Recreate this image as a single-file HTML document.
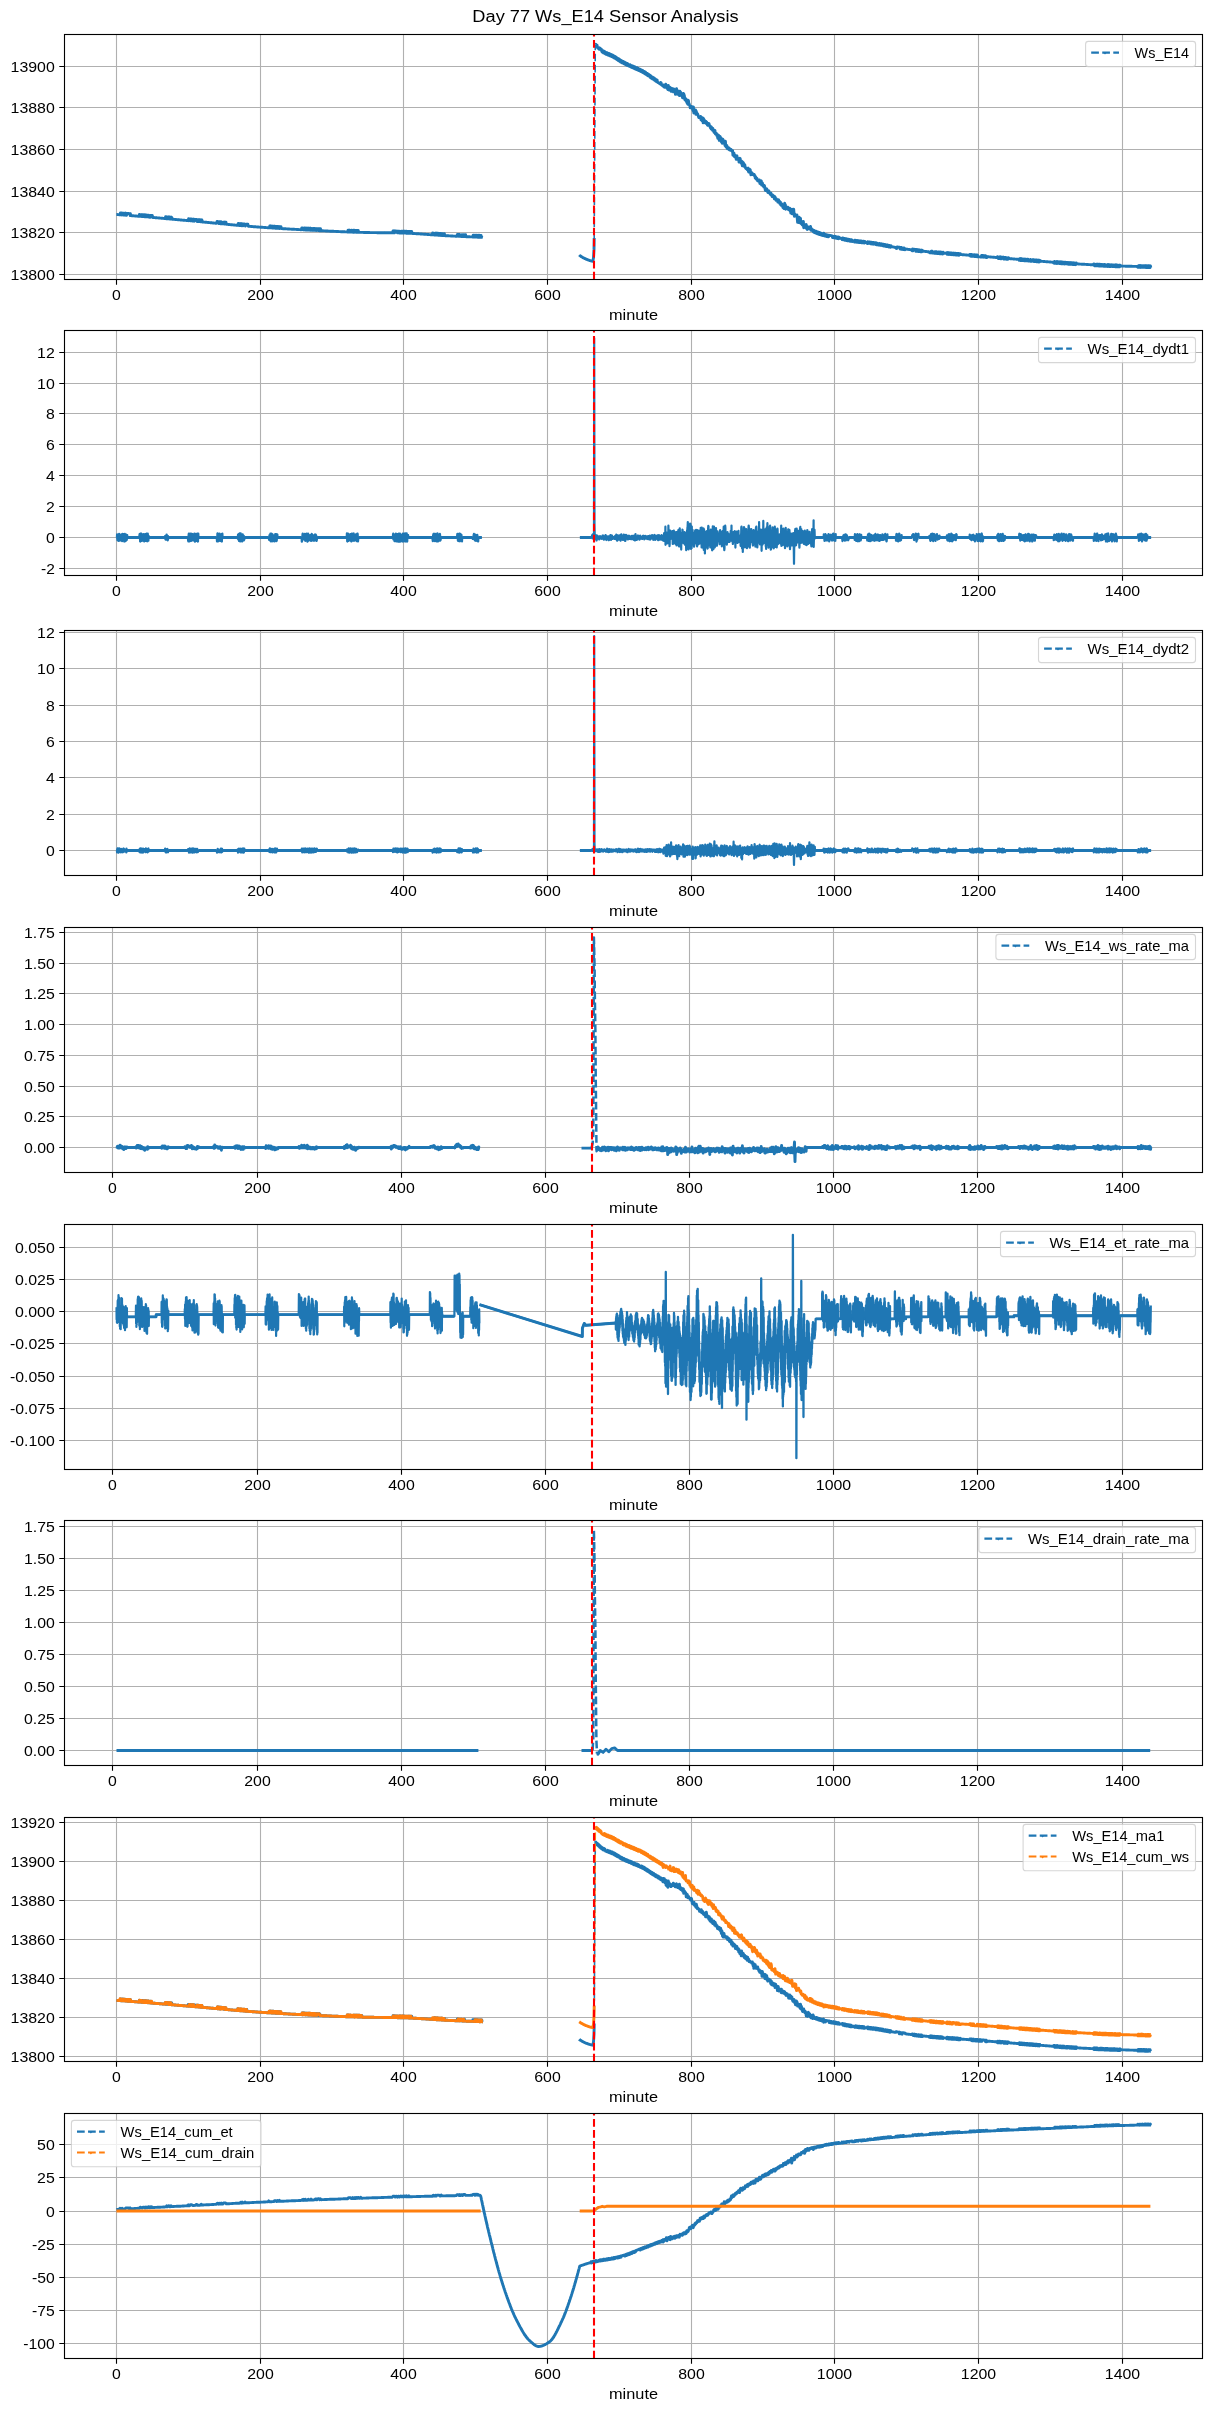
<!DOCTYPE html>
<html><head><meta charset="utf-8"><title>Day 77 Ws_E14 Sensor Analysis</title>
<style>html,body{margin:0;padding:0;background:#fff;width:1211px;height:2411px;overflow:hidden}
svg text{font-family:"Liberation Sans",sans-serif}
svg{will-change:transform}</style></head>
<body>
<svg width="1211" height="2411" viewBox="0 0 1211 2411" style="display:block">
<rect width="100%" height="100%" fill="#ffffff"/>
<defs>
<clipPath id="c0"><rect x="64.5" y="34.5" width="1138.0" height="245.0"/></clipPath>
<clipPath id="c1"><rect x="64.5" y="330.5" width="1138.0" height="245.0"/></clipPath>
<clipPath id="c2"><rect x="64.5" y="630.5" width="1138.0" height="245.0"/></clipPath>
<clipPath id="c3"><rect x="64.5" y="927.5" width="1138.0" height="245.0"/></clipPath>
<clipPath id="c4"><rect x="64.5" y="1224.5" width="1138.0" height="245.0"/></clipPath>
<clipPath id="c5"><rect x="64.5" y="1520.5" width="1138.0" height="245.0"/></clipPath>
<clipPath id="c6"><rect x="64.5" y="1817.5" width="1138.0" height="244.0"/></clipPath>
<clipPath id="c7"><rect x="64.5" y="2113.5" width="1138.0" height="245.0"/></clipPath>
</defs>
<text x="605.5" y="22.0" text-anchor="middle" font-size="17.3" textLength="266.3" lengthAdjust="spacingAndGlyphs">Day 77 Ws_E14 Sensor Analysis</text>
<g font-family="Liberation Sans, sans-serif" font-size="14.4" fill="#000">
<path d="M116.5 34.5V279.5M260.5 34.5V279.5M403.5 34.5V279.5M547.5 34.5V279.5M691.5 34.5V279.5M834.5 34.5V279.5M978.5 34.5V279.5M1122.5 34.5V279.5M64.5 274.5H1202.5M64.5 232.5H1202.5M64.5 191.5H1202.5M64.5 149.5H1202.5M64.5 107.5H1202.5M64.5 66.5H1202.5" stroke="#b0b0b0" stroke-width="1.11" fill="none"/>
<path d="M116.4 214.5l.7 0 .4 .1 1.1 0 .3 .1 1.1 0 .4-1.8 .3 0 .4 1.9 .3 .1 .4-1.9 .3 1.9 .4-1.8 .4 1.9 .3 0 .4-1.8 .3 1.9 .8 0 .3-1.8 .4 1.9 .3-1.9 .4 1.9 .4 .1 .3-1.9 .4 0 .3 .1 .8 0 .3 .1 1.1 0 .4 1.9 .3-1.8 .4 1.9 .3 0 .4 .1 1.1 0 .3 .1 .7 0 .4 .1 .7 0 .4 .1 1.1 0 .3 .1 .7 0 .4 .1 1.1 0 .3 .1 .4-1.9 .4 1.9 .3 .1 .4 0 .3-1.8 .8 0 .3 1.9 .4-1.8 .3 1.9 .7 0 .4-1.8 .4 0 .3 .1 .4 1.9 .3-1.9 .4 1.9 .4-1.8 .3 0 .4 1.9 .3-1.8 .8 0 .3 .1 .4 0 .3 1.9 .4-1.8 .4 1.9 .7 0 .3-1.8 .8 0 .3 .1 .7 0 .4 1.9 .3 .1 .8 0 .3 .1 .7 0 .4 .1 .7 0 .4 .1 .7 0 .4 .1 1 0 .4 .1 .7 0 .4 .1 .7 0 .4 .1 .7 0 .3 .1 .7 0 .4 .1 .7 0 .4 .1 .7 0 .4 .1 .3-1.9 .4 .1 .3 1.9 .4 0 .4-1.9 .3 2 .7 0 .4-1.8 .4 1.9 .3-1.9 .4 .1 .3 1.9 .4-1.9 .4 .1 .3 1.9 .4-1.9 .3 .1 .4 1.9 .7 0 .4 .1 .7 0 .3 .1 .8 0 .3 .1 .7 0 .4 .1 .7 0 .4 .1 .7 0 .4 .1 .7 0 .3 .1 .8 0 .3 .1 .7 0 .4 .1 .7 0 .4 .1 .7 0 .3 .1 .8 0 .3 .1 1.1 0 .4 .1 .7 0 .3 .1 .8 0 .3-1.8 .4 1.9 .3-1.8 .4 0 .4 1.9 .3 0 .4-1.8 .3 1.9 .4-1.8 .3 0 .4 1.9 .4 0 .3-1.8 .4 1.9 .3-1.8 .4 0 .4 1.9 .3-1.8 .7 0 .4 .1 .7 0 .4 .1 .3 1.9 .4 0 .4-1.8 .3 1.9 .4 0 .3-1.9 .4 .1 .7 0 .4 .1 .3 1.9 .4-1.9 .4 2 .3-1.9 .4 1.9 .3 .1 .7 0 .4 .1 .7 0 .4 .1 .7 0 .4 .1 .7 0 .3 .1 .8 0 .3 .1 .7 0 .4 .1 .7 0 .4 .1 .7 0 .4 .1 .7 0 .3 .1 .4 0 .3 .1 .8 0 .3 .1 .7 0 .4 .1 .7 0 .4 .1 .3 0 .4-1.8 .7 0 .4 .1 .3 0 .4 1.9 .4-1.8 .3 0 .4 1.9 .3 .1 .4-1.9 .4 0 .3 2 .7 0 .4 .1 .3 0 .4-1.8 .7 0 .4 .1 .3 1.9 .4-1.9 .4 .1 .7 0 .3 1.9 .4 .1 .7 0 .4 .1 .3 0 .4 .1 .7 0 .4 .1 .7 0 .4 .1 .7 0 .3 .1 .7 0 .4 .1 .7 0 .4 .1 .7 0 .4 .1 .7 0 .3 .1 .8 0 .3 .1 .7 0 .4-1.8 .4 0 .3 1.9 .4 .1 .3-1.9 .4 1.9 .4-1.8 .3 1.9 .4 0 .3-1.8 .4 1.9 .4-1.9 .3 1.9 .4 .1 .3-1.9 .4 .1 .7 0 .4 .1 .3 0 .4 1.9 .3-1.8 1.1 0 .4 .1 .7 0 .4 1.9 .3 .1 .7 0 .4 .1 1.1 0 .3 .1 .8 0 .3 .1 .7 0 .4 .1 1.1 0 .3 .1 1.1 0 .4 .1 .7 0 .3 .1 1.1 0 .4 .1 1.1 0 .3 .1 1.1 0 .4 .1 1 0 .4 .1 1.1 0 .3 .1 1.1 0 .4 .1 1 0 .4 .1 1.1 0 .3 .1 .8 0 .3-1.8 .4 1.9 .3-1.9 .4 1.9 .4 0 .3-1.8 .4 0 .3 1.9 .4-1.9 .3 1.9 .4 .1 .4-1.9 .3 0 .4 .1 .3 0 .4 1.9 .4 0 .3-1.8 .4 0 .3 1.9 .4-1.9 .4 1.9 .3-1.8 .4 0 .3 1.9 .4 0 .4-1.8 .3 1.9 .4-1.9 .7 0 .4 .1 .3 1.9 1.1 0 .3 .1 1.5 0 .3 .1 1.5 0 .3 .1 1.1 0 .4 .1 1.4 0 .4 .1 1.4 0 .4 .1 1.4 0 .4 .1 1.4 0 .4 .1 1.4 0 .4 .1 1.4 0 .4 .1 1.4 0 .4 .1 1 0 .4-1.8 .7 0 .4 1.9 .7 0 .3 .1 .4-1.9 .4 0 .3 1.9 .4-1.8 .3 1.9 .4-1.9 .4 1.9 .3-1.9 .4 1.9 .3-1.8 .8 0 .3 1.9 .4-1.8 .3 1.8 .4-1.8 .4 0 .3 1.9 .4-1.9 .3 .1 .4 1.9 1.1 0 .3-1.8 .4 0 .3 1.9 .4 0 .4-1.9 .3 1.9 .4 0 .3-1.8 .4 0 .4 1.9 .3-1.9 .4 .1 1.1 0 .3 1.9 .4 0 .3-1.8 .4 1.9 .4 0 .3-1.9 .4 0 .3 1.9 .4 0 .4 .1 1.7 0 .4 .1 1.8 0 .4 .1 1.8 0 .3 .1 1.5 0 .3 .1 1.8 0 .4 .1 1.8 0 .3 .1 1.8 0 .4 .1 1.8 0 .3 .1 1.8 0 .4 .1 1.8 0 .4 .1 2.1 0 .4 .1 1.8 0 .3 .1 .4 0 .3-1.9 .8 0 .3 1.9 .4-1.8 .3 1.8 .4 .1 .7 0 .4-1.9 .3 0 .4 1.9 .4 0 .3 .1 .4 0 .3-1.9 .7 0 .4 1.9 .4-1.8 .7 0 .3 1.9 .4 0 .4-1.9 .3 0 .4 1.9 .3-1.9 .4 0 .4 1.9 .7 0 .3 .1 4 0 .3 .1 5.4 0 .4 .1 6.8 0 .4 .1 7.5 0 .4 .1 6.8 0 .4 .1 .7 0 .3-1.9 .4 1.9 .4-1.9 .3 0 .4 1.9 .3-1.9 1.1 0 .4 .1 .7 0 .4 1.8 .3-1.8 1.5 0 .3 1.9 1.5 0 .3-1.8 .4 0 .3 1.8 .4 .1 .4-1.9 1 0 .4 1.9 .3-1.9 .4 0 .4 .1 .3 1.8 .4 .1 .3-1.9 .4 1.9 .7 0 .4-1.8 .3 1.8 .4-1.8 .4 1.9 .3-1.9 .4 1.9 .3 0 .4-1.8 .4 0 .3 1.9 .4-1.9 .3 0 .4 1.9 .4 0 .3 .1 1.4 0 .4 .1 1.1 0 .3 .1 1.5 0 .3 .1 1.1 0 .4 .1 1.1 0 .3 .1 1.1 0 .4 .1 1 0 .4 .1 1.1 0 .3 .1 .7 0 .4 .1 1.1 0 .3 .1 1.1 0 .4 .1 1.1 0 .3 .1 .7 0 .4 .1 .7 0 .4-1.8 .3 0 .4 1.9 .7 0 .4 .1 .3 0 .4-1.9 .3 .1 .4 1.9 .4-1.9 .3 1.9 .4-1.8 1.1 0 .3 1.9 .4-1.8 .3 1.9 .4-1.9 .4 1.9 .3 .1 .4-1.9 .3 0 .4 1.9 .4-1.8 .3 1.9 .4-1.9 .3 0 .4 .1 .4 1.9 .7 0 .3-1.9 .4 1.9 .3 .1 1.8 0 .4 .1 1.4 0 .4 .1 1.4 0 .4 .1 1.8 0 .4 .1 1.7 0 .4 .1 1.4 0 .4 .1 .4-1.9 1 0 .4 .1 .4 1.9 .3-1.9 .4 1.9 1.1 0 .3 .1 .4 0 .3-1.9 .4 1.9 .7 0 .4-1.8 .7 0 .3 1.9 .8 0 .3-1.8 .4 1.9 1.8 0 .3 .1 1.8 0 .4 .1 2.2 0 .3 .1 .4-1.9 .3 1.9 .4 0 .3-1.9 .4 1.9 .4 .1 .3 0 .4-1.9 .3 1.9 .4 0 .4-1.8 .3 1.8 .4-1.8 .3 1.9 .4 0 .4-1.9 .7 0 .3 1.9 .4-1.8 .4 1.9 .3-1.9 .4 0 .3 1.9 1.1 0 .4 .1" fill="none" stroke="#1f77b4" stroke-width="2.90" stroke-linejoin="round" clip-path="url(#c0)" />
<path d="M579.2 255l.3 .3 .4 .3 .3 .2 .4 .3 .4 .2 .3 .3 .4 .2 .3 .2 .4 .2 .4 .3 .3 .2 .4 .2 .3 .2 .4 .1 .3 .2 .4 .2 .4 .1 .3 .2 .4 .2 .3 .1 .4 .2 .4 .1 .3 .2 .4 .1 .3 .1 .4 .2 .4 .1 .3 .1 .4 .2 .3 .1 .4 .1 .4 .1 .3 .1 .4 .1 .3 0 .4 .1 .4 .1 .3 .1 .7-3.5 .5-8.4 .2-11.4" fill="none" stroke="#1f77b4" stroke-width="2.90" stroke-linejoin="round" clip-path="url(#c0)"/>
<path d="M595.3 44.4l.4-.2 .3 .3 .4 .3 .4 .3 .3 .3 .4 2.2 .3 .3 .4 .4 .4 .3 .3 .4 .4 .3 .3-1.5 .4 .3 .4 .4 .3 .3 .4 .3 .3 .3 .4 2.2 .4 .3 .3 .3 .4-1.6 .3 .2 .4 2.1 .4-1.7 .3 2.1 .4 .2 .3-1.7 .4 2.1 .3 .1 .4-1.7 .4 2.1 .3-1.8 .4 .2 .3 2 .4-1.7 .4 2 .3-1.7 .4 .1 .3 2.1 .4-1.8 .4 .2 .3 2 .4-1.7 .3 2 .4 .2 .4-1.7 .3 2 .4 .2 .3-1.7 .4 .2 .4 2.1 .3-1.7 .4 2.1 .3-1.7 .4 .2 .3 .2 .4 2.1 .4-1.6 .3 2.1 .4 .2 .3 .3 .4 .2 .4-1.7 .3 2.2 .4-1.7 .3 .2 .4 2.2 .4 .2 .3-1.7 .4 2.1 .3 .3 .4 .2 .4-1.7 .3 2.1 .4 .2 .3-1.7 .4 .2 .4 .2 .3 .2 .4 2 .3-1.7 .4 .2 .3 2.1 .4-1.7 .4 2 .3 .2 .4-1.7 .3 2 .4-1.7 .4 .1 .3 2.1 .4 .1 .3 .2 .4 .2 .4 .1 .3-1.7 .4 .2 .3 2 .4 .2 .4 .1 .3 .2 .4-1.7 .3 2 .4 .2 .4-1.7 .3 .1 .4 2.1 .3 .1 .4-1.7 .3 2 .4-1.7 .4 .2 .3 2 .4 .2 .3-1.8 .4 .2 .4 2 .3 .2 .4-1.7 .3 .1 .4 2.1 .4 .1 .3 .2 .4 .2 .3-1.7 .4 .1 .4 2.1 .3 .1 .4 .2 .3 .2 .4-1.7 .4 .2 .3 2.1 .4 .2 .3 .2 .4 .2 .4-1.6 .3 2.1 .4-1.7 .3 .3 .4 2.1 .3 .2 .4 .3 .4 .2 .3-1.6 .4 .2 .3 2.2 .4-1.6 .4 .2 .3 .3 .4 .2 .3 2.1 .4-1.6 .4 2.2 .3-1.7 .4 2.2 .3 .2 .4 .3 .4 .2 .3-1.6 .4 .2 .3 .2 .4 .3 .4 2.1 .3 .2 .4-1.6 .3 .2 .4 2.1 .3-1.6 .4 2.1 .4-1.7 .3 .3 .4 2.1 .3 .2 .4 .2 .4 .3 .3 .2 .4 .3 .3 .2 .4 .2 .4 .3 .3-1.6 .4 .2 .3 2.1 .4 .3 .4 .2 .3 .3 .4 .3 .3-.9 .4 1.8 .4 .2 .3-.6 .4 .8 .3-.3 .4-.4 .3-2.3 .4 1.5 .4 1.2 .3 1.3 .4-1 .3 .3 .4 2.1 .4-4.1 .3 2 .4 1.9 .3 .7 .4-3 .4 2.1 .3 .7 .4-1.9 .3 3.4 .4-1.3 .4-1.3 .3-.3 .4 1.9 .3 .6 .4 .8 .4-2.9 .3 1.2 .4 1.5 .3 .4 .4-2 .3 4.3 .4-4.1 .4-.6 .3-.9 .4 1.1 .3 .5 .4 4 .4-.8 .3-1.4 .4 1.3 .3-.4 .4 2.5 .4-4.3 .3 2.5 .4-1.9 .3 2.7 .4-1.3 .4 .1 .3 2.8 .4 .5 .3 1.3 .4-3 .4-1.4 .3 .3 .4 1.2 .3 1 .4 3.7 .3-1.5 .4 1.9 .4-1.3 .3 2.6 .4-1.7 .3 2.9 .4 .2 .4 1.4 .3-2 .4-1.9 .3 2.6 .4 .7 .4 1.6 .3 .4 .4 2.1 .3-.4 .4-.5 .4 .9 .3-1.3 .4 .7 .3 1 .4 1.5 .4 1 .3-3.7 .4 6.1 .3-1.3 .4 .3 .3-.4 .4 .4 .4-2 .3 4.4 .4-3.2 .3 3 .4-1.1 .4 1.2 .3-.2 .4 1.4 .3 .8 .4 1.3 .4-.3 .3-.6 .4 .5 .3-.7 .4 0 .4 3.4 .3-2.2 .4 .5 .3 2.5 .4-2.9 .4 1.4 .3 3.6 .4-4.3 .3 3.1 .4-2 .4 2.5 .3-.2 .4 .9 .3-.3 .4-1.1 .3 2.2 .4-1.5 .4 1.5 .3 1.4 .4-1.5 .3 1.9 .4-.9 .4-1 .3 1 .4 1 .3 .5 .4 1.7 .4 .3 .3 .6 .4-1.8 .3 2.6 .4-.2 .4 1 .3-1.8 .4 1.8 .3-.3 .4 2.2 .4-1.7 .3 2.5 .4-2.4 .3 3.5 .4 0 .3 .2 .4-.9 .4 2.3 .3-1.4 .4 2.5 .3 1.5 .4-2.7 .4-.2 .3 2.7 .4 2.4 .3-1.1 .4-2.9 .4 .8 .3 1.1 .4 3.2 .3-3.1 .4 3.7 .4 1.1 .3 0 .4-3.9 .3 3.7 .4-2.5 .4 2.3 .3 .7 .4 .3 .3 1.8 .4-4.4 .3 4.5 .4 1.4 .4 .1 .3-1.8 .4 1.6 .3 1.8 .4-.4 .4-.8 .3 .1 .4 .4 .3 1.6 .4-.9 .4 .1 .3 1.4 .4-.6 .3-.2 .4 .8 .4 .8 .3 .5 .4-1 .3 4.6 .4-.3 .4-2 .3 .2 .4 3.4 .3-.5 .4 1.1 .3-.1 .4-1.2 .4 3.5 .3-2.8 .4-.7 .3 2.3 .4-.3 .4 1.5 .3 0 .4-.7 .3 3.4 .4-3.5 .4 1.2 .3-1.4 .4 2.6 .3 1.3 .4 1 .4-2.1 .3 1.4 .4 3.3 .3-3.9 .4 1.5 .4-.7 .3 3.2 .4-.9 .3 1.6 .4-1.9 .4 2.8 .3 0 .4 1.1 .3-.6 .4 .6 .3 .4 .4 .7 .4-1.4 .3-.2 .4 3.1 .3 .8 .4-2 .4-1 .3 3 .4-2.3 .3 2.2 .4 2.8 .4-2 .3-.2 .4 1.4 .3-.4 .4 1.1 .4 .2 .3-.1 .4-.4 .3 .1 .4 1.5 .4-.4 .3 2.5 .4-1.1 .3 .4 .4 1.8 .3 .4 .4-1.1 .4 2.1 .3-.6 .4 1 .3-.1 .4 .2 .4-1.1 .3 1.1 .4 2.4 .3-1 .4 1.6 .4-1.9 .3-1.3 .4 4.2 .3-.6 .4-1.4 .4 2.2 .3 .7 .4-.9 .3 1.9 .4-1.6 .4 .9 .3 1.5 .4 2.7 .3-1.7 .4 1.9 .3-1.5 .4-.4 .4 1 .3 1.1 .4 1.6 .3-1.4 .4 1 .4-1.1 .3 1.9 .4 0 .3 1.2 .4-.4 .4 1.1 .3-1.5 .4 1.8 .3-.4 .4 1.9 .4-1.6 .3 .3 .4 .1 .3 1.5 .4 0 .4 2 .3-2.4 .4 1.4 .3-.6 .4 2.2 .3 .9 .4-1.5 .4 1.6 .3-.8 .4 .8 .3 1.7 .4-1.8 .4-.4 .3 2.5 .4-1.6 .3 2.5 .4-.3 .4-1 .3 2.9 .4-1.2 .3 1.7 .4-1.6 .4 1.5 .3-.4 .4 2.5 .3 .3 .4-.5 .4 1.4 .3-.9 .4-4.4 .3 5 .4-3.5 .3 4.4 .4-1.6 .4 1 .3-.1 .4-.4 .3-1 .4 .1 .4 2.2 .3-.4 .4 .7 .3-1 .4-.5 .4 2.8 .3-1 .4 3 .3-.9 .4-2.4 .4-.5 .3 4.6 .4-.4 .3-.2 .4-1.4 .4-2.5 .3 3.8 .4 3.1 .3-2.2 .4 1.9 .3-.7 .4-.1 .4 .3 .3 1 .4-1.4 .3 3.2 .4 4.2 .4-1.6 .3-2.6 .4 4.4 .3-5.5 .4 4.2 .4-3 .3 .5 .4-.5 .3 5.2 .4-2.1 .4 .1 .3 2.8 .4 .6 .3-2.5 .4 2.2 .4-3.1 .3 6.3 .4-1 .3-.5 .4 .3 .4-.1 .3 .3 .4 .8 .3-3.2 .4 4.3 .3-.4 .4 1.1 .4-2.6 .3 2 .4-.3 .3-.1 .4-1.2 .4 .6 .3 1.1 .4-2.3 .3-.1 .4 3.7 .4-1.4 .3 0 .4 1.6 .3-1 .4 .6 .4 .6 .3 1.4 .4 .2 .3-1.7 .4 .1 .4 2.1 .3 .1 .4-1.7 .3 .1 .4 2.1 .3-1.8 .4 .2 .4 2 .3-1.7 .4 .1 .3 .1 .4 2 .4-1.7 .3 .1 .4 2 .3 .1 .4-1.7 .4 .1 .3 2 .4 .1 .3 .1 .4 .1 .4-1.7 .3 1.9 .4-.9 .3-1.6 .4 2.7 .4-1.5 .3 1.7 .4 .1 .3 .1 .4-1.6 .3 1.8 .4 .1 .4-1.6 .3 .1 .4 1.7 .3 .1 .4 0 .4-1.6 .3 .1 .4 .1 .3 0 .4 .1 .4 .1 .3 0 .4 .1 .3 0 .4 .1 .4 1.7 .3 .1 .4 0 .3 .1 .4 .1 .4-1.6 .3 0 .4 1.8 .3-1.6 .4 .1 .3 1.7 .4 .1 .4 .1 .3 0 .4 .1 .3-1.6 .4 .1 .4 1.8 .3-1.6 .4 .1 .3 .9 .4 .1 .4 0 .3 .1 .4 .1 .3 .1 .4 .1 .4 .9 .3-1.6 .4 1.8 .3-1.6 .4 1.7 .4-1.6 .3 .1 .4 .1 .3 1.8 .4-1.6 .3 0 .4 .1 .4 1.8 .3-1.6 .4 1.7 .3-1.6 .4 1.8 .4-1.6 .3 0 .4 .1 .3 .1 .4 1.7 .4 .1 .3 0 .4-1.6 .3 1.7 .4-1.6 .4 .1 .3 1.7 .4-.8 .3 .1 .4 0 .4 .1 .3 0 .4 .9 .3-1.6 .4 0 .4 1.7 .3 .1 .4 0 .3 .1 .4-1.6 .3 1.7 .4-1.7 .4 1.8 .3-1.7 .4 1.7 .3 .1 .4 0 .4-1.6 .3 1.7 .4-1.6 .3 0 .4 .1 .4 1.7 .3-1.7 .4 1.8 .7 0 .4-1.6 .3 0 .4 1.8 .3 0 .4-1.6 .4 .8 .3 .1 .4 0 .3 .1 .7 0 .4 .9 .4-1.6 .3 1.7 .4-1.6 .3 0 .4 .1 .7 0 .4 1.8 .7 0 .4-1.6 .3 1.7 .4 .1 .3-1.6 .4 0 .4 1.7 .3-1.6 .4 1.7 .3-1.6 .4 .1 .4 0 .3 .1 .4 1.7 .3-1.6 .4 0 .3 1.8 .4-1.6 .4 1.7 .3 0 .4 .1 .3 .1 .4 0 .4-1.6 .3 .1 .4 1.7 .3 .1 .4 0 .4 .1 .3-1.6 .4 .1 .3 .1 .4 0 .4 1.8 .3-1.6 .4 0 .3 1.8 .4-1.6 .4 1.7 .3 .1 .4-1.6 .3 .1 .4 0 .3 1.8 .4-1.6 .4 1.7 .3-1.6 .4 .1 .3 .1 .4 1.7 .4 .1 .3-1.6 .4 .1 .3 0 .4 1.8 .4-1.6 .3 0 .4 .9 .3 .1 .4 .1 .4 .1 .3 0 .4 .1 .3 .1 .4 0 .4 .1 .3 .1 .4 0 .3 .1 .4 .1 .3 .9 .4 0 .4 .1 .3-1.6 .4 0 .3 .1 .4 .1 .4 0 .3 .1 .4 0 .3 .1 .4 1.7 .4-1.6 .3 1.7 .4-1.6 .3 1.7 .4-1.6 .4 1.7 .3 .1 .4 0 .3 .1 .4-1.6 .4 0 .3 1.7 .4 .1 .3 0 .4-.7 .4 0 .3 .1 .4 0 .3 .1 .4 0 .3 .1 .4 0 .4 .1 .3 0 .4 .1 .3 0 .4 .1 .4 0 .3 .1 .7 0 .4 .1 .4 0 .3 .9 .4-1.6 .3 1.7 .4-1.6 .4 0 .3 .1 .4 0 .3 .1 .4 0 .4 .1 .3 1.7 .4-1.6 .3 1.7 .4-1.7 .3 1.8 .4-1.7 .4 .1 .3 1.7 .4-1.6 .3 1.7 .4-1.7 .4 .1 .3 0 .4 1.7 .3-1.6 .4 .1 .4 1.7 .3-1.7 .4 .1 .3 .9 .8 0 .3 .1 .4 0 .3 .1 .8 0 .3 .1 .7 0 .4 .1 .3 0 .4 .1 .7 0 .4 .1 .3 0 .4 .1 .4 .8 .3 .1 .7 0 .4 .1 .4-1.7 .3 1.7 .4-1.6 .3 0 .4 1.7 .4 .1 .7 0 .3 .1 .4 0 .4-1.6 .3 0 .4 1.7 .3 .1 .4-1.7 .3 .1 .4 1.7 .7 0 .4-1.6 .3 1.7 .4 0 .4-1.6 .3 1.7 .7 0 .4-1.6 .4 1.7 .3-1.6 .4 1.7 .7 0 .4 .1 .3-1.7 .4 .9 .7 0 .4 .1 .7 0 .3 .1 .8 0 .3-.8 .4 .1 .3 1.7 .4-1.7 .3 1.7 .4-1.6 .4 1.7 .3-1.7 .4 .1 .7 0 .4 1.7 .3-1.6 .7 0 .4 1.7 .4-1.6 .7 0 .3 1.7 .4-1.6 .4 1.7 .3 0 .4-1.6 .3 0 .4 1.7 .4-1.6 .3 0 .4 1.7 .3-1.6 .4 1.6 .3-1.6 .4 0 .4 1.7 .3 .1 .4-1.7 .3 0 .4 .1 .4 0 .3 .9 1.1 0 .4 .1 .7 0 .3 .1 1.1 0 .4 .1 1.1 0 .3 .1 .7 0 .4 .1 1.1 0 .3 .1 .7 0 .4-.8 .4 .1 .3 1.6 .4-1.6 .3 1.7 .4-1.6 .4 1.7 .3-1.7 .4 1.7 .3 0 .4 .1 .4 0 .3-1.6 .4 0 .3 1.7 .4-1.6 .4 1.6 .3 .1 .4-1.7 .3 .1 .4 1.7 .3 0 .4-1.6 .4 1.7 1 0 .4 .1 .7 0 .4 .1 .7 0 .4-1.6 .3 1.7 .4 0 .3-1.6 .4 0 .4 1.7 .3-1.6 .7 0 .4 .1 .4 1.7 .3 0 .4-1.6 .3 1.7 .7 0 .4-.8 .4 0 .3 .1 .7 0 .4 .1 .7 0 .4 .1 .7 0 .4 .1 1 0 .4 .1 .7 0 .4 .1 .7 0 .4 .1 .7 0 .3 .1 1.1 0 .4-.8 .3 .1 .4 1.7 .7 0 .4 .1 .3-1.7 .4 1.7 .3-1.6 .4 1.7 .4-1.6 .3 1.6 .4-1.6 .3 0 .4 .1 .7 0 .4 1.7 .3-1.6 .4 1.7 .4-1.6 .3 1.7 .4-1.7 .3 .1 .4 0 .4 1.7 .7 0 .3 .1 .4 0 .3-1.6 .4 0 .4 .9 .7 0 .3 .1 1.1 0 .4 .1 .7 0 .4 .1 .7 0 .3 .1 .8 0 .3 .1 1.1 0 .4 .1 .7 0 .3 .1 .7 0 .4 .1 .7 0 .4 .9 .3-1.7 .4 .1 .4 1.7 .3-1.7 .4 1.7 .3-1.6 .4 0 .4 1.7 .3 .1 1.1 0 .4-1.6 .3 1.7 .4-1.6 .3 0 .4 1.7 .4-1.6 .3 1.6 .4 .1 .3 0 .4-1.6 .7 0 .4 1.7 .3 .1 1.1 0 .4 .1 .3-1.7 .4 .1 .3 0 .4 1.7 .4 0 .3-1.6 .7 0 .4 .1 .4 0 .3 1.7 .4-1.6 .7 0 .4 1.7 .3 0 .4-1.6 .3 1.7 .4 0 .3-1.6 .4 1.7 .4-1.6 .3 0 .4 1.7 .3-1.6 .4 1.6 .4-1.6 .3 .9 .7 0 .4 .1 .7 0 .4 .1 1.1 0 .3 .1 .7 0 .4 .1 .7 0 .4 .1 1.1 0 .3 .1 .7 0 .4 .1 1.1 0 .3 .1 .7 0 .4 .1 .7 0 .4 .1 1.1 0 .3 .1 .4 .8 .3 .1 .4-1.7 .4 .1 .3 1.6 .4 .1 .3 0 .4-1.6 .4 1.7 .3-1.7 .4 1.7 .3-1.6 .7 0 .4 .1 .4 0 .3 1.7 .4-1.7 .3 1.7 .4-1.6 .4 1.7 .3-1.7 .4 .1 .3 1.7 .4-1.7 .4 1.7 .3-1.6 .4 1.7 .7 0 .4-1.6 .3 1.7 .4-1.7 .3 0 .4 .1 .7 0 .4 1.7 .3 0 .4-1.6 .3 0 .4 1.7 .4-1.6 .3 0 .4 1.7 .3-1.7 .4 1.7 .4-1.6 .3 1.7 .4 0 .3-1.7 .4 .1 .4 1.7 .3 0 .4-1.7 .3 1.7 .4-1.6 .7 0 .4 1.7 .3 0 .4 .1 .4-1.7 .3 0 .4 .9 1 0 .4 .1 1.1 0 .3 .1 1.5 0 .3 .1 1.5 0 .3 .1 1.5 0 .3 .1 1.5 0 .3 .1 1.1 0 .4 .1 1.4 0 .4 .1 1.8 0 .3 .1 1.1 0 .4-.8 .3 0 .4 1.7 .3-1.6 .4 1.7 1.1 0 .3-1.6 .4 0 .3 1.7 .4-1.7 .4 0 .3 .1 .4 1.6 .3 .1 .4-1.7 .7 0 .4 .1 .3 1.6 .4-1.6 .4 1.7 .3-1.7 .4 .1 .3 0 .4 1.6 .4 .1 .3 0 .4-1.7 .3 1.7 .4 0 .4-1.6 .3 1.7 1.5 0 .3-1.6 .4 1.7 .3-1.7 .4 1.7 .3-1.7 .4 .1 .4 1.6 .3-1.6 .4 1.7 .7 0 .4-1.7 .3 .1 .4 1.6 .3-1.6 .4 1.7 .7 0 .4-1.7 .3 .1 .4 1.6 .4 .1 .3-1.7 .4 1.7 .3-1.7 .4 1.7 .4-1.6 .3 1.6 .4-1.6 .3 1.7 .7 0 .4-1.7 .4 0 .3 1.7 .4-1.6 .3 0 .4 .8 .7 0 .4 .1 3.2 0 .4 .1 3.2 0 .4 .1 3.2 0 .4 .1 3.9 0 .4 .1 .7 0 .3 .8 .4 0 .4-1.6 .3 1.6 .4-1.6 .3 1.7 .4-1.7 .4 1.7 .3-1.7 .4 1.7 .3 0 .4-1.7 .4 0 .3 1.7 .7 0 .4-1.6 .4 0 .3 1.6 .4 0 .3-1.6 .4 0 .4 1.7 .3-1.7 .4 0 .3 1.7 .8 0 .3-1.7 1.1 0 .3 1.7 .4-1.6 .4 1.6 .3-1.6 .4 1.6" fill="none" stroke="#1f77b4" stroke-width="2.90" stroke-linejoin="round" clip-path="url(#c0)"/>
<path d="M594.2 238l1.1-193.6" fill="none" stroke="#1f77b4" stroke-width="1.60" stroke-linejoin="round" clip-path="url(#c0)" stroke-dasharray="7.71 3.33"/>
<path d="M594.0 279.5V34.5" stroke="#ff0000" stroke-width="2.08" stroke-dasharray="7.71 3.33" fill="none"/>
<rect x="64.5" y="34.5" width="1138.0" height="245.0" fill="none" stroke="#000" stroke-width="1.11" stroke-linejoin="miter"/>
<path d="M116.5 279.5v5.2M260.5 279.5v5.2M403.5 279.5v5.2M547.5 279.5v5.2M691.5 279.5v5.2M834.5 279.5v5.2M978.5 279.5v5.2M1122.5 279.5v5.2M64.5 274.5h-5.2M64.5 232.5h-5.2M64.5 191.5h-5.2M64.5 149.5h-5.2M64.5 107.5h-5.2M64.5 66.5h-5.2" stroke="#000" stroke-width="1.11" fill="none"/>
<text x="116.5" y="299.8" text-anchor="middle" textLength="8.8" lengthAdjust="spacingAndGlyphs">0</text>
<text x="260.5" y="299.8" text-anchor="middle" textLength="26.5" lengthAdjust="spacingAndGlyphs">200</text>
<text x="403.5" y="299.8" text-anchor="middle" textLength="26.5" lengthAdjust="spacingAndGlyphs">400</text>
<text x="547.5" y="299.8" text-anchor="middle" textLength="26.5" lengthAdjust="spacingAndGlyphs">600</text>
<text x="691.5" y="299.8" text-anchor="middle" textLength="26.5" lengthAdjust="spacingAndGlyphs">800</text>
<text x="834.5" y="299.8" text-anchor="middle" textLength="35.3" lengthAdjust="spacingAndGlyphs">1000</text>
<text x="978.5" y="299.8" text-anchor="middle" textLength="35.3" lengthAdjust="spacingAndGlyphs">1200</text>
<text x="1122.5" y="299.8" text-anchor="middle" textLength="35.3" lengthAdjust="spacingAndGlyphs">1400</text>
<text x="54.8" y="280.2" text-anchor="end" textLength="44.2" lengthAdjust="spacingAndGlyphs">13800</text>
<text x="54.8" y="238.2" text-anchor="end" textLength="44.2" lengthAdjust="spacingAndGlyphs">13820</text>
<text x="54.8" y="197.2" text-anchor="end" textLength="44.2" lengthAdjust="spacingAndGlyphs">13840</text>
<text x="54.8" y="155.2" text-anchor="end" textLength="44.2" lengthAdjust="spacingAndGlyphs">13860</text>
<text x="54.8" y="113.2" text-anchor="end" textLength="44.2" lengthAdjust="spacingAndGlyphs">13880</text>
<text x="54.8" y="72.2" text-anchor="end" textLength="44.2" lengthAdjust="spacingAndGlyphs">13900</text>
<text x="633.5" y="319.8" text-anchor="middle" textLength="49.0" lengthAdjust="spacingAndGlyphs">minute</text>
<rect x="1085.6" y="41.4" width="110.0" height="25.2" rx="2.8" ry="2.8" fill="#ffffff" fill-opacity="0.8" stroke="#cccccc" stroke-opacity="0.8" stroke-width="1.11"/>
<path d="M1091.2 52.6h27.78" stroke="#1f77b4" stroke-width="2.08" stroke-dasharray="7.71 3.33" fill="none"/>
<path d="M1103.7 53.0l1.3 1.6l1.3 -1.6z" fill="#1f77b4"/>
<text x="1134.6" y="58.3" textLength="54.4" lengthAdjust="spacingAndGlyphs">Ws_E14</text>
<path d="M116.5 330.5V575.5M260.5 330.5V575.5M403.5 330.5V575.5M547.5 330.5V575.5M691.5 330.5V575.5M834.5 330.5V575.5M978.5 330.5V575.5M1122.5 330.5V575.5M64.5 568.5H1202.5M64.5 537.5H1202.5M64.5 506.5H1202.5M64.5 475.5H1202.5M64.5 444.5H1202.5M64.5 413.5H1202.5M64.5 383.5H1202.5M64.5 352.5H1202.5" stroke="#b0b0b0" stroke-width="1.11" fill="none"/>
<path d="M116.4 537.5l.5 0 .2-3.2 .2 1.5 .2 4.5 .2-2.2 .1-2.5 .2-.7 .2 3.8 .2 1.2 .2 1 .1-1.3 .2-2.2 .2-3.6 .2 1.1 .2 5.8 .1-2 .2-1.3 .2-1.9 .2 3 .2 1 .1 .9 .2-2.5 .2 .6 .2-1 .2-.9 .1-2.2 .2 1.6 .2 3.9 .2-.8 .1 2.1 .2-1.3 .2-3.3 .2-2.7 .2 .1 .1 3.8 .2 .8 .2 1 .2-5.5 .2 1.3 .1 1 .2 4.6 .2 .5 .2-5.9 .2-1.3 .1-.5 .2 .8 .2 2.3 .2 2.7 .2 1.6 .1-4.2 .2 1.4 .2-.7 .2-3.1 .2 1.1 .1 2.2 .2 2.1 .2-4.1 .2-.9 .2 2.5 11.8 0 .2-1.8 .2-1.5 .2-.3 .1 .2 .2 7.3 .2-.4 .2 .5 .2-3.5 .1-4.4 .2-.1 .2 .9 .2 6.4 .2-.4 .1 .6 .2-6.8 .2 1.9 .2-.4 .1 3.9 .2 .3 .2 .8 .2-4.6 .2 0 .1-1.9 .2 1.6 .2 2.1 .2-.1 .2 3.5 .1 .1 .2-3.7 .2 0 .2-2.5 .2-1.2 .1 2.6 .2-1.4 .2 4.5 .2-1.1 .2 1.4 .1 .8 .2-3.7 .2-2.6 .2-.9 .2 .4 .1 6.9 .2-.5 .2 .9 .2-2.4 .2-1.2 .1-4 .2 3.9 .2 2 .2 1 .2-4.7 .1 2.5 .2-.9 16 0 .2-1.5 .2 2.2 .1 .8 .2 .5 .2 .2 .2-.1 .2-2.4 .1-1.2 .2-1.4 .2 0 .2 2.6 .2 2.5 .1-2 .2-.2 .2 1.5 .2 1.3 .2-4.1 .1 3 .2-1.7 19.6 0 .2 3 .2 .8 .1-1 .2-5.1 .2-1.6 .2 .1 .2 5.5 .1 2.3 .2 0 .2-4.8 .2 4 .2-5.3 .1-1.8 .2 .1 .2 2.1 .2 3.4 .2 1.8 .1-.1 .2-.6 .2-6.4 .2-.2 .1 .7 .2 2.9 .2 2.9 .2-1 .2-4.8 .1-.2 .2 4.9 .2 1.4 .2-5.7 .2 2 .1-2.6 .2 4.8 .2 .7 .2-2.2 .2-3.9 .1 1.1 .2 3.6 .2 3.3 .2-.2 .2-.7 .1-6.5 .2-.3 .2 .1 .2 .6 .2 4.8 .1 .3 .2 .7 .2 .5 .2-.2 .2-6.7 .1-.4 .2 .1 .2 7.4 .2 .5 .2-.1 .1-4.7 .2-3.3 .2 4 18.1 0 .2 1 .2 2.9 .2-.8 .2-6.9 .1-.3 .2 .2 .2 4.9 .2 3 .2-.7 .1-3.3 .2-2.8 .2 2.3 .2 2.1 .2 .2 .1-3.8 .2-1.8 .2 1.3 .2 5.8 .2 .2 .1-.1 .2-1.6 .2-2 .2 1.3 .2 .4 .1-4.5 .2-.3 .2 2.8 .2 4.1 .2 .4 .1-2.7 .2-.5 .2-4.6 .2 3.8 14.9 0 .2 .3 .1 .9 .2-4 .2 4.8 .2-4 .2-1.4 .1 5.1 .2 .8 .2 1 .2-3.9 .2-3.4 .1-.3 .2 .8 .2 6.8 .2 .4 .2-.1 .1-4.4 .2-3.5 .2 2.7 .2 2.3 .2-1 .1-.4 .2 1.8 .2-1.5 .2 4.2 .2-.1 .1-3 .2-4 .2-.1 .2 1.9 .1 .8 .2 2.7 .2-3.7 .2 1.3 .2-1.4 .1 4.5 .2-1.3 .2 .6 .2-2.2 24.1 0 .1 .4 .2 .7 .2 1.2 .2-2.6 .2-2 .1 2.7 .2 2.6 .2-1.5 .2-3.6 .2-1.9 .1 .3 .2 5.8 .2 .5 .2 1.4 .2-3.7 .1-4.1 .2 2.5 .2 4.4 .2-3.9 .2-1 .1 .5 .2-1.8 .2 5.7 .2 1.3 .1-.6 .2-1.3 .2-1.2 .2-2 .2 1.2 .1-2 .2 .1 .2 .2 .2 4.5 .2 1 .1-.2 .2-3.4 .2-3.7 .2 1 .2 3.9 .1-3.2 .2 1.5 .2-3.2 .2 4.1 .2 2.2 .1 .8 .2-.8 .2-5.8 .2-.2 .2 .4 .1 2.3 .2 .5 23.9 0 .2 4.1 .2-.2 .2-3.3 .1-.2 .2-3.5 .2-.9 .2 .6 .1 5.3 .2-2.3 .2 .6 .2-.4 .2-.6 .1 0 .2 2.7 .2-.1 .2-2.9 .2-.4 .1-2.1 .2 2.7 .2 4.2 .2-1.6 .2-1 .1-.4 .2 1 .2 1.7 .2-4.2 .2 1 .1-3.6 .2 .3 .2 3.4 .2 .8 .2 3.4 .1-.1 .2-3.3 .2-3.3 .2-1.3 .2 .7 .1 3.4 .2-1.4 .2 4.3 .2-.9 .2-.5 .1-2 .2-1.8 .2 1.9 .2 2.2 .2 .3 .1-4.7 .2 1.6 .2-1.7 .2 2.8 .2 3.2 .1-.1 .2-.2 .2-2.1 .2-4.8 .2 .5 .1 .1 .2 1.9 .2-1.1 .2 1.1 .1 1.1 .2-.4 .2 3.6 .2-2.7 .2-2.6 .1 4 .2-2.9 .2 .1 .2 1.7 .2 2.5 .1-2.6 .2-2 .2 1.3 .2-3 .2 .1 .1 2.8 .2 2.5 .2-5.2 .2 .6 .2 .3 .1 1.7 .2 3.7 .2-.4 .2-1.1 .2-1.9 29.6 0 .2-4.1 .2 2.6 .1 5.3 .2 .2 .2-1.4 .2-6 .2-.6 .1 0 .2 .9 .2 6.6 .2-.2 .2-.4 .1-3 .2-2.7 .2 .7 .2 3 .2-.2 .1-.7 .2 2.7 .2-2.9 .2-3.3 .2 1.3 .1-.5 .2 6 .2 .7 .2-.1 .2-4.6 .1-3.1 .2-.1 .2 2.4 .2 3.5 .2-2.8 .1-.5 .2 3.5 .2 .9 .2-3.5 .1 .3 .2-3.8 .2-.1 .2 3.2 .2 3.7 .1 .4 .2-.4 .2-2.5 .2-1.7 .2-.3 .1 3.8 .2-.8 .2-1.2 .2 .7 .2-4.1 .1 5.7 .2-2.8 .2-1.1 .2 5 .2-.1 .1-.9 .2-1.9 .2-4.7 .2 .1 .2 .6 .1 6.7 .2 .6 .2-1.8 .2-2.2 34.5 0 .1-2.7 .2-1.1 .2 5.7 .2 .1 .2-5.2 .1 1.5 .2-1.2 .2 5 .2 1.5 .2-.5 .1-6 .2 .1 .2 .8 .2 3.7 .2 2 .1-5.2 .2-2.3 .2 1.5 .2 5.4 .2 .8 .1 0 .2-.5 .2-4.9 .2-2 .2 1.7 .1-.1 .2-1.6 .2 3.4 .2 4.2 .2 0 .1-3.1 .2-4 .2-1 .2 1.8 .2 4.8 .1 1.5 .2-.5 .2-5.7 .2-1.8 .2 4.8 .1 3.2 .2-1 .2-4.7 .2-1.4 .2 .6 .1 1.5 .2-.4 .2-.1 .2-1.3 .2 3.5 .1 3 .2 .2 .2-3 .2-4.4 .2-.5 .1 .2 .2 3.9 .2 1.8 .2 1.8 .1-2.6 .2 1.5 .2-.3 .2-2.8 .2-3.6 .1 .2 .2 5.3 .2 2.5 .2-.5 .2-3.4 .1-4.2 .2 2.6 .2 5.3 .2 .2 .2-.5 .1-6.4 .2-1.2 .2 0 .2 5.3 .2 2.7 .1 .1 .2-2.8 .2-3 .2 2.4 .2-2.7 .1-.3 .2 2.4 23.9 0 .2 .4 .2 1.6 .2 1.6 .1-1.4 .2-4.1 .2-.7 .2-1 .1 2.3 .2 4.5 .2-2.6 .2-4.2 .2 0 .1 4.4 .2 1.6 .2 1.2 .2-1.4 .2-5.8 .1 .3 .2 2 .2 3.1 .2-2 .2-.9 .1-.9 .2 3.6 .2 2.3 .2-1.5 .2-2 .1-4.3 .2-.2 .2 .9 .2 6.6 .2 .5 .1-.2 .2-4.7 .2-1.9 .2 3.2 .2-3 .1 .4 .2 1.6 .2 3.9 .2-1.8 .2 .9 .1-6 .2 1.4 .2 5.4 .2-.4 .2-.7 .1-2.7 .2 .7 15.8 0 .2 .3 .2-2.8 .2-1.2 .1 1.3 .2 2.2 .2 3.3 .2 0 .2 .5 .1-2.2 .2-2.9 .2 .8 .2-2.5 .2 .1 .1-.7 .2 6.3 .2 .9 .2 .4 .2-1.1 .1-6.4 .2 .2 .2 1.7 .2 3.2 .2 1.1 .1-1.9 .2-3.6 .2 1 .2 1.8 .2 3.4 .1 .7 .2-3.9 10.4 0 .2 1.5 .2-1.7 .2 .3 .2 .8 .1-2.1 .2-1.6 .2-.8 .2 .8 .1 1.4 .2 1.3 .2 .6 .2 2.3 .2-3 .1-1.8 .2-.9 .2 .4 .2 1.9 .2 2.4 .1 1.7 .2-2.4 .2-.5 .2-.7 .2 .2 .1-.5 .2 .7 .2-3 .2 1.3 .2 3.4 .1 1.7 .2-1.4 .2 1.7 .2-4 3.4 0" fill="none" stroke="#1f77b4" stroke-width="2.20" stroke-linejoin="round" clip-path="url(#c1)" />
<path d="M579.9 537.5l11.8 0 .4-2.3 .4 3.1 .3-3.9 .4 1.6 .8-3.1 .2-194.7 .3 186.9 .3 12.4 .3 1.5 .2-2.8 .2 .8 .2-1.6 .1-.4 .2 .2 .2 1.7 .2 3.1 .1 .5 .2-.4 .2-.9 .2-1.4 .2-2.2 .1 .2 .2 1 .2 1.6 .2-.1 .2-.2 .1-1.7 .2 .4 .2 1.7 .2-.6 .2 1.5 .1 0 .2-.1 .2-1.8 .2 .1 .2-1.5 .1 .4 .2 .9 .2 .6 .2-1.5 .2 .3 .1 .2 .2-.2 .2 1.7 .2 .3 .2 0 .1-.8 .2-.1 .2 .3 .2-2.5 .2 2.6 .1-2.5 .2-.3 .2 .2 .2 1.9 .2 1 .1 .9 .2 .2 .2-.6 .2-.7 .2-.7 .1-1.1 .2 2.1 .2-1.3 .2 .2 .2-2.2 .1-.3 .2 .1 .2 2.2 .2 2 .2 .6 .1-.2 .2-1 .2-1.9 .2 .7 .1-.7 .2 2.1 .2 .4 .2-1.8 .2-1.2 .1 .5 .2 .7 .2-1.1 .2 2.6 .2 1.1 .1-3.8 .2 2.1 .2 .4 .2-.9 .2 1.6 .1-3 .2 2.3 .2-2 .2-1.9 .2 .7 .1-.6 .2 4.7 .2 0 .2-.9 .2-1.3 .1-1.3 .2 .6 .2-1.4 .2 3.5 .2-1 .1-.8 .2 .4 .2-.3 .2 .1 .2 .1 .1 .2 .2-.7 .2 .8 .2-.9 .2 2 .1-1.3 .2 .5 .2-.4 .2-.5 .2-.6 .1-.7 .2 1.3 .2 1.2 .2 .7 .2-1 .1-.8 .2-2.8 .2 .6 .2 .4 .1 1.8 .2 3.2 .2 .2 .2-1.1 .2-.9 .1-3.4 .2 4 .2-3.3 .2 .9 .2 2.7 .1-.5 .2-3.5 .2 1.9 .2-.9 .2-1.3 .1 1.3 .2-.2 .2 3.1 .2 .3 .2 .2 .1 .4 .2 .3 .2-4.7 .2-1.3 .2 .1 .1-.5 .2 4.1 .2-2.6 .2 3.7 .2-3.4 .1 1.1 .2 1.7 .2-.6 .2 1.2 .2 .4 .1-.7 .2 .5 .2-3.9 .2-1.1 .2 .5 .1 1 .2 .3 .2-1.6 .2 .3 .2 3.5 .1 1.9 .2-.7 .2 1.1 .2-.9 .2-1.1 .1-1.3 .2-2.9 .2 .8 .2-.3 .1 0 .2 2.5 .2-1.8 .2-.3 .2 .9 .1 1.6 .2-.5 .2 1.8 .2-.1 .2-.5 .1-1.4 .2-.6 .2-1.1 .2-.1 .2 1.2 .1 1.2 .2-.8 .2 1.6 .2-.2 .2-1.3 .1-1.1 .2 1 .2 .7 .2-1.5 .2 2.7 .1-.3 .2-1.7 .2-.1 .2 .7 .2-.6 .1-1.4 .2 1.7 .2 1.6 .2-.2 .2 .1 .1-.3 .2-2.9 .2 .7 .2 1.3 .2 1.3 .1-.4 .2 1.1 .2-3.2 .2 0 .2-1.3 .1 3 .2 1.4 .2 .8 .2-1 .2-4 .1-1.3 .2 2.4 .2 1.2 .2-.1 .2 .8 .1 1.2 .2-1.1 .2 1.4 .2-1.2 .1-1.5 .2-1.3 .2 1.4 .2-.7 .2-.9 .1-.3 .2 1 .2 1.8 .2-1.3 .2-.9 .1 1.9 .2 1.3 .2-.5 .2 .8 .2-.6 .1-.5 .2-1.5 .2-1.4 .2 .3 .2 .8 .1 1.2 .2 .7 .2-1.6 .2 1.7 .2-1.1 .1 .9 .2-1.1 .2 1.4 .2 .1 .2-1.9 .1-.3 .2 .2 .2-1.1 .2 .8 .2-.6 .1-.1 .2-.1 .2 .4 .2 2.2 .2 .1 .1 1 .2-.3 .2-.8 .2-1.2 .2-.8 .1-.5 .2 .3 .2 2.1 .2 .1 .2-1.1 .1 .6 .2-1.2 .2 .5 .2-.9 .1 1.4 .2 1 .2 .4 .2-.6 .2-1.3 .1 .5 .2-.5 .2-1 .2 1.1 .2-.6 .1 .6 .2 1.9 .2 .1 .2-1.1 .2-1.3 .1-1 .2-.3 .2 .7 .2 2.8 .2 .5 .1-.2 .2-1.3 .2-2.1 .2 .2 .2-.7 .1 .7 .2 2 .2 .2 .2-.9 .2-2.3 .1 1.6 .2-1.5 .2 1.8 .2 1.7 .2-.6 .1 .4 .2 1.2 .2-1 .2-1.1 .2 1.3 .1-3.4 .2 0 .2-.6 .2 .1 .2 0 .1 3.6 .2 1.2 .2-1.6 .2 1.3 .2-1.2 .1 .3 .2-2.7 .2 1.9 .2 .1 .2-.4 .1-1.2 .2-.5 .2-.2 .2-.4 .1 1.7 .2-.4 .2 3.3 .2 0 .2 .2 .1-2.1 .2 2 .2-3.1 .2-1.9 .2 .6 .1-.3 .2 2.4 .2 0 .2 1.9 .2-.8 .1-.5 .2-.3 .2-1.9 .2 1.2 .2 2 .1 .3 .2 .1 .2-2.1 .2-2.5 .2 .3 .1-.1 .2 1.8 .2 .7 .2 1.2 .2 .9 .1 .4 .2-2 .2-2.4 .2 3.6 .2-1.5 .1 1.8 .2 1 .2-7.6 .2-.2 .2 2.9 .1 1.9 .2 .3 .2 2.9 .2-2 .2-12.3 .1 18.1 .2-3.7 .2-.2 .2-2.1 .2-6.4 .1 1.5 .2-1.1 .2 1.1 .2 5.5 .1 4.1 .2-3.5 .2-6.9 .2 4.3 .2 4.8 .1 .9 .2-.8 .2-16.8 .2 6.5 .2-.5 .1-1.3 .2 2.8 .2 6.4 .2 6.7 .2-1.9 .1-13.1 .2 .9 .2-1.3 .2 .9 .2 5.6 .1 1.7 .2-2.6 .2 .3 .2-4.8 .2 3.8 .1 1.1 .2-1 .2-2.7 .2 5.4 .2-6.9 .1-.4 .2 12.8 .2-1.5 .2 1.4 .2-5.1 .1-3.7 .2-3.4 .2-1 .2 2.5 .2 7 .1 2.7 .2-2 .2-4.3 .2-4.4 .2 1.7 .1 .9 .2 9.2 .2-5.1 .2-4.3 .2 4 .1 3.9 .2-10.3 .2 13.3 .2-.8 .1-10 .2-2.6 .2 2.7 .2 .9 .2 5.4 .1 1.2 .2 2.1 .2-8.1 .2-6 .2 .7 .1 12.7 .2 2.6 .2-.5 .2 .8 .2-4.8 .1-12.4 .2-.9 .2 2.8 .2 13.1 .2-.6 .1 2.2 .2-6.1 .2-2.8 .2-3.9 .2 16.5 .1-8.2 .2-1 .2-.8 .2 .3 .2-7.4 .1 2.4 .2-5.2 .2 .4 .2 4.2 .2-.3 .1 4.7 .2 3.6 .2 .9 .2-.5 .2 .4 .1-4 .2-.8 .2-5.5 .2-.8 .2 1.8 .1 10.9 .2-7.1 .2-1.4 .2-3.3 .2 2.7 .1 8.1 .2-.2 .2 6.7 .2-4.6 .2 4 .1-10.9 .2 1.6 .2-10.1 .2 3.6 .1-6 .2-.7 .2-5.1 .2 5.9 .2 3.1 .1 17.4 .2-.1 .2 1 .2-3.5 .2-17.7 .1 17.9 .2-.2 .2 1.9 .2-6.8 .2-7.4 .1-10 .2 .9 .2-.5 .2 3.1 .2 19.7 .1 2.2 .2-2.3 .2-.5 .2 2.1 .2-21.7 .1 15.5 .2-3.9 .2-6.2 .2-2 .2 4 .1-1.7 .2 1.7 .2 3.7 .2-1.3 .2 3.6 .1 .3 .2 6.1 .2 .3 .2-4 .2 2.4 .1-7.7 .2-2.5 .2-2.4 .2-2.1 .2 6.1 .1 5.4 .2 1.1 .2-3.6 .2-9.4 .2 11.1 .1-5.1 .2 5.6 .2 .3 .2 2.7 .1 2 .2-16.3 .2 3.4 .2-2.4 .2 9.9 .1 3.4 .2-.5 .2-7.9 .2-4.9 .2 1.6 .1-2.2 .2 7.4 .2 3.6 .2 2 .2-2.4 .1 1.5 .2-4.1 .2-3.3 .2 .9 .2 4.6 .1-13 .2 7.8 .2-6 .2 4 .2-2.7 .1 16.6 .2-19.8 .2 8.1 .2 6.1 .2-2.4 .1-4.4 .2 12.2 .2 .3 .2-5 .2-14.1 .1 3.3 .2-3.2 .2 21.4 .2-20.7 .2 12.8 .1-7.2 .2 6.6 .2-.3 .2 12.3 .2-13 .1 7.1 .2-6.7 .2-4.5 .2 1.1 .2-5.8 .1 .4 .2 4.5 .2-.4 .2-2.2 .2-3 .1 7.3 .2 2 .2 8.4 .2-.3 .1-.4 .2-2.2 .2-17.2 .2-2.7 .2 .5 .1 13.2 .2-4.4 .2 7.7 .2-1.9 .2-3.8 .1-6.4 .2 5 .2-.8 .2 10.3 .2 2.2 .1-.7 .2-6.7 .2-10.5 .2 7.4 .2-7.2 .1 .6 .2 2.1 .2-.4 .2 7.5 .2 10.7 .1 0 .2-11 .2-5.7 .2-7.2 .2 1.9 .1 4.9 .2 6.7 .2 9.2 .2-13.8 .2 5 .1-13.6 .2 3.3 .2-1.9 .2 7.8 .2 11.5 .1-.7 .2-3.1 .2-11.5 .2-3.8 .2 5.1 .1 4.7 .2-10 .2 13.1 .2-.7 .2-.5 .1-5.7 .2 11.5 .2-8.8 .2 4 .1-7.2 .2-2.5 .2 4.7 .2-2.8 .2 5 .1 2.5 .2-.8 .2 1.2 .2-1.9 .2-4.3 .1 2.1 .2 6 .2 1.2 .2-9.4 .2-.9 .1-3.7 .2 1.8 .2-.4 .2 .3 .2 8.4 .1-7.7 .2 7.5 .2 .9 .2-2.7 .2 8 .1-.9 .2-7.2 .2-3.4 .2-2.7 .2-1.2 .1 2.9 .2 6.4 .2-1.5 .2 .3 .2-8.6 .1-3.7 .2 15.5 .2 5.2 .2 2.7 .2-2 .1-6.9 .2 .9 .2-14.9 .2-1.6 .2 2.6 .1 6.1 .2 2 .2 2.1 .2-2.4 .2-3.3 .1 8.4 .2 .7 .2 2.9 .2-1.5 .1-1.9 .2-2.6 .2-6.5 .2 3.3 .2 .9 .1 1.6 .2 1.9 .2-6.4 .2 5.4 .2-1.4 .1 4.4 .2-1.5 .2-.9 .2 2.5 .2-3.1 .1-1.3 .2-2.8 .2 4.4 .2-1.8 .2-1.9 .1-4.6 .2 1.1 .2 5.2 .2 3.4 .2-15.1 .1 15.3 .2-6.1 .2-2.5 .2 1.7 .2 3.7 .1 2 .2 2.7 .2 1.7 .2-5.6 .2-6.2 .1 2.6 .2-.3 .2 7.3 .2-3.6 .2 3.9 .1-1.6 .2-4.7 .2-4.6 .2 6.8 .2 3.4 .1-3.6 .2 9.8 .2-13.7 .2 7.9 .2 1.2 .1-1.6 .2-2.9 .2-3.5 .2-3.5 .2 3.2 .1 .3 .2 2.9 .2 2.1 .2 2.5 .1 .4 .2-1.6 .2-8.4 .2-.5 .2-1.5 .1 8.6 .2-4.6 .2 7 .2-3.9 .2-1.2 .1-.8 .2 2.1 .2 0 .2-.5 .2 4.2 .1-1.8 .2 5.8 .2 .2 .2-10.1 .2-3.3 .1-5.2 .2-.9 .2 1.7 .2 7.1 .2 13.1 .1-2.1 .2-6 .2-9.1 .2 20.8 .2-18 .1 2.1 .2 6.4 .2 1.4 .2 .9 .2-7.3 .1-10.3 .2 2.1 .2-1.2 .2 5.9 .2 13.3 .1-1.3 .2 .7 .2-1.3 .2-.6 .2-4 .1-10.4 .2 .7 .2-2 .2 7.7 .2 1.7 .1 5 .2 4.6 .2-.2 .2-9.9 .1-2.3 .2 5.2 .2-.3 .2 .2 .2-5.6 .1 7.2 .2-15.2 .2-1.7 .2 2.7 .2 0 .1 18.5 .2-6.5 .2 5.8 .2 1.6 .2-8 .1-3.2 .2-1.2 .2-1.1 .2 1.6 .2-2.2 .1-3.7 .2-.8 .2 1.6 .2 10 .2 1.6 .1-2.1 .2-.3 .2-8.3 .2 .8 .2 12.5 .1 .2 .2 .5 .2-3.3 .2-12 .2-.1 .1 .1 .2 1.5 .2 3.1 .2 8.9 .2 .8 .1-3.8 .2-.8 .2-.7 .2-1.1 .2 8.5 .1-6.2 .2-.9 .2-11.4 .2-.9 .2-.7 .1 1.1 .2 12.6 .2-9.1 .2 6 .2 7.5 .1 2.8 .2-4 .2-.6 .2-.3 .1-7.3 .2 3.1 .2-4.4 .2 1.7 .2 7.1 .1-6.1 .2-14.5 .2 17.9 .2-5.9 .2 2.4 .1 2.4 .2 5.5 .2-3.3 .2-4.5 .2-4.9 .1-2.2 .2 2.7 .2 8.3 .2 .2 .2-1.2 .1 11.3 .2-18.6 .2 .8 .2-3.4 .2 4.4 .1 10.7 .2-.7 .2-2 .2-.1 .2-21 .1 9.2 .2 13.1 .2-3.7 .2-4.1 .2-2.9 .1-2 .2 11 .2-6.7 .2-2.8 .2-1.8 .1-.8 .2 9.4 .2 3.1 .2 4.5 .2-.9 .1 3.4 .2-10.1 .2-8.8 .2-2.6 .2 6.8 .1-2.3 .2-.7 .2-8 .2 14.3 .1-2.7 .2-3.7 .2 6.4 .2 5.9 .2 4.2 .1-.7 .2-1.6 .2-8.4 .2-.2 .2-7.3 .1 9.6 .2-12.5 .2 .9 .2-1.7 .2 3 .1 5.8 .2 9.3 .2 5.8 .2-.5 .2-2.6 .1-11.9 .2 1.8 .2-5.7 .2 5.7 .2 6.3 .1-3.1 .2 0 .2-12.3 .2 .3 .2 9.9 .1 4.8 .2 5.3 .2-.2 .2 .9 .2-2.9 .1-2.3 .2-8.2 .2-5.6 .2-.7 .2-1.9 .1 2.3 .2 12.4 .2-4.1 .2 9.6 .2-4.4 .1 1.1 .2-5 .2-8 .2 12.4 .2 3.8 .1 .5 .2-2.7 .2-15.5 .2 .8 .1-1.4 .2 1.4 .2 12.3 .2 2 .2-1.3 .1 .4 .2-3 .2-3.2 .2 .5 .2 1.6 .1 2 .2-5.6 .2-1.2 .2 2.7 .2 .1 .1-3.2 .2 9.6 .2-1.9 .2-2.1 .2 1 .1-1.2 .2-13.8 .2 20.3 .2-.7 .2-2.8 .1-6.6 .2 2.6 .2-9 .2 8.5 .2 5 .1 2.2 .2-1.6 .2-1.1 .2-13.9 .2 12 .1-7.4 .2-2 .2 10.5 .2-6.8 .2 2.6 .1 5.5 .2-5.4 .2 10.7 .2-7.4 .2 3.8 .1-11.1 .2-5.7 .2 3.1 .2 9.1 .2-.9 .1 .5 .2-.2 .2-3.2 .2-3.5 .2 2.8 .1 11 .2-.8 .2-1.9 .2-3.9 .1-2.6 .2-8 .2 7.9 .2-2.5 .2-.5 .1 11 .2-11.9 .2-3.5 .2 1 .2 10.9 .1 4.4 .2 3 .2-3.3 .2-8.2 .2-1.9 .1-2 .2-.1 .2 2.5 .2 3.4 .2 1.1 .1-2.8 .2 4.6 .2 3.1 .2-10.2 .2-1.7 .1 1.4 .2 7.2 .2-4.1 .2-2.5 .2 1.3 .1-3.9 .2 2.1 .2 15.5 .2 13.2 .2-15.8 .1-.8 .2-3.2 .2-.9 .2-.2 .2-12.8 .1 1.6 .2-2.8 .2 15.4 .2 1.1 .2-1.7 .1 1.5 .2-7.4 .2 1.5 .2-10.6 .2 4.8 .1 8.2 .2 1 .2-1.3 .2-9.3 .1-.4 .2 5.3 .2-3.5 .2-2.7 .2 4.7 .1 5.5 .2-3.4 .2 4.4 .2 .7 .2 5 .1-2 .2-12 .2-2.9 .2-2.9 .2-1 .1 9.5 .2 3.4 .2 3.1 .2-.8 .2-4.3 .1-8.6 .2 13.3 .2-6.3 .2 6.4 .2-2.5 .1 .2 .2-4.4 .2-4 .2-.7 .2 3.8 .1-3.6 .2 7 .2-.3 .2-3.5 .2 9.4 .1-2.3 .2 2.2 .2-7.3 .2-4 .2-2.1 .1 3.4 .2 5.7 .2 1.1 .2 3.9 .2-3.5 .1-9.4 .2 .5 .2 3 .2 7.5 .2 1.6 .1 .8 .2-1.1 .2-5.2 .2-8.8 .2 .8 .1 4.4 .2-.8 .2 5.4 .2 1.5 .1 2.7 .2-7.9 .2 2.6 .2 0 .2 4.1 .1-6 .2 1.3 .2-6.2 .2 7.3 .2 3.7 .1-5.5 .2 2.4 .2 2.7 .2-5.6 .2-1.3 .1 6 .2 3.3 .2 1.5 .2-1.1 .2-8.5 .1-3.8 .2-3.8 .2 4.1 .2 12.8 .2-4.2 .1-6.9 .2 2.2 .2-3.1 .2 2 .2-15.8 .1 26.6 .2-8.3 .2-6 .2-2.3 .2-.6 .1 2.1 .2 6.6 .2-.9 8.4 0 .2 .2 .2-3.3 .2 .7 .2 .4 .1 3.1 .2 2.2 .2-.5 .2-.3 .2-5.2 .1 .5 .2-1.2 .2 1.8 .2 2.3 .2 2.3 .1-5.5 .2 2.9 .2-1.8 .2 1.6 .2-2.2 .1 4 .2-1.6 .2 2.4 .2-2.2 .1 .3 .2-2.8 .2 .6 .2-.4 .2-1.7 .1 2.2 .2 2.1 .2 .5 .2 2.6 .2-.9 .1-.1 .2-1.4 .2-3.6 .2-.6 .2 2.9 .1 .5 .2-1.8 .2-1.4 .2-.4 .2 .3 .1 1.4 .2 2.3 .2 .7 .2 1.1 .2 .1 .1-1.7 .2 1.2 .2-.7 .2-1.4 .2-4.1 .1 1.9 .2-2.2 .2 .1 .2 1.7 .2 .3 .1 4.3 .2 .4 .2 .3 .2-3.5 .2 .6 .1 .6 .2 1.5 .2 .9 .2-2.6 .2-4.2 .1 3.5 6 0 .1-.5 .2 1 .2 1.5 .2 1.6 .2-1 .1-1.2 .2-1.3 .2-.9 .2-1.4 .2 0 .1 1 .2 1.4 .2-2.8 .2 .7 .2 .6 .1 1 .2 3.5 .2-.7 .2-.6 .2-1.1 .1-4 .2 1.6 .2 4.6 .2-2.2 .2 .5 .1-3.9 .2 .2 .2 .3 .2 .5 .2 .9 .1 1.4 .2 .3 .2-.4 .2-.7 .1 2.9 .2-.5 .2 0 .2-.5 .2-1.8 5.5 0 .2-.2 .2 2.5 .2-5.6 .2 1.3 .1 2.5 .2-1.6 .2 3.8 .2-.7 .2 .7 .1 .6 .2-2.7 .2 1.6 .2-5.1 .2 0 .1 .3 .2 1.2 .2-1.9 .2 2.5 .2 4.6 .1-1.9 .2 .2 .2-2.3 .2-2 .1 .4 .2-.2 .2 4 .2 1.7 .2-5.9 .1-.9 .2 .5 .2-.4 .2 3 .2 2 .1 1 .2 0 .2-.4 .2-1.6 .2-3.6 .1 2.6 5.6 0 .2 1.7 .2 1.3 .2-.7 .1-2.9 .2-.7 .2-1.9 .2 3.6 .1 .8 .2 2.3 .2-1.5 .2-2 .2-3.9 .1 0 .2 .5 .2 1.3 .2 4.5 .2 1.2 .1 .1 .2-1 .2-5.1 .2-.4 .2 1.2 .1 1.8 .2 2.9 .2-4.3 .2 2.7 .2-1.9 .1-1.8 .2 4.1 .2-2.7 .2 .8 .2 1.8 .1 .7 .2-.9 .2 1.3 .2-4.7 .2 1 .1 0 .2-.3 .2-1.3 .2 .3 .2 5.2 .1-.2 .2 .4 .2-4.6 .2-.6 .2-1.7 .1 3.4 .2 1.9 .2 .7 .2-3.1 .2 2.4 .1-4.1 .2 1.2 .2 2.7 .2 1.3 .2-3 .1-2.5 .2 1.5 .2-1.5 .2-.4 .1 4.7 .2 .4 .2 .7 .2-2.7 .2-1.2 .1 .9 .2 2.2 .2 1.6 .2 0 .2-1.1 .1-4.7 .2 0 .2 .4 .2-.4 .2 1.9 .1 2.8 .2-.5 .2-2.9 .2 .2 .2 2.7 .1-.2 .2 .8 .2-2.3 .2 .9 .2-4.2 .1-.1 .2 2 .2-1.3 .2 1.4 .2 3.6 .1-4.8 .2 4.4 .2 .1 .2-.2 .2-1.2 .1-.2 .2-.1 .2-3.1 .2 .8 .2-1 .1-.8 .2 1.9 .2 3.6 .2-3.4 .2 2.3 .1 .7 .2 1.7 .2 .7 .2-.4 .2-3.6 .1-2.8 .2 2.4 .2-2.7 .2 3.9 .2-.7 8 0 .2 3.2 .2-3.9 .2-2.6 .2-.3 .1 1.9 .2-1.1 .2 2.1 .2 3 .2 1.3 .1-5.7 .2-.7 .2 .9 .2 5.3 .1 .5 .2-.6 .2-.8 .2-3.7 .2-2.2 .1-.6 .2 .4 .2 1.5 .2 4.2 .2 .2 .1 .8 .2-2.4 .2-.5 .2 2 .2-4 .1 4.4 .2-2.6 .2-1.6 .2-.8 .2 2.4 10.2 0 .2-2.3 .2 2.1 .1-1.9 .2-.5 .2-.6 .2-.1 .2 0 .1 2.6 .2-1.7 .2 2.8 .2 2.1 .2 .1 .1-.2 .2-.6 .2-3.4 .2-.1 .2 3.7 .1-4 .2-.8 .2-1.1 .2 0 .2 .2 .1 2.2 .2 4 .2 1.6 .2-.9 .2-.9 .1-.6 .2-3.8 .2 3.9 .2-2.7 .2-1.3 .1 1.7 .2-3.1 .2-.2 .2 .1 .1 3.4 .2 .1 .2 .2 10.2 0 .2-1.6 .2 2 .2 .7 .2 0 .1 .8 .2 1.3 .2 .2 .2-1.8 .2-3 .1-1.9 .2 1.9 .2 1.2 .2 1.1 .2 1.1 .1 .3 .2-2.9 .2-3.3 .2 .6 .2 1.3 .1 5 .2 .1 .2 .6 .2-3.7 .2-.2 .1-3.3 .2-.1 .2 .3 .2 5.8 .2-3.1 .1 1.8 .2-1.6 .2-.9 .2 .3 .2 1.3 .1 3.2 .2-2.4 .2 .3 .2 .6 .2-2 .1-3.2 .2 2.1 .2 .7 .2-2.9 .2 2.6 .1-.3 .2 2.2 .2 .9 .2-.8 .2-.5 .1 .4 .2-2.2 .2-.4 .2 1.7 .1 .3 .2 .9 .2-1.1 .2-2.4 .2 2 6.8 0 .2-.7 .2-1.5 .1 1.7 .2 2.3 .2 .9 .2 .2 .2 .1 .1-2.8 .2-.9 .2-.3 .2 1 .1-3.1 .2 1.1 .2-1.3 .2 1.3 .2 3.9 .1 1.7 .2 .2 .2-3.5 .2 .6 .2-2.6 .1-1.5 .2 1.9 .2 1.5 .2 3.2 .2-1 .1-6.4 .2 .3 .2 .1 .2 1 .2 3.1 .1 3.5 .2-.3 .2-.5 .2-3.8 .2-1.8 .1 .2 .2 1.2 .2 3.5 .2-4.3 .2 3.9 .1-1.6 .2-2.9 .2 3.2 .2-1.7 .2 1.1 .1-1.6 .2 1.4 .2 1.9 .2-1.7 .2 2.4 .1 .1 .2-3.7 .2-2.4 .2 1.2 .2-.7 .1 2.6 .2 .3 12.6 0 .2-3 .1 1.4 .2 3.1 .2-1 .2-2.3 .2 .5 .1-.8 .2 2.7 .2-1.9 .2 3.8 .2 .2 .1-1.2 .2-.9 .2-1.6 .2-1.5 .2 1.6 .1-.3 .2-.3 .2 2.9 .2-2.7 .2-1.1 .1-.4 .2 5.3 .2-.4 .2-4 .2 .2 .1 1.2 .2-.6 .2 3.5 .2 1.4 .2-1.9 .1-1.4 .2-1.8 .2-.4 .2 2 .2 1.2 .1 .2 .2-.2 .2-3.5 .2-1.5 .2 .5 .1-.1 .2 4.4 .2 2.1 .2-3.1 .2-.5 .1 3.3 .2 .6 .2-1.1 .2-2 .1-.4 .2-3.5 .2-.2 .2 .8 .2 3.3 .1 1.1 .2 1.5 .2-.2 .2 .4 .2-6.2 .1 4.6 .2 .7 .2 1.3 .2-.9 .2 0 .1-5.7 .2-1 .2-.2 .2 1.1 .2 2 .1 2.6 .2-1.4 .2 3.6 .2-.7 .2 .2 .1-1.8 .2-2.5 .2 .9 13.7 0 .1-2.5 .2 3.9 .2-.9 .2 2.3 .2-5.4 .1-1 .2 5.2 .2-3.2 .2 3.8 .1 1.4 .2 .1 .2-3.8 .2 .1 .2-1.3 .1 .8 .2 .1 .2-2.8 .2 1.5 .2-1.6 .1 4.6 .2 .7 .2 1.3 .2-2.8 .2 3 .1-.6 .2-2.3 .2 .8 .2-3.4 .2-.7 .1-.2 .2-.7 .2 2.1 .2 .4 .2 2.1 .1 1.5 .2 1 .2-.8 .2-1.1 .2-3.2 .1 2 .2 2.1 .2-.1 .2-2.6 .2-1.2 .1 1.4 13.9 0 .1-3.3 .2-.5 .2 1.3 .2 1.2 .2 1.6 .1 1.5 .2 1.3 .2-.8 .2-5.7 .2 .1 .1 3.8 .2 1.9 .2 0 .2-1 .2-1.1 .1 .6 .2 1.5 .2-2.3 .2-.5 .2 .5 .1-.3 .2-2.2 .2 1.1 .2 3.1 .2-.5 .1 1.8 .2-4.4 .2-1.1 .2 1 .2-.6 .1 1.3 .2 4.7 .2-.3 .2-2.8 .2 1 .1-5 .2 .5 .2-.4 .2 5.7 .2 .5 .1-.7 .2-1.8 .2-1.7 .2-.2 .2-.1 .1 2.2 .2 .7 .2 1.6 .2-1.9 .2-5 .1 .1 .2 .5 .2-.2 .2-.2 .1 1.6 .2-1.2 .2 5.2 .2 1.1 .2-2 .1 2.7 .2-3.3 .2 1.2 .2-2.4 .2-.2 .1 1.4 .2-1 .2 0 .2-2.5 .2 .8 .1 .4 .2 4.5 .2 0 .2 1.2 .2-1.4 .1-.9 .2-2.5 .2-2.2 .2 2 .2 3.8 .1-3.5 .2 3.5 .2-5.8 .2 .4 .2 2.9 .1 .5 .2 2.3 .2-2.1 .2 2.1 .2-5 .1-.5 .2 2.5 .2 .5 .2-3.1 .2 1.5 .1-.9 .2 .6 .2 1.3 17.1 0 .1 2.7 .2-2 .2-2.4 .2-1.1 .2 2.4 .1-.1 .2 2.7 .2-1.3 .2-.7 .2-2.5 .1 .8 .2-.3 .2 2.4 .2-.4 .2 .4 .1-1.5 .2 3.3 .2-5.7 .2 4.7 .2-2.5 .1-.3 .2 4.4 .2-2.8 .2-1.8 .2 5.4 .1-2.9 .2 1 .2-3.5 .2-2 .2 1.7 .1-.7 .2 4.7 .2 1.5 .2-.6 .1-5.6 .2 2.2 .2-1.5 .2 1.5 .2 2.7 .1-.4 .2-3.1 .2-.6 .2-1.9 .2 .1 .1-.4 .2 5.9 .2-.6 .2 1.2 .2 .1 .1 .7 .2-.3 .2-1 .2-.5 .2 1 .1-1.7 .2-3.9 .2-.6 .2 1 .2 1.1 .1 1.7 .2-3.1 .2 3.7 .2 1.7 .2-.4 .1-1.2 .2 1.3 .2 1.2 .2-4.1 .2-1.8 .1-.5 .2 1.5 .2 .6 .2 2.5 .2-2.3 .1-.2 .2 2.2 .2 1.5 .2 .4 .2 .2 .1 .2 .2-.5 .2 .6 .2-6.2 .2-.5 .1 .1 .2 2.8 .2 .5 .2 .9 .1-4.5 .2 2.4 .2 2.6 .2 .9 .2 .5 .1-.8 .2-.8 .2-2.7 .2-1.9 .2 .5 .1 1.5 .2-1.1 .2 .8 .2 .6 .2 1 .1-.2 .2 1.8 .2 1.2 .2-.2 .2 .5 .1-3.3 20.5 0 .2 3.5 .2-2.7 .2-2 .1 4.1 .2-5 .2-1.7 .2 .5 .2 2.5 .1 2.7 .2 .6 .2-.9 .2-3.3 .2 1.7 .1-.8 .2 4.3 .2-.8 .2 .3 .2-6 .1-1 .2 .1 .2 1.5 .2 1.1 .2 3.1 .1 1.1 .2-1.1 .2-1 .2 2.9 .2-5 .1 3.1 .2-.3 .2-4 .2 1.2 .1 1 .2 .2 .2-1.3 .2-.5 .2-.5 .1 2.3 .2 .7 .2-2.3 .2 4.6 .2-1.4 .1 1.1 .2-1.8 .2-2.1 .2-1.9 .2 .7 .1 1.8 .2 1.3 .2 1.7 .2-1.7 .2-.8 .1-.2 .2 .2 .2 1 .2-2.4 .2 2.7 .1 .3 .2-.9 .2-1.3 .2 2.1 .2 .2 .1-.8 .2-2.6 .2-1.2 .2 .1 .2 4.8 .1 1.3 .2 .9 .2-2.5 .2-3.4 .2-1.7 .1 .5 .2 .3 .2 5 .2 1.4 .2 .4 .1-1.2 .2-4 .2-2.7 .2-.1 .2 1.8 .1 1.4 .2 2.3 .2 1.6 .2 .4 .2-1.4 .1 .4 .2-1.8 .2-.2 .2 .2 .1 .3 .2-.7 .2 2 .2-3.6 .2 2.2 .1-4.1 .2-.5 .2 1.5 .2 4.5 .2 .3 .1 1.4 .2-.5 .2-2 .2-2.6 .2-1.8 .1-.6 .2 1.7 .2 3.9 .2-1.4 .2-2.1 .1-1.1 .2-.4 .2 1.4 .2 2.6 .2 2.3 .1 .4 .2-2.7 .2 1.2 .2-2.3 .2 2.2 .1-2.9 .2 .6 .2-3.9 .2 2 .2 .5 .1-.7 .2 2.4 .2 3.8 .2-4 20.6 0 .2-.2 .2-1.6 .2-1.3 .2 .6 .1 1.6 .2 1.8 .2 2.4 .2-1.1 .2 0 .1-2.1 .2-3.2 .2 .2 .2-.6 .1 3.7 .2-.7 .2 2.8 .2-.9 .2-2 .1-2.7 .2-.7 .2 .9 .2 1.3 .2 3.6 .1 2.1 .2 0 .2-3 .2-2.8 .2-1.3 .1 .4 .2 3.9 .2-.4 .2-1.5 .2 .9 .1-1.6 .2 .9 .2-2.1 .2-.3 .2 5.6 .1-2.3 .2 .5 .2 2.2 .2 0 .2 .1 .1-1.6 .2-3.9 .2-1.3 .2 .2 .2 .2 .1 2.8 .2 3.6 .2-2.9 .2-.6 .2 1.8 .1-3.9 .2 2.8 .2-.3 3.4 0" fill="none" stroke="#1f77b4" stroke-width="2.20" stroke-linejoin="round" clip-path="url(#c1)" />
<path d="M116.4 537.5l.5 0M127.4 537.5l11.8 0M148.9 537.5l16 0M168.3 537.5l19.6 0M198.5 537.5l18.1 0M222.6 537.5l14.9 0M244.5 537.5l24.1 0M277.7 537.5l23.9 0M317.1 537.5l29.6 0M358.4 537.5l34.5 0M408.3 537.5l23.9 0M441 537.5l15.8 0M462.2 537.5l10.4 0M478.4 537.5l3.4 0" fill="none" stroke="#1f77b4" stroke-width="2.90" stroke-linejoin="round" clip-path="url(#c1)"/>
<path d="M579.9 537.5l11.8 0M815 537.5l8.4 0M835.8 537.5l6 0M848.8 537.5l5.5 0M861.3 537.5l5.6 0M887.8 537.5l8 0M901.8 537.5l10.2 0M919 537.5l10.2 0M939.7 537.5l6.8 0M956.9 537.5l12.6 0M983.5 537.5l13.7 0M1005.2 537.5l13.9 0M1036.5 537.5l17.1 0M1073.1 537.5l20.5 0M1117 537.5l20.6 0M1147.7 537.5l3.4 0" fill="none" stroke="#1f77b4" stroke-width="2.90" stroke-linejoin="round" clip-path="url(#c1)"/>
<path d="M594.0 575.5V330.5" stroke="#ff0000" stroke-width="2.08" stroke-dasharray="7.71 3.33" fill="none"/>
<rect x="64.5" y="330.5" width="1138.0" height="245.0" fill="none" stroke="#000" stroke-width="1.11" stroke-linejoin="miter"/>
<path d="M116.5 575.5v5.2M260.5 575.5v5.2M403.5 575.5v5.2M547.5 575.5v5.2M691.5 575.5v5.2M834.5 575.5v5.2M978.5 575.5v5.2M1122.5 575.5v5.2M64.5 568.5h-5.2M64.5 537.5h-5.2M64.5 506.5h-5.2M64.5 475.5h-5.2M64.5 444.5h-5.2M64.5 413.5h-5.2M64.5 383.5h-5.2M64.5 352.5h-5.2" stroke="#000" stroke-width="1.11" fill="none"/>
<text x="116.5" y="595.8" text-anchor="middle" textLength="8.8" lengthAdjust="spacingAndGlyphs">0</text>
<text x="260.5" y="595.8" text-anchor="middle" textLength="26.5" lengthAdjust="spacingAndGlyphs">200</text>
<text x="403.5" y="595.8" text-anchor="middle" textLength="26.5" lengthAdjust="spacingAndGlyphs">400</text>
<text x="547.5" y="595.8" text-anchor="middle" textLength="26.5" lengthAdjust="spacingAndGlyphs">600</text>
<text x="691.5" y="595.8" text-anchor="middle" textLength="26.5" lengthAdjust="spacingAndGlyphs">800</text>
<text x="834.5" y="595.8" text-anchor="middle" textLength="35.3" lengthAdjust="spacingAndGlyphs">1000</text>
<text x="978.5" y="595.8" text-anchor="middle" textLength="35.3" lengthAdjust="spacingAndGlyphs">1200</text>
<text x="1122.5" y="595.8" text-anchor="middle" textLength="35.3" lengthAdjust="spacingAndGlyphs">1400</text>
<text x="54.8" y="574.2" text-anchor="end" textLength="13.8" lengthAdjust="spacingAndGlyphs">-2</text>
<text x="54.8" y="543.2" text-anchor="end" textLength="8.8" lengthAdjust="spacingAndGlyphs">0</text>
<text x="54.8" y="512.2" text-anchor="end" textLength="8.8" lengthAdjust="spacingAndGlyphs">2</text>
<text x="54.8" y="481.2" text-anchor="end" textLength="8.8" lengthAdjust="spacingAndGlyphs">4</text>
<text x="54.8" y="450.2" text-anchor="end" textLength="8.8" lengthAdjust="spacingAndGlyphs">6</text>
<text x="54.8" y="419.2" text-anchor="end" textLength="8.8" lengthAdjust="spacingAndGlyphs">8</text>
<text x="54.8" y="389.2" text-anchor="end" textLength="17.7" lengthAdjust="spacingAndGlyphs">10</text>
<text x="54.8" y="358.2" text-anchor="end" textLength="17.7" lengthAdjust="spacingAndGlyphs">12</text>
<text x="633.5" y="615.8" text-anchor="middle" textLength="49.0" lengthAdjust="spacingAndGlyphs">minute</text>
<rect x="1038.5" y="337.4" width="157.0" height="25.2" rx="2.8" ry="2.8" fill="#ffffff" fill-opacity="0.8" stroke="#cccccc" stroke-opacity="0.8" stroke-width="1.11"/>
<path d="M1044.1 348.6h27.78" stroke="#1f77b4" stroke-width="2.08" stroke-dasharray="7.71 3.33" fill="none"/>
<path d="M1056.7 349.0l1.3 1.6l1.3 -1.6z" fill="#1f77b4"/>
<text x="1087.6" y="354.3" textLength="101.4" lengthAdjust="spacingAndGlyphs">Ws_E14_dydt1</text>
<path d="M116.5 630.5V875.5M260.5 630.5V875.5M403.5 630.5V875.5M547.5 630.5V875.5M691.5 630.5V875.5M834.5 630.5V875.5M978.5 630.5V875.5M1122.5 630.5V875.5M64.5 850.5H1202.5M64.5 814.5H1202.5M64.5 777.5H1202.5M64.5 741.5H1202.5M64.5 705.5H1202.5M64.5 668.5H1202.5M64.5 632.5H1202.5" stroke="#b0b0b0" stroke-width="1.11" fill="none"/>
<path d="M116.4 850.5l.5 0 .2 1.9 .2-3.3 .2-.6 .2 .2 .1 1.1 .2-1.5 .2 .5 .2 3.5 .2 .3 .1-.4 .2 0 .2-.9 .2-3 .2 .2 .1 3.3 .2-1.8 .2 .5 .2 1.1 .2-.1 .1-1.4 .2 0 .2 2.3 .2-3.1 .2-.4 .1 2 .2 .1 .2-1 .2 1.7 .1 .2 .2-2.5 .2 1.5 .2 .6 .2 .8 .1-.7 .2-2.9 .2-.2 .2 .2 .2-.1 .1 1.8 .2 1.2 .2-.7 .2 .1 .2-1.6 .1 1.2 .2-.2 .2 1.1 .2-1 .2-.6 .1 .1 .2-.5 .2 1.1 .2 1.8 .2-3.7 .1 1.3 .2 1.7 .2-1.6 .2-.3 .2 .7 11.8 0 .2 1.2 .2-1.5 .2-1.5 .1 0 .2 3.8 .2-1.9 .2-2.2 .2 2.8 .1 .4 .2-1.7 .2 2.5 .2-1.3 .2-.6 .1-1.8 .2 1 .2 2.9 .2-2.7 .1 .3 .2-.2 .2-.8 .2-.7 .2 4 .1-.2 .2-1.7 .2-.1 .2 0 .2-1 .1-.4 .2 1.6 .2-.5 .2-.1 .2-.2 .1 .8 .2 1.2 .2-.9 .2 1.2 .2-3.8 .1 1.2 .2 1.7 .2 .6 .2-1.6 .2-.2 .1-1.1 .2 .3 .2 2.6 .2 .5 .2-1.6 .1 .4 .2-1.1 .2-1.3 .2-.4 .2 3.2 .1-.2 .2-.9 16 0 .2-2 .2 0 .1 .3 .2 3.5 .2-.8 .2 .5 .2-1.4 .1 .4 .2-.2 .2 1.5 .2-1.5 .2-1.6 .1-.1 .2-.1 .2 1.5 .2 1.7 .2 0 .1-.6 .2-1.1 19.6 0 .2-1.4 .2 1.2 .1-.8 .2 1.7 .2-.2 .2 1.6 .2-.5 .1-.8 .2-1.9 .2-1.1 .2 .2 .2 2 .1 1.7 .2 .2 .2-.3 .2 .2 .2-3 .1 .4 .2 .3 .2-.2 .2-1.2 .1 0 .2 3.2 .2 .8 .2-1.5 .2 1.5 .1-1.1 .2-3.1 .2-.1 .2 4.1 .2-1.7 .1-2.2 .2 3.3 .2-1.7 .2-1.1 .2 3.1 .1 .3 .2-.9 .2-2.7 .2 2.8 .2-1.8 .1 1.7 .2-.3 .2-.6 .2-1.7 .2 .4 .1 2.6 .2 .4 .2-3.2 .2 2.1 .2-1.5 .1-.9 .2 .5 .2 1.5 .2 1.3 .2-.3 .1-.5 .2-.9 .2 .1 18.1 0 .2 .8 .2 1.3 .2-1.6 .2-.5 .1 1.4 .2-3 .2 2.8 .2-1.1 .2 1 .1-2.1 .2 1 .2 .3 .2 1.4 .2 .1 .1-.1 .2-.9 .2-1.1 .2 1.1 .2-.2 .1-.3 .2 1.1 .2-2.6 .2-.7 .2 3.4 .1 .4 .2 0 .2-.2 .2-1.8 .2-1.4 .1-.3 .2 3.1 .2-2.2 .2 .9 14.9 0 .2-1.1 .1 0 .2 3.2 .2-.3 .2-.3 .2-2.2 .1-.6 .2-.7 .2 1.5 .2 1.5 .2 .2 .1-1.5 .2 1.5 .2 0 .2-1 .2 .4 .1 1.3 .2-2.8 .2-1.1 .2 .3 .2 .8 .1-.2 .2 3.1 .2-.8 .2 .2 .2-.1 .1 .6 .2-3.1 .2 .6 .2-.9 .1-.7 .2 1.6 .2 2.7 .2 0 .2-.4 .1 .2 .2-2.9 .2-.9 .2 1.9 24.1 0 .1 .4 .2-1.4 .2 1.1 .2 .5 .2 .8 .1-2.6 .2-.9 .2 3.3 .2 .1 .2 .4 .1-2.1 .2-1.1 .2 0 .2-.2 .2 2.5 .1-.5 .2 .4 .2-1.2 .2-.1 .2 1.2 .1 1.4 .2-.2 .2-1.3 .2-2.2 .1 .9 .2 .9 .2-.5 .2 .9 .2-1.4 .1 0 .2 .4 .2 1.4 .2 1.1 .2-.4 .1-2.3 .2-1.4 .2-.1 .2 1.9 .2-.2 .1 2.3 .2 .2 .2-.1 .2-1.6 .2 1 .1-.7 .2-2.6 .2 0 .2 2 .2 .5 .1-.7 .2 .2 23.9 0 .2-2 .2 1.2 .2 2.8 .1-1.2 .2 .5 .2-.3 .2-2.1 .1-.9 .2 1.7 .2 2 .2-3.3 .2-.2 .1 3 .2-1.9 .2 2.4 .2 .1 .2-3.3 .1-.3 .2-.3 .2 .7 .2 1 .2 2.1 .1-2 .2-1.5 .2 .5 .2 1.2 .2 .2 .1 1.6 .2-.9 .2-2.3 .2 .5 .2 .3 .1 1.1 .2-2.3 .2 1.5 .2-.7 .2 .4 .1 2.2 .2 .7 .2-1.8 .2-1.5 .2-.9 .1 .1 .2-.2 .2 3.7 .2 .6 .2-.9 .1-2.3 .2 2.8 .2-2.2 .2-1.2 .2 0 .1 1.5 .2-1.8 .2 .2 .2 3.3 .2 .5 .1-2.2 .2 1.7 .2-2.3 .2-1.2 .1 0 .2 3.4 .2-1.4 .2-1.6 .2 2.6 .1 .7 .2-1.1 .2 .6 .2 .3 .2-1.6 .1-2.1 .2 .4 .2-.1 .2 2.2 .2 .4 .1-.4 .2 .9 .2 .1 .2-.6 .2-.9 .1-1.1 .2-.7 .2 0 .2 .2 .2 1.7 29.6 0 .2 .9 .2-2.1 .1 .8 .2-.4 .2 1 .2-.4 .2 1.5 .1 .2 .2 .4 .2-2.2 .2-1.9 .2 .2 .1 .8 .2 1.2 .2 1.7 .2 .3 .2-1.1 .1 .3 .2-.1 .2-.9 .2-2.1 .2-.2 .1 .5 .2 .6 .2 .9 .2 2.1 .2 .2 .1-2.5 .2 0 .2-1.1 .2 .1 .2-.6 .1 2.6 .2-.1 .2-1.8 .2 .6 .1 2.7 .2-.5 .2-3.1 .2 .6 .2 .2 .1-1.4 .2 1.4 .2 2.5 .2-1.4 .2-2.2 .1 2.1 .2-.5 .2-1 .2 3.1 .2-.6 .1-2.8 .2-.2 .2 1.4 .2 .9 .2-1.4 .1 2.5 .2-.1 .2-1.9 .2 .5 .2 0 .1-.4 .2 .6 .2-1.3 .2 .9 34.5 0 .1 1.7 .2-.6 .2-3 .2 .1 .2 .5 .1 1.5 .2 .9 .2 .1 .2-1.8 .2-1.4 .1 .6 .2 2.7 .2-1.8 .2-.3 .2 .6 .1-.2 .2-1.7 .2 3.1 .2-.1 .2-2.3 .1-.3 .2 3.3 .2-1.5 .2 .4 .2 1.5 .1-.2 .2-3.6 .2-.2 .2 2.5 .2 .5 .1-1.4 .2 1.7 .2-2.3 .2 0 .2 .2 .1 1.2 .2 .7 .2-2.4 .2 .1 .2-.4 .1-.4 .2 3.1 .2 .4 .2 .2 .2-1.2 .1-.8 .2 1.2 .2-.3 .2 .4 .2-3 .1 0 .2 .5 .2-.2 .2 3.3 .2 .5 .1-.2 .2-3.1 .2-.1 .2 1.2 .1-1.9 .2 .1 .2 1.7 .2 .1 .2-1.5 .1 3.7 .2 0 .2-1.9 .2-.9 .2 0 .1-1.4 .2 0 .2 3.5 .2 .7 .2-1.9 .1 0 .2 1.1 .2-2.4 .2-.1 .2 1.4 .1-2 .2 .2 .2-.2 .2 3.4 .2-1.1 .1 .2 .2-.7 23.9 0 .2 .8 .2 1.3 .2-2.1 .1 .8 .2-1.7 .2-.3 .2 2.3 .1 .3 .2-1 .2-1.5 .2 .6 .2-1.3 .1 .2 .2 3.2 .2 .2 .2-2.3 .2 1.6 .1 .5 .2-1.9 .2-1.2 .2-.1 .2-.3 .1 0 .2 2.9 .2 1.1 .2-1.1 .2 .4 .1 .3 .2-3.6 .2-.2 .2 .7 .2 1.4 .1-.7 .2 .2 .2 2.5 .2-.7 .2-1.1 .1 1.7 .2-1.7 .2-2 .2-.3 .2 2 .1 .2 .2 1.1 .2 .5 .2 0 .2-3.4 .1 2.9 .2-1.2 15.8 0 .2-.4 .2 2.1 .2-.5 .1-1.3 .2 1.8 .2 0 .2-2.3 .2 0 .1-.8 .2-.8 .2 0 .2 4.1 .2 .2 .1-.8 .2 .4 .2 .1 .2-3.9 .2 0 .1 3.3 .2-.8 .2-2.3 .2 2.2 .2 .9 .1-1.7 .2 1 .2 1.5 .2-2.5 .2-1 .1 2.8 .2-1.3 10.4 0 .2 .6 .2 1.4 .2-.4 .2-.7 .1-2.9 .2 2.3 .2-1.5 .2 1.1 .1 2 .2-1.9 .2 .5 .2 .6 .2 .3 .1 0 .2-.6 .2-2.2 .2-.7 .2 0 .1 1.3 .2 2.4 .2 .5 .2-.1 .2-1.1 .1-1.1 .2 .9 .2-2.8 .2 .8 .2-.5 .1 .3 .2 .2 .2 3.3 .2-2 3.4 0" fill="none" stroke="#1f77b4" stroke-width="2.20" stroke-linejoin="round" clip-path="url(#c2)" />
<path d="M579.9 850.5l11.8 0 .4-1.2 .4 1.6 .3-2 .4 .8 .8-1.7 .2-211.9 .3 207.9 .3 6.5 .3 .7 .2-.5 .2-.4 .2-.5 .1-.2 .2 .5 .2 1 .2-.8 .1 .2 .2 .5 .2-.8 .2-.8 .2 .2 .1 .7 .2-.3 .2 .2 .2 1.8 .2-.1 .1-.5 .2 .2 .2 .3 .2-1.4 .2-1.4 .1-.1 .2 0 .2 .8 .2 .2 .2 1.8 .1-.2 .2-.1 .2-.6 .2 .5 .2-.3 .1 .3 .2-.6 .2-1.7 .2 .3 .2 1.1 .1 0 .2-.2 .2-.7 .2 .6 .2 .4 .1 .2 .2 .8 .2 0 .2-.5 .2-.2 .1 .1 .2-1.5 .2 .5 .2 1 .2-1 .1-.6 .2 1.3 .2 .4 .2-.2 .2 .5 .1-.4 .2 .6 .2-1.2 .2 .7 .2 .6 .1-.4 .2-.5 .2-.2 .2 .3 .1-2.2 .2 .5 .2 1.5 .2 .1 .2 .2 .1 1 .2 .1 .2-.3 .2-.9 .2 .4 .1-1.4 .2-.8 .2 .1 .2 .1 .2 1.2 .1 1.4 .2 0 .2-.6 .2-.3 .2-1.4 .1 .4 .2 0 .2-.2 .2 .2 .2-.6 .1-.1 .2 2 .2 .5 .2-1.6 .2 .7 .1-.5 .2-.3 .2-.2 .2 .8 .2 .7 .1-1.6 .2 .3 .2-.5 .2 .8 .2-.6 .1 1 .2-.1 .2 0 .2-.1 .2 .7 .1 0 .2-.9 .2 .3 .2-.3 .2-.8 .1-.5 .2 1.1 .2-.6 .2-.2 .1 1.8 .2-.2 .2-1.3 .2 1.3 .2 1.2 .1-1.1 .2 .1 .2-.7 .2-1.5 .2 .2 .1-.3 .2 1.7 .2-1.4 .2-.3 .2 1.1 .1 1.8 .2 .2 .2 .1 .2-.1 .2-.2 .1-2.4 .2-.3 .2 1 .2-.6 .2 .3 .1-.1 .2 1.5 .2-.6 .2 .8 .2 .7 .1-.1 .2-2.3 .2 1.3 .2-.6 .2-.1 .1 1.1 .2 .1 .2-1.7 .2-.2 .2 0 .1 .5 .2-.4 .2 .9 .2 .7 .2 0 .1-.1 .2 .3 .2 0 .2-.6 .2-.3 .1-.8 .2-.1 .2-.3 .2 .1 .1 .3 .2 1.9 .2-1.8 .2 2.3 .2-1.9 .1 .3 .2 .8 .2 .7 .2-2 .2-.8 .1 .7 .2-.4 .2-.6 .2 .9 .2 .8 .1-.7 .2-.5 .2 1 .2 1 .2-.3 .1 .5 .2-.8 .2-1.3 .2-.1 .2 1.1 .1 .2 .2 .2 .2-.4 .2 .4 .2-1.3 .1 .5 .2 .9 .2 0 .2-1.2 .2-.3 .1 .8 .2 .2 .2 .8 .2 .1 .2-.6 .1-.9 .2 .4 .2 .6 .2-1.5 .2 .7 .1 .6 .2-.5 .2 .1 .2 .6 .2 .7 .1-2.4 .2 .5 .2 .2 .2-.5 .2 .6 .1-.1 .2 2.2 .2-.1 .2-.2 .1-.2 .2-1.5 .2-.5 .2-.3 .2 .9 .1-1.6 .2 .1 .2 .6 .2 2.5 .2-.8 .1 .6 .2 .4 .2-3 .2 .7 .2 .9 .1 .7 .2 0 .2-1.3 .2-.7 .2-.5 .1-.1 .2 1.6 .2 .9 .2 .1 .2-.4 .1-.5 .2 .7 .2 .1 .2 0 .2-.1 .1-1.7 .2-.2 .2 .4 .2 .3 .2 .8 .1 .6 .2-1.5 .2 .2 .2 .5 .2 1.1 .1-.4 .2 0 .2 .6 .2 0 .2-.6 .1-1.9 .2 .6 .2-.3 .2-.2 .2-.1 .1 .2 .2 .3 .2 .4 .2 1.7 .1-.1 .2-.6 .2-.5 .2-1.5 .2-.2 .1 0 .2 2.2 .2 .1 .2-1.4 .2 .6 .1 .3 .2 .1 .2-.8 .2 .3 .2-.1 .1-1.2 .2 1 .2 1.5 .2 0 .2-.4 .1-.9 .2-1.1 .2 .1 .2 0 .2 1.5 .1-1.1 .2-.3 .2 .7 .2 .1 .2 .7 .1 .4 .2 .4 .2-2.1 .2 0 .2 1.1 .1 .2 .2-1 .2-.1 .2-.1 .2 .7 .1-.9 .2-.1 .2 .2 .2 1.1 .2 0 .1 1 .2-.4 .2-.7 .2 .3 .2 .9 .1-2.2 .2 .2 .2 .5 .2-1.1 .2 .5 .1 2 .2-.1 .2-2.6 .2 0 .1 .2 .2 .8 .2 .8 .2 1 .2 .4 .1-.6 .2-1.3 .2 .7 .2-1.3 .2-.9 .1 .1 .2 0 .2-.1 .2 .2 .2 3.1 .1 0 .2-.4 .2-1 .2 .8 .2-2.3 .1 1.1 .2-.4 .2-.3 .2 .9 .2-.9 .1 1.8 .2 .2 .2-1.4 .2-.6 .2 .2 .1-.2 .2 .8 .2 1 .2 2.1 .2-3.7 .1 3.1 .2-.5 .2-5 .2 .9 .2 1.9 .1 .4 .2-1.2 .2 1.4 .2-.6 .2-3.2 .1 3.6 .2 5.1 .2-4.8 .2 .1 .2-4.8 .1 2.3 .2-3.5 .2 8.7 .2 2.3 .1-1.9 .2-5.6 .2-2.1 .2 6.7 .2-3 .1 4 .2-3.1 .2 3.2 .2-9.6 .2 4.6 .1 5.3 .2-.8 .2-8 .2 6.2 .2-2.9 .1 3.2 .2 4.1 .2-.1 .2-8.9 .2-1.8 .1-.5 .2 1.9 .2-4.6 .2 10.1 .2 1.5 .1-2.3 .2 1.5 .2 1.1 .2-.1 .2-3.9 .1-1.5 .2 .4 .2-2.7 .2 .3 .2 3.2 .1 1.3 .2 .8 .2 1.7 .2-2.1 .2-4.9 .1 2.4 .2 .8 .2 3.1 .2 .1 .2 .7 .1-.7 .2-3.7 .2-1.7 .2 2.5 .2 .9 .1-5.9 .2 1.2 .2 4.2 .2-.6 .1 4.4 .2 1.5 .2 0 .2 3.1 .2-12.8 .1 4.2 .2-1.8 .2-1.2 .2-1.7 .2 3.4 .1-4.2 .2 8.5 .2 1.3 .2 1.4 .2-4.4 .1-3.9 .2 6.2 .2-.9 .2-3.5 .2 3.8 .1-3.3 .2-3.7 .2 3.1 .2 .5 .2 .4 .1 1.5 .2 2.4 .2-2.4 .2-1.5 .2 3.1 .1 .3 .2-1.1 .2-4.8 .2 2.1 .2-4.8 .1-1 .2 5.1 .2 7.3 .2-2.5 .2-6.9 .1 4.1 .2-5.9 .2 5.6 .2 .2 .2 4.6 .1 .7 .2-2.3 .2-3.7 .2-2.4 .2 .2 .1 .4 .2-.9 .2-.1 .2-1.7 .2 2 .1 6.6 .2-.9 .2 1.3 .2-2 .1-6.5 .2-.7 .2 2 .2 2.5 .2-2.8 .1 .8 .2 0 .2 3.2 .2 1.7 .2 1.2 .1 .1 .2-7 .2-2 .2 1.4 .2-.3 .1 .5 .2 5.2 .2 1.1 .2-2.5 .2-.6 .1 4.2 .2-2.9 .2-2.6 .2 2.6 .2 1.5 .1-2 .2-1.6 .2 9.3 .2-9.4 .2-3 .1 3.5 .2 9 .2-11.5 .2 6.3 .2 .8 .1-1.3 .2-1.5 .2 .6 .2 0 .2-4.4 .1-.1 .2 1.6 .2-.2 .2-2.1 .2-.1 .1 11.4 .2-.3 .2-4.9 .2 .9 .2-3.6 .1-2.5 .2 6 .2 .7 .2-.1 .1-2.6 .2-3.5 .2-1.5 .2-.1 .2 2.7 .1 2.9 .2-1 .2 .3 .2 1.4 .2 .6 .1-.1 .2-.7 .2-.7 .2-5.1 .2-.2 .1 .5 .2 .6 .2-2.8 .2 9.2 .2 1.9 .1-3.6 .2-5.9 .2 7.5 .2-.3 .2-3 .1 1.9 .2 1.6 .2-.7 .2-8.8 .2 5.9 .1-4.6 .2 2 .2-3.2 .2 5 .2-1.3 .1-1.4 .2 6.6 .2 1.5 .2-2.5 .2 1.1 .1-4 .2-1.3 .2-1.1 .2 2.7 .2 0 .1-6 .2 3.3 .2-1.5 .2 6.5 .2-3.1 .1 3.7 .2 1.8 .2-7 .2 .3 .2 7.3 .1-.4 .2-5.2 .2-4.4 .2-1 .1 .3 .2 1.3 .2 6 .2 .7 .2 .1 .1 1.7 .2-1.2 .2-4.8 .2 0 .2-3.7 .1 1.7 .2-3.3 .2 4.7 .2 2 .2 6.1 .1-.7 .2 .6 .2-9.9 .2-2.2 .2 3.3 .1 6 .2-8.3 .2 2.9 .2 7.3 .2 .2 .1-6.5 .2 3.9 .2 .7 .2-5 .2-.5 .1 1.5 .2 6.4 .2-7.8 .2 6.5 .2 .9 .1 .3 .2-11.1 .2-3.6 .2 5.9 .2-.7 .1 1.7 .2 4.7 .2 1.2 .2-2.1 .2 2.2 .1-.7 .2-.6 .2-.6 .2-5.2 .2-1.9 .1 .2 .2 3.4 .2 6.5 .2-6.6 .1 .2 .2 2.5 .2 .5 .2 1.1 .2 .3 .1-.3 .2-3.5 .2-1.9 .2 5 .2-2.7 .1-1 .2-.8 .2 .9 .2-.3 .2 .8 .1 5.7 .2-2.2 .2 .9 .2 1.7 .2-1.5 .1-5.9 .2-2.8 .2 2.3 .2 2.4 .2-1.2 .1-.6 .2 3.2 .2-5.7 .2 3.9 .2 3.6 .1 2.1 .2-4.1 .2-1.9 .2-2.3 .2 7.9 .1 1.1 .2 0 .2-5.3 .2 2.1 .2 3.1 .1-10.7 .2 2.4 .2 3.9 .2 2.9 .2-7 .1 1.3 .2 6.1 .2 .1 .2-1.7 .2-3.4 .1-2.5 .2-1.2 .2-.4 .2 2.9 .1 4.7 .2-.5 .2-5.4 .2 3.3 .2 .5 .1-3.3 .2 1.5 .2 2.8 .2-4.9 .2 0 .1 4.8 .2 2.1 .2-.2 .2-6.1 .2 3.9 .1-5.5 .2-.3 .2 4 .2-2.8 .2 .3 .1 2.8 .2 2.5 .2-1.3 .2-.3 .2 .7 .1 3 .2-1.4 .2-2.2 .2-3.9 .2-1.1 .1 .5 .2 3.6 .2-2 .2-.4 .2-1.9 .1 3.1 .2-7.7 .2 13.8 .2 .4 .2-.5 .1-6.1 .2-4.2 .2 6.2 .2 2.8 .2-1.1 .1 .5 .2 .9 .2-8.5 .2 .8 .2 7.3 .1-5.1 .2 .4 .2-1.3 .2 2.1 .2 1.7 .1 2.5 .2 2.1 .2-1.2 .2-7.8 .1-.9 .2-.1 .2-.1 .2 .3 .2 4.9 .1-2 .2 2.5 .2 2.9 .2-.4 .2-.1 .1-3.9 .2-1.4 .2-1.1 .2-2.4 .2 3.9 .1 .8 .2 3.4 .2-.2 .2-.8 .2-4.6 .1 9.9 .2-7.1 .2 1.6 .2-.5 .2 7.4 .1-9.7 .2 1.2 .2-3.5 .2 4.7 .2 2.1 .1-3.2 .2-2.9 .2 .6 .2 2.9 .2-3.6 .1 4.2 .2 .8 .2-5 .2-.8 .2 2.4 .1 3.4 .2-.3 .2-.2 .2 .2 .2-2.7 .1-.8 .2 4.6 .2-3.7 .2-2.6 .2 .3 .1 1.8 .2-1.6 .2 6 .2-.7 .1-6 .2-1 .2 1.6 .2 1.9 .2 1.7 .1-4.3 .2 7.4 .2 0 .2-2.3 .2 .5 .1 1 .2-5.2 .2-1.5 .2 .6 .2-.1 .1-.1 .2 2.2 .2 4.3 .2-5.3 .2 4.5 .1-.5 .2-1.5 .2-3.6 .2-2.4 .2 3.2 .1-.8 .2 .1 .2-.6 .2 3.9 .2-1.2 .1 3.2 .2 .6 .2-4.7 .2-1.2 .2 3.3 .1 3.2 .2-1 .2 .5 .2 4.9 .2-11.9 .1-2.7 .2 2 .2 6.9 .2-1.6 .2-3.9 .1 6.5 .2-1.5 .2 4.2 .2 .1 .2 .8 .1-2.4 .2-8.4 .2 3.4 .2-2.7 .2-1.1 .1-.3 .2 4.8 .2-1.5 .2-1.8 .1 5.5 .2 2.4 .2-.6 .2-.5 .2 1.9 .1-3.2 .2-3.8 .2-.4 .2-3.6 .2-.5 .1 5.3 .2-3.8 .2 7.3 .2-1.6 .2 2.6 .1 .9 .2-1.9 .2-4.2 .2-1 .2 1.8 .1-3.9 .2 6.3 .2 2.7 .2-5.3 .2-2.4 .1 3.4 .2 .4 .2-3.7 .2 4.2 .2-3.7 .1-2.4 .2-.1 .2 9.6 .2-.7 .2-4.4 .1 2.1 .2-6.3 .2 .2 .2-.3 .2 4.4 .1 3.6 .2-.5 .2-1.3 .2 2.9 .2-1.3 .1-.8 .2-1.2 .2-5.2 .2-.6 .2 2.3 .1 .3 .2 1.3 .2 2.2 .2 .4 .1 .9 .2-1.7 .2-.3 .2 3.3 .2-6.7 .1 0 .2-.9 .2-.1 .2-.9 .2 1.6 .1 6.5 .2-2 .2-.5 .2 1.3 .2 .1 .1-3.1 .2 2.7 .2 2.5 .2-5.8 .2-3.2 .1 .6 .2 .5 .2-1.3 .2 2.8 .2 5.6 .1 1.1 .2-8.3 .2 3.7 .2 5.5 .2-3.6 .1-4.9 .2-3.8 .2 .5 .2 1.2 .2 6.5 .1 .2 .2-2.9 .2 8.7 .2-14.8 .2 4.5 .1-1.9 .2 10.5 .2 .6 .2-1.2 .2-1.7 .1 2.2 .2-6.8 .2-2.8 .2-2.3 .2 .3 .1-.8 .2 1.2 .2 6.8 .2 5 .1-1.2 .2-1 .2-.5 .2-1.7 .2-4.4 .1 3.1 .2-2.1 .2-2.5 .2 1.8 .2-.9 .1-3.2 .2 3.8 .2 5.8 .2 .5 .2-5.1 .1 3 .2-1.8 .2-.5 .2 5.3 .2-.2 .1-4.8 .2-5.5 .2-.2 .2 1.1 .2 1.3 .1 3 .2 5.5 .2-5.6 .2-3.5 .2 4.5 .1 5.2 .2-2.2 .2-.7 .2-4.9 .2 .5 .1 1 .2 1.3 .2 3.2 .2-2.9 .2-4.3 .1 4.6 .2-5.1 .2 2.9 .2 4 .2 1.4 .1-2.4 .2-2.4 .2 1.4 .2 1.8 .2-3 .1-.1 .2-1.9 .2 .1 .2 .9 .2 4.8 .1 .1 .2-2.3 .2 1.1 .2 .7 .1-7.6 .2 .7 .2 1 .2 2.4 .2 1.5 .1 2.9 .2-.7 .2-3.1 .2 .5 .2 .2 .1 1.2 .2-9.7 .2 3.4 .2 .6 .2 1.9 .1 2.3 .2 3.8 .2-.5 .2-1 .2-5.9 .1 3.9 .2-1.5 .2 3.9 .2-4.3 .2 2.5 .1-6.4 .2 3.1 .2 3.5 .2-.9 .2-4.4 .1 1.4 .2-.8 .2 10.2 .2 7.2 .2-8.7 .1-3.9 .2-.5 .2-1.8 .2 .4 .2-.9 .1 3 .2-2.1 .2-1.4 .2-2.5 .2 1.6 .1-.4 .2 3.8 .2-2.5 .2 4.5 .2-3.3 .1 6.1 .2-2.5 .2-.5 .2-1.4 .1 .8 .2-2.6 .2-5.2 .2-.9 .2 2 .1 6 .2 1.5 .2 0 .2 2.8 .2-2.9 .1-5.1 .2 6.6 .2-4.8 .2-4.6 .2-.5 .1-.4 .2 8.2 .2 6.3 .2-4.5 .2-.3 .1-8.9 .2-.1 .2 2 .2 4.1 .2-2 .1 4.1 .2 1.2 .2-3 .2-3.1 .2 5.7 .1-4.3 .2-4 .2 .9 .2 .1 .2-.1 .1 3.8 .2 1.6 .2 1 .2-2.6 .2-.8 .1 .6 .2-.6 .2-1.2 .2 .8 .2 2.5 .1-2.4 .2 1.3 .2 1.5 .2-1.3 .2-2.5 .1-.6 .2 4.6 .2-5.7 .2-1.1 .2 3.7 .1 5 .2-5.4 .2 6.8 .2-1.5 .1-7.9 .2 4.2 .2 4.2 .2-.2 .2-3.6 .1-5 .2-3.9 .2 4.3 .2 1 .2 7.7 .1 .2 .2-7.1 .2 4.8 .2 2.5 .2 .5 .1-.7 .2-1.4 .2-6.6 .2-2.8 .2 1.4 .1 5.4 .2-5.5 .2 7 .2 2.5 .2-3.7 .1 2.2 .2 1.2 .2-.3 .2-6.7 .2-2.8 .1 2.1 .2 4.7 .2-2.5 .2 2.8 .2 2.3 .1-6.6 .2-1.3 .2 3.6 8.4 0 .2-1.8 .2 2.2 .2 .7 .2 .7 .1 .3 .2-.1 .2-1.8 .2-1.9 .2 .9 .1 2 .2-1.4 .2-.7 .2 2.1 .2 .4 .1-2.9 .2 .5 .2 .8 .2-1 .2-.4 .1 1.8 .2 1 .2-.6 .2 1 .1 .2 .2-.1 .2-3 .2-.5 .2-.5 .1 .1 .2 3.1 .2-.8 .2 .9 .2-.1 .1 .9 .2 .1 .2 0 .2-.5 .2-1.4 .1-2 .2-.3 .2 1.6 .2 .5 .2-.4 .1-.9 .2 .2 .2 .5 .2-.4 .2 2.6 .1 .5 .2-2.5 .2-.7 .2 2.8 .2 0 .1-2 .2-.7 .2-.7 .2-.4 .2 .3 .1 1 .2 1.1 .2 .8 .2 .4 .2-.3 .1-.2 .2-.3 .2 .9 .2-2 .2-.6 .1 1 6.1 0 .2-.7 .2 2.2 .2-1.8 .2-.3 .1 2.1 .2 .4 .2-3.6 .2 2.3 .2-.8 .1-1.7 .2 .2 .2 1.9 .2 1.8 .2-.6 .1 .4 .2 .2 .2-2.5 .2-1.4 .2 1.5 .1 .5 .2-1.4 .2 .1 .2 2.4 .2-2.3 .1-.1 .2 2.6 .2 .7 .2-1.5 .2-1.3 .1-.7 .2 .9 .2-1.4 .2 2.3 .1-1 .2-1.2 .2-.2 .2 .5 .2 1.5 5.5 0 .2 1.7 .2-2.7 .2 2.3 .2-2.4 .1-1.1 .2 .1 .2 2 .2-1.1 .2 .5 .1 2.4 .2-.2 .2-.2 .2 .8 .2-.1 .1-2.7 .2-1.3 .2 .9 .2 .4 .2-.8 .1 .8 .2 2.1 .2-2.1 .2-1.4 .1 1.9 .2 1.5 .2 .5 .2-.6 .2 .5 .1-1.7 .2-.6 .2 2.1 .2-.6 .2-1.3 .1-1.2 .2 .3 .2 .6 .2 .6 .2 1.9 .1-1.8 5.6 0 .2-1.2 .2-.9 .2 .2 .1 1.9 .2 1.8 .2 .3 .2-.2 .1-1.9 .2-1 .2 1.1 .2 .9 .2-1.3 .1-1.2 .2 .9 .2 .7 .2-1.1 .2 1.2 .1 1.5 .2-2.1 .2-.4 .2-.1 .2 .3 .1 2 .2 .3 .2-.8 .2-2.9 .2 .1 .1 .9 .2-.3 .2 .4 .2 1.9 .2 .5 .1-2.4 .2 1.9 .2 .7 .2-.9 .2-.6 .1-.8 .2 2.2 .2-1.1 .2-1.5 .2 1.8 .1-.2 .2-1.5 .2-.9 .2 .6 .3 0 .2 2.5 .2 .7 .2-.3 .2-.7 .1-.3 .2-.4 .2-1.8 .2 .5 .2-.9 .1-.1 .2 0 .2 2 .2 2.2 .1-.2 .2-.3 .2-1.5 .2-1.3 .2-.8 .1 1.8 .2 .9 .2-1.6 .2 1.6 .2-1.4 .1 .9 .2 1 .2-.8 .2-1.6 .2-.6 .1 1.4 .2 1.8 .2-.1 .2 .7 .2-.5 .1-.9 .2-1.3 .2-1 .2 1.4 .2-.2 .1-1.3 .2 1 .2 1.6 .2-.6 .2 .5 .1-.3 .2 .6 .2-2.8 .2 3 .2-1.5 .1-1 .2 1.4 .2 .8 .2 .4 .2-2.4 .1 .7 .2 .8 .2-1.9 .2 2.6 .2 .8 .1-1.8 .2-1.3 .2 .2 .2 0 .2 1.3 .1 .3 .2 1.1 .2-3 .2-.5 .2 1.7 8 0 .2 1.4 .2-.4 .2-2.2 .2-.1 .1 2.4 .2 .4 .2-1.4 .2-.7 .2 .9 .1-2.2 .2 .2 .2 3.5 .2-.7 .1-2.5 .2 .1 .2 .9 .2-.2 .2 .3 .1 1.8 .2-.1 .2-.9 .2 .1 .2-.8 .1-.3 .2 .2 .2-.3 .2 .3 .2 .1 .1 1.5 .2 0 .2-.3 .2-1.1 .2 .1 10.2 0 .2-2.2 .2 .2 .1 1.6 .2 .1 .2-.8 .2 1.5 .2-.5 .1-1.3 .2 2 .2 1 .2-1.2 .2-1.1 .1 1.2 .2-.9 .2-1.3 .2 2.1 .2-.7 .1-1.6 .2-.3 .2 .6 .2 2.4 .2-.3 .1 1.4 .2 .2 .2-1.2 .2-1.2 .2-.6 .1 2.3 .2-3.2 .2-.4 .2 .7 .2 .6 .1 .7 .2 2.2 .2 .1 .2-1.1 .1-.2 .2 0 .2-.8 10.2 0 .2-1.6 .2 2.5 .2-.6 .2-1.3 .1 1.7 .2 .4 .2 .1 .2-.9 .2 .3 .1 .3 .2-2.9 .2 2.9 .2-.5 .2 .2 .1-2 .2-.3 .2-.2 .2 .5 .2 2.6 .1 .6 .2 .1 .2-.6 .2-.4 .2 1.1 .1-2.4 .2-.7 .2-.7 .2-.3 .2 0 .1 .3 .2 1 .2 2.4 .2 .3 .2-.2 .1-1.1 .2 1 .2 .5 .2-.1 .2-1.9 .1-1.8 .2 .3 .2-.5 .2-.1 .2 .2 .1 1.3 .2 .4 .2-.5 .2 2.4 .2-.2 .1-.7 .2 0 .2 .1 .2-2.4 .1-.5 .2 .6 .2-.5 .2 .9 .2 .9 6.8 0 .2 1.1 .2 .7 .1-1.1 .2 .5 .2-.4 .2-1 .2-.8 .1 .5 .2 .8 .2-1 .2 .5 .1 1.4 .2-3 .2 1.8 .2 1.7 .2-1 .1 .9 .2-.8 .2 .6 .2-1.9 .2-.6 .1 1.8 .2 0 .2-2 .2 .5 .2 1.6 .1-.8 .2 .3 .2 1.3 .2-.1 .2-2.5 .1 .2 .2-.6 .2 .6 .2 .5 .2 2.4 .1-.9 .2-3 .2 .9 .2-.7 .2 .2 .1-.3 .2 1.1 .2-.6 .2 1 .2 2 .1 .3 .2-.2 .2-.5 .2-3.1 .2-.3 .1-.1 .2 1 .2 .4 .2 .3 .2-.9 .1 2.2 .2-.9 12.6 0 .2-.7 .1-.8 .2 2.6 .2 .2 .2-.8 .2-1.4 .1 2.5 .2-.7 .2-1.6 .2 .4 .2-.7 .1 1.5 .2 .9 .2 .6 .2-1.3 .2-2.5 .1 .3 .2 2.5 .2-.2 .2 .1 .2 1.2 .1-2.6 .2-.2 .2 2.4 .2 .1 .2-1.7 .1-1.2 .2 0 .2-.1 .2-.2 .2 3 .1 0 .2-2.5 .2-.5 .2 2.2 .2 0 .1 .2 .2 .2 .2 .7 .2-1 .2-1 .1-.1 .2-1.6 .2 .1 .2 .5 .2 2.2 .1-1.9 .2 .9 .2 1.4 .2-.8 .1 0 .2 .2 .2-1.1 .2-1.8 .2 .1 .1 2.6 .2 1.4 .2-.2 .2-.3 .2 .3 .1-2.8 .2 .4 .2-.7 .2 .8 .2-1.2 .1-.1 .2 2.3 .2 .7 .2 .9 .2-.1 .1-.8 .2-2.8 .2 .4 .2 1 .2 2.1 .1-1.2 .2 .1 .2-.8 13.7 0 .1 1.4 .2 .5 .2-2.3 .2 .4 .2-.4 .1-1.5 .2 .3 .2 .4 .2 2 .1-.4 .2-.1 .2-1.1 .2-1 .2 1.9 .1 1.6 .2-.5 .2-2 .2-.6 .2 1.5 .1-1.5 .2 .8 .2 1.2 .2-.3 .2-1.6 .1 2.2 .2 .9 .2 0 .2-1.4 .2-1.3 .1-1 .2 .5 .2 1.5 .2 1.7 .2-2.8 .1 .5 .2-1 .2 1.5 .2-1.3 .2 2.4 .1 .4 .2-1.3 .2-.2 .2 1.6 .2-.2 .1-1.4 13.9 0 .1-1.5 .2-.6 .2 1.8 .2 .6 .2 1.4 .1 .3 .2-2.3 .2-1.4 .2 2.9 .2-.1 .1-1.4 .2 .3 .2 0 .2-1.2 .2 1.6 .1 1.4 .2 0 .2-1.5 .2-1.5 .2 1 .1-.8 .2-.3 .2 1.6 .2 .8 .2-1.8 .1 1.1 .2 1.5 .2-1.1 .2-.6 .2 1.1 .1-2.4 .2-.7 .2 .1 .2 2.3 .2-1.5 .1 .5 .2 .9 .2 1.1 .2-1.5 .2-1.2 .1 2.4 .2-.1 .2-2.3 .2 .1 .2-.2 .1-.9 .2 1.1 .2 1.4 .2 .8 .2-2.3 .1 .5 .2 2.2 .2-.5 .2-.1 .1 .6 .2-2 .2-1.7 .2 0 .2 1.2 .1 1.9 .2 0 .2 .5 .2-1.1 .2-2.1 .1 .9 .2 1.5 .2-.7 .2-.8 .2 1.7 .1-.2 .2 .5 .2 .4 .2 .2 .2-2.6 .1-1.3 .2 .3 .2-.1 .2 .1 .2 3.1 .1 0 .2 .3 .2 0 .2 .2 .2 0 .1-2.8 .2-.7 .2 1.9 .2-2 .2-.1 .1 1.4 .2 1.2 .2-.3 .2 .9 .2-.9 .1-1.4 .2-.8 .2 1.8 17.1 0 .1 .1 .2-.8 .2-.8 .2 1.4 .2-1.5 .1 .8 .2 1.4 .2 .2 .2-1.8 .2 .4 .1 1.9 .2-.5 .2-2.1 .2-.3 .2 .4 .1 0 .2 1.6 .2 1.6 .2 0 .2-.7 .1-1.6 .2-.2 .2-1.3 .2 .6 .2 1 .1-1.7 .2 .1 .2 3 .2 .7 .2 .2 .1-.2 .2-1.5 .2-.9 .2-1.5 .1 .2 .2 1.2 .2 .3 .2-.6 .2 .9 .1-.4 .2 2 .2-.6 .2 .6 .2-2.6 .1 1 .2-.5 .2 2 .2-1.8 .2 .6 .1 1.3 .2-3.2 .2-.4 .2 .4 .2 1.9 .1 .5 .2-.1 .2 1.3 .2-1.1 .2-1.5 .1 1.9 .2 0 .2-1.1 .2 .4 .2-1.7 .1-.9 .2-.1 .2 1.5 .2 0 .2 1 .1-.5 .2 1.4 .2 .2 .2 .3 .2 .3 .1-.1 .2-3.1 .2-.9 .2 .3 .2-.3 .1 .4 .2 .4 .2 1 .2 1.2 .2 .8 .1 .3 .2 .1 .2-.5 .2-1.6 .1-1.7 .2-.5 .2 .5 .2 .5 .2 1.7 .1-1.4 .2 .5 .2 .8 .2-1.6 .2-.4 .1 2.8 .2-.8 .2-1.6 .2 2 .2 .4 .1 .3 .2-2.2 .2 2.1 .2-3.1 .2-.5 .1 2.1 20.5 0 .2 1.8 .2-.5 .2-2.6 .1-.6 .2-.2 .2 1 .2 0 .2 .3 .1-.5 .2 2 .2 .1 .2 .6 .2 .5 .1-.3 .2-3.4 .2-.2 .2 .1 .2 2.6 .1 1.1 .2-.8 .2-.7 .2-.2 .2-1.1 .1 2.8 .2-1.5 .2-1.7 .2-.2 .2 .7 .1 1.4 .2 0 .2 1.5 .2-.9 .1-2.9 .2 1.4 .2 0 .2-1.3 .2 .3 .1 2.7 .2-.2 .2-2.1 .2 1.6 .2 .1 .1 .1 .2-2.1 .2 2.7 .2-1.5 .2-1.4 .1 2 .2 1.4 .2-.2 .2 0 .2-2.5 .1 1.9 .2-2 .2-.1 .2 2.1 .2-1.5 .1-1.3 .2 .5 .2 .3 .2 .3 .2 1.8 .1 .5 .2-.8 .2-1.8 .2 2.4 .2 0 .1-.8 .2-.6 .2-.5 .2-1.7 .2-.1 .1 .6 .2 3.6 .2-.1 .2-.2 .2-.1 .1-.7 .2-2.2 .2 2.9 .2-1.2 .2-1 .1-1.3 .2 2.7 .2 .5 .2-.6 .2 1.1 .1-1 .2-1.8 .2-1.1 .2 3 .1 0 .2-1.1 .2 1.7 .2 .1 .2-.8 .1-2 .2 .7 .2-1.3 .2 .6 .2-.2 .1 1.1 .2-1 .2 2 .2 .8 .2 .6 .1-1.3 .2-.5 .2 .9 .2-3 .2 1.9 .1 .2 .2 1.4 .2-2.7 .2 0 .2 1.9 .1 .2 .2-1 .2 1.6 .2-2 .2-1 .1-.7 .2 3.3 .2-1.3 .2 .4 .2-.2 .1-1.7 .2 0 .2 1.6 .2-.1 20.6 0 .2 2 .2-.1 .2-1.4 .2 .3 .1-2.3 .2 .4 .2-.3 .2 .2 .2 0 .1 1.3 .2-.8 .2 2.6 .2-2.8 .1 1.6 .2 1 .2-1.1 .2 .5 .2 .3 .1-1.5 .2-2 .2 .1 .2 1.5 .2-.2 .1 .4 .2 0 .2 1 .2-1 .2 1.9 .1 .4 .2-.7 .2-2.9 .2 1.7 .2-.3 .1 1 .2-1.5 .2 .6 .2-1.4 .2-.5 .1 .5 .2 3 .2-1.2 .2 1 .2 .4 .1-.1 .2-.7 .2-.2 .2 1.1 .2-3.2 .1-.5 .2-.2 .2 .2 .2 .3 .2 .8 .1 2.7 .2-.1 .2-1.8 3.4 0" fill="none" stroke="#1f77b4" stroke-width="2.20" stroke-linejoin="round" clip-path="url(#c2)" />
<path d="M116.4 850.5l.5 0M127.4 850.5l11.8 0M148.9 850.5l16 0M168.3 850.5l19.6 0M198.5 850.5l18.1 0M222.6 850.5l14.9 0M244.5 850.5l24.1 0M277.7 850.5l23.9 0M317.1 850.5l29.6 0M358.4 850.5l34.5 0M408.3 850.5l23.9 0M441 850.5l15.8 0M462.2 850.5l10.4 0M478.4 850.5l3.4 0" fill="none" stroke="#1f77b4" stroke-width="2.90" stroke-linejoin="round" clip-path="url(#c2)"/>
<path d="M579.9 850.5l11.8 0M815 850.5l8.4 0M835.8 850.5l6 0M848.8 850.5l5.5 0M861.3 850.5l5.6 0M887.8 850.5l8 0M901.8 850.5l10.2 0M919 850.5l10.2 0M939.7 850.5l6.8 0M956.9 850.5l12.6 0M983.5 850.5l13.7 0M1005.2 850.5l13.9 0M1036.5 850.5l17.1 0M1073.1 850.5l20.5 0M1117 850.5l20.6 0M1147.7 850.5l3.4 0" fill="none" stroke="#1f77b4" stroke-width="2.90" stroke-linejoin="round" clip-path="url(#c2)"/>
<path d="M594.0 875.5V630.5" stroke="#ff0000" stroke-width="2.08" stroke-dasharray="7.71 3.33" fill="none"/>
<rect x="64.5" y="630.5" width="1138.0" height="245.0" fill="none" stroke="#000" stroke-width="1.11" stroke-linejoin="miter"/>
<path d="M116.5 875.5v5.2M260.5 875.5v5.2M403.5 875.5v5.2M547.5 875.5v5.2M691.5 875.5v5.2M834.5 875.5v5.2M978.5 875.5v5.2M1122.5 875.5v5.2M64.5 850.5h-5.2M64.5 814.5h-5.2M64.5 777.5h-5.2M64.5 741.5h-5.2M64.5 705.5h-5.2M64.5 668.5h-5.2M64.5 632.5h-5.2" stroke="#000" stroke-width="1.11" fill="none"/>
<text x="116.5" y="895.8" text-anchor="middle" textLength="8.8" lengthAdjust="spacingAndGlyphs">0</text>
<text x="260.5" y="895.8" text-anchor="middle" textLength="26.5" lengthAdjust="spacingAndGlyphs">200</text>
<text x="403.5" y="895.8" text-anchor="middle" textLength="26.5" lengthAdjust="spacingAndGlyphs">400</text>
<text x="547.5" y="895.8" text-anchor="middle" textLength="26.5" lengthAdjust="spacingAndGlyphs">600</text>
<text x="691.5" y="895.8" text-anchor="middle" textLength="26.5" lengthAdjust="spacingAndGlyphs">800</text>
<text x="834.5" y="895.8" text-anchor="middle" textLength="35.3" lengthAdjust="spacingAndGlyphs">1000</text>
<text x="978.5" y="895.8" text-anchor="middle" textLength="35.3" lengthAdjust="spacingAndGlyphs">1200</text>
<text x="1122.5" y="895.8" text-anchor="middle" textLength="35.3" lengthAdjust="spacingAndGlyphs">1400</text>
<text x="54.8" y="856.2" text-anchor="end" textLength="8.8" lengthAdjust="spacingAndGlyphs">0</text>
<text x="54.8" y="820.2" text-anchor="end" textLength="8.8" lengthAdjust="spacingAndGlyphs">2</text>
<text x="54.8" y="783.2" text-anchor="end" textLength="8.8" lengthAdjust="spacingAndGlyphs">4</text>
<text x="54.8" y="747.2" text-anchor="end" textLength="8.8" lengthAdjust="spacingAndGlyphs">6</text>
<text x="54.8" y="711.2" text-anchor="end" textLength="8.8" lengthAdjust="spacingAndGlyphs">8</text>
<text x="54.8" y="674.2" text-anchor="end" textLength="17.7" lengthAdjust="spacingAndGlyphs">10</text>
<text x="54.8" y="638.2" text-anchor="end" textLength="17.7" lengthAdjust="spacingAndGlyphs">12</text>
<text x="633.5" y="915.8" text-anchor="middle" textLength="49.0" lengthAdjust="spacingAndGlyphs">minute</text>
<rect x="1038.5" y="637.4" width="157.0" height="25.2" rx="2.8" ry="2.8" fill="#ffffff" fill-opacity="0.8" stroke="#cccccc" stroke-opacity="0.8" stroke-width="1.11"/>
<path d="M1044.1 648.6h27.78" stroke="#1f77b4" stroke-width="2.08" stroke-dasharray="7.71 3.33" fill="none"/>
<path d="M1056.7 649.0l1.3 1.6l1.3 -1.6z" fill="#1f77b4"/>
<text x="1087.6" y="654.3" textLength="101.4" lengthAdjust="spacingAndGlyphs">Ws_E14_dydt2</text>
<path d="M112.5 927.5V1172.5M257.5 927.5V1172.5M401.5 927.5V1172.5M545.5 927.5V1172.5M689.5 927.5V1172.5M833.5 927.5V1172.5M977.5 927.5V1172.5M1122.5 927.5V1172.5M64.5 1147.5H1202.5M64.5 1116.5H1202.5M64.5 1086.5H1202.5M64.5 1055.5H1202.5M64.5 1024.5H1202.5M64.5 993.5H1202.5M64.5 963.5H1202.5M64.5 932.5H1202.5" stroke="#b0b0b0" stroke-width="1.11" fill="none"/>
<path d="M116.5 1147l.2 .3 .3 0 .2-.6 .3-.5 .2 1 .2-.8 .3 1.6 .2-.9 .2-.9 .3 1.5 .2-.1 .3-1.3 .2 1.7 .2-1.2 .3-1.7 .2 1.4 .2-.9 .3 .2 .2 1.9 .3-.3 .2-.3 .2-.4 .3-.1 .2 .6 .3 .5 .2 1.1 .2-1.4 .3 1.3 .2-1.1 .2-.2 .3 2.1 .2-2.5 .3 1.6 .2-.9 .2 0 .3-.7 .2 .4 .2-.4 .3 .5 .2 1.1 .3-.6 .2-.7 .2-.4 .3 .6 8.8 0 .2-.8 .2 1.4 .3-.6 .2-.4 .3-.4 .2-1.2 .2 .9 .3-.1 .2 1.3 .3-2.2 .2 2.4 .2-2.3 .3 .4 .2 .5 .2 .9 .3-1.2 .2 .8 .3-1.3 .2 2.9 .2-1.9 .3 2 .2-1.8 .2 .4 .3-.8 .2 1.6 .3 0 .2 .9 .2-1.1 .3-.3 .2 .4 .2 .6 .3-.4 .2-.5 .3 .3 .2 1.7 .2-1 .3 .4 .2 1.2 .2-2.2 .3 .2 .2 1 .3-1.1 .2 .2 .2 .5 .3-.6 .2 .3 .3 .3 .2-1.3 .2 1.8 .3-2.7 .2 1.2 .2 .4 .3-.8 .2 .9 .3-.5 .2-.3 12.4 0 .2-.8 .2 1.5 .3-1 .2-1.3 .3 .8 .2-.4 .2 .4 .3-.5 .2-.2 .2 .7 .3-.1 .2 .1 .3 1.7 .2-1.8 .2-.5 .3 1 .2 .6 .2 .6 .3-.3 .2-1.1 .3 .4 .2 1.6 .2-1.6 .3 1.6 .2-.2 .2-.5 .3-.8 .2 .5 .3-1.1 .2 .7 15.9 0 .3-.7 .2 .2 .3 .2 .2 .2 .2 .5 .3 .7 .2-1.3 .2-.3 .3 1.6 .2-2.9 .3 1.4 .2-.9 .2-.7 .3-.1 .2 1.3 .2-.9 .3 0 .2 .7 .3-.2 .2 .9 .2-.8 .3 .8 .2-.3 .2-.1 .3-.6 .2 1 .3 .1 .2 .2 .2-2 .3 2.2 .2-.5 .3 1.6 .2-1.1 .2 1 .3-.3 .2-.9 .2-.7 .3 1.3 .2-.3 .3 .4 .2 .5 .2-.4 .3-.6 .2 .6 .2 .4 .3 .1 .2-.7 .3 .5 .2-.9 .2 1.6 .3-1.6 .2 1.1 .2-.7 .3-1.7 .2 .7 .3 1.1 .2-.2 .2-1.1 .3-.1 .2 .7 14.8 0 .2-1.4 .2 2.3 .3-.3 .2-.3 .2-2.8 .3 1.6 .2-.8 .3 1.9 .2-.4 .2-1 .3 .5 .2-.3 .3-.3 .2 .4 .2 .1 .3 .1 .2 .4 .2-.2 .3-.3 .2 1.5 .3-.7 .2-.3 .2 .9 .3 .1 .2-1.3 .2 .6 .3-.8 .2 .3 .3 1.7 .2 .3 .2-.4 .3-.9 .2 2.5 .2-2.1 .3-.9 .2 .7 .3-.4 .2 .3 .2-.3 11.5 0 .2-.8 .2 .1 .3 .1 .2 1.4 .2-.8 .3-1.5 .2 1 .3 .2 .2-.1 .2-.9 .3 1.6 .2-2.1 .2 .6 .3 1 .2-1.2 .3 2.4 .2-.8 .2-1.1 .3-.7 .2 2.1 .3 .3 .2-.9 .2 .1 .3 .7 .2 .2 .2-1.6 .3 1.9 .2 .7 .3-.8 .2-1.2 .2 .5 .3 .6 .2 .9 .2-.9 .3-1.9 .2 1.3 .3-.3 .2 1.8 .2-.9 .3 0 .2-1.8 .2 1.3 .3-.3 .2 .2 .3-.4 20.4 0 .3 1 .2-.9 .2-1.8 .3 2.1 .2-.5 .2 0 .3-.9 .2 .5 .3 .3 .2-.1 .2-.5 .3 .8 .2 .8 .2-2.7 .3 .8 .2 .6 .3-.3 .2-.6 .2 1.2 .3-.6 .2 .5 .3-1.2 .2 2.8 .2-.6 .3-2 .2 2 .2-.2 .3 .5 .2 .9 .3-1.5 .2-.5 .2 .4 .3 1.2 .2-.4 .2-1.5 .3 1.4 .2 .6 .3-1.3 .2 .9 .2 1.2 .3-.8 .2-1.3 .2 .8 .3-.1 .2-.6 .3 1 .2 .4 .2-1.1 .3 .3 .2-.5 .2 .4 .3-.1 .2 .4 .3-1.2 20.4 0 .3-1 .2 .3 .2 1.6 .3-.4 .2-1.1 .2 .8 .3-.2 .2-.8 .3 .4 .2 .2 .2 .5 .3-2.6 .2 2.5 .3-.8 .2-1.1 .2 .8 .3 .6 .2 .2 .2-1.8 .3 .3 .2 2 .3-.4 .2-1.5 .2-.7 .3 1.7 .2-1.1 .2 1.9 .3 .1 .2-.2 .3-1.3 .2 .3 .2-.3 .3 1.9 .2-2.5 .2 1.6 .3-2.1 .2 1.7 .3 1.7 .2-1.3 .2 .7 .3-1.7 .2 1.1 .2-.7 .3 1.6 .2 0 .3-.6 .2 .1 .2 .9 .3-1.1 .2-.4 .3 1.2 .2 .2 .2 0 .3-.7 .2 .5 .2-.4 .3-.5 .2 1.1 .5 0 .2-1.3 .3 1.1 .2-.1 .2 .2 .3-.9 .2 .3 .3 1.2 .2-1.6 .2 .3 .3-.6 .2 .4 .2 .4 .3 .6 .2-1.5 .3-.3 .2 1.5 .2-.7 .3-.4 .2 .3 .3-.1 26.1 0 .3 1 .2-2 .2 .9 .3-.4 .2 .1 .2 1 .3 0 .2-.4 .3-2.4 .2 1.7 .2-.7 .3 1.1 .2-2.7 .2 1.8 .3 1.2 .2-.8 .3-.6 .2-.5 .2 1 .3-.7 .2 .3 .3 .1 .2 .5 .2-.5 .3-.5 .2 .9 .2 .3 .3-2 .2 1.4 .3 .2 .2 1.6 .2-1.8 .3 2.1 .2-2 .2 .8 .3 .7 .2 .2 .3-.5 .2 .5 .2 1 .3-2 .2 2 .2-.9 .3 .2 .2-1.4 .3 2.3 .2-1.9 .2 .4 .3 2.2 .2-.8 .2-.5 .3 .2 .2-1 .3-.3 .2-.4 .2 1.3 .3-1 .2 .4 .3-.6 .2 .3 .2-.1 .3 .2 .2-.8 .2 .2 .3 .1 31.1 0 .3-.7 .2 .1 .3 2.1 .2-2.8 .2 1.2 .3-.4 .2 .5 .2 .2 .3-1.4 .2 .1 .3 .1 .2 .6 .2-1.6 .3 .8 .2-.2 .2 .4 .3-.2 .2-.7 .3 .1 .2 0 .2 .7 .3 0 .2 1 .3-.7 .2 .3 .2 .3 .3-.6 .2 0 .2 .6 .3 .8 .2-1 .3-.1 .2-.2 .2 1 .3 .3 .2 .5 .2-1.3 .3 .6 .2-.8 .3 1.5 .2-1.9 .2 1.2 .3 .1 .2-.2 .2-.4 .3 0 .2 2 .3-.8 .2-.7 .2-.1 .3 .3 .2 .9 .3-.9 .2 .4 .2-.1 .3-.8 .2 .9 .2-.4 .3-.7 .2 .3 .3 1.7 .2-.2 .2 .7 .3-2.3 .2 .9 .2 .2 .3-.4 .2 .8 .3-1.4 .2 1.1 .2-1.4 .3 .4 .2 .1 .2-.5 .3 .5 .2-.2 .3-1 .2-.4 .2 1.2 20.5 0 .2-.3 .3 .1 .2-.7 .2 .8 .3-.9 .2-.2 .3 .6 .2-.1 .2 .1 .3 .2 .2-.1 .2 .3 .3-1.3 .2 .2 .3 .4 .2-.1 .2 .1 .3-1 .2 .5 .3 .9 .2-.6 .2 1.8 .3-.7 .2 .3 .2-.7 .3 .8 .2 .2 .3 .1 .2 .6 .2 .1 .3-.2 .2-.8 .2 .1 .3-.3 .2-.6 .3 .6 .2 2 .2-.8 .3-1.5 .2 .9 .2-.2 .3 .1 .2 1.1 .3-1.3 .2 .3 .2 .5 .3-1.1 .2-1 .2 1.2 .3 .7 .2-.9 .3-.2 12.3 0 .3 .4 .2-1.1 .2-.1 .3-.9 .2 .9 .3 0 .2-1.6 .2 .2 .3-.9 .2-.2 .2 2.3 .3-1.6 .2 .1 .3 .1 .2-.5 .2-.7 .3 1.7 .2 .1 .3-.4 .2 .2 .2 .8 .3-.6 .2-.1 .2 1.5 .3-1.1 .2 1.6 .3-1.3 .2 1.6 .2 .1 .3 .4 .2-.7 .2-.1 .3 .1 .2 .1 .3 0 .2 .1 .2-.4 6.9 0 .3 .6 .2-1.2 .2-.6 .3 1.4 .2-1.9 .3 2.1 .2-2.2 .2 .1 .3-.4 .2 .6 .2 .4 .3 1.4 .2-2.4 .3 .9 .2 0 .2 1.1 .3 1.4 .2-1.8 .3 1.1 .2-.5 .2-.2 .3 1.5 .2-1.2 .2 1.1 .3-.1 .2-.8 .3 1.6 .2-.6 .2-.2 .3-.9 .2 .8 .2-.6 .3 1.2 .2 .2 .3-1.1 .2-1.4 .2 .6" fill="none" stroke="#1f77b4" stroke-width="2.90" stroke-linejoin="round" clip-path="url(#c3)" />
<path d="M581.5 1148.1l10 0" fill="none" stroke="#1f77b4" stroke-width="2.90" stroke-linejoin="round" clip-path="url(#c3)" />
<path d="M591.5 1148.1l1.1-4.3 .7-8.6 .6-197.8 .2 7.4 .5 24.6 .3 30.7 .5 30.7 .3 43 .4 36.8 .3 30.8 .2 9.8 .2-3.4" fill="none" stroke="#1f77b4" stroke-width="2.50" stroke-linejoin="round" clip-path="url(#c3)" stroke-dasharray="7.71 3.33"/>
<path d="M596.8 1147.8l.2 1.4 .3-.1 .2 .6 .3-.8 .2-1.9 .2 .2 .3 1.5 .2-.4 .2-.5 .3 1.9 .2-.6 .3-.2 .2 1.5 .2-1 .3-.1 .2-.3 .3-.1 .2 1.8 .2-2.3 .3 .8 .2-.8 .2-.1 .3 .6 .2-1.6 .3 2.9 .2-1.4 .2-.1 .3-1.1 .2 1.3 .2-.6 .3 .3 .2-1.6 .3 2.1 .2 .4 .2-.3 .3-.8 .2-.8 .2 3.2 .3-.9 .2-2.3 .3 1.5 .2 .3 .2-.2 .3 .3 .2 .2 .2-1 .3 .7 .2-2.1 .3 3.6 .2-2.6 .2 1.1 .3-2 .2 2.2 .3-1.2 .2-1 .2 .9 .3 1 .2-.4 .2-.3 .3-1.1 .2 1.2 .3-.4 .2 1.4 .2-1 .3-1 .2 1.3 .2 .2 .3-.1 .2-1.3 .3 .5 .2 .1 .2 1 .3 .9 .2-2.4 .2 1.3 .3-1.1 .2 .2 .3 1 .2 .4 .2-1.7 .3 2.6 .2 .2 .3-3.3 .2 2 .2-.9 .3-.7 .2-.9 .2 2.7 .3-.8 .2-.9 .3 .8 .2 .7 .2-1.5 .3 2.3 .2-2.3 .2 .8 .3 0 .2 .6 .3-.4 .2-1.1 .2 .7 .3-.8 .2 .5 .2 .8 .3-.1 .2-.2 .3 .4 .2-1.6 .2 2.2 .3-2.5 .2 2.1 .2 .2 .3-.8 .2 1.1 .3-2.5 .2 0 .2 .2 .3-.3 .2 .4 .3 2.7 .2-2.2 .2 1.2 .3-1.3 .2 .9 .2 .2 .3 .4 .2-1.3 .3-.4 .2 1.8 .2-1.2 .3-.1 .2 .5 .2 .1 .3-1.2 .2-.1 .3 .5 .4 0 .3 1.1 .2-.4 .2-.1 .3 .8 .2-1.5 .3-.9 .2-.1 .2 1.9 .3 .2 .2 .3 .3-1.3 .2 .7 .2-1.1 .3 1.9 .2-1 .2 .6 .3-.7 .2 .4 .3 1.4 .2-2.3 .2 .7 .3-.1 .2 .2 .2 .7 .3-.8 .2-.7 .3-.7 .2 1.2 .2 .7 .3-1.5 .2 1.2 .2 0 .3-.2 .2-.5 .3 1.5 .2-1.1 .2 .1 .3 .4 .2-1.8 .2 2.7 .3-1.3 .2-.2 .3 0 .2-1.1 .2 3.1 .3-1.5 .2 .4 .3 .5 .2-.7 .2-.9 .3 .6 .2-1.8 .2 2.9 .3-1.6 .2 0 .3 .2 .2-.5 .2 .8 .3-.6 .2 .6 .2 .2 .3 .4 .2-.5 .3-.9 .2 1 .2-1 .3 .7 .2-.1 .2-1.1 .3 2 .2-.9 .3-.8 .2 .3 .2 .1 .3-.8 .2 1.5 .3-.5 .2-1.3 .2 2.4 .3-1.4 .2-.1 .2 .3 .3-.1 .2 1 .3-.8 .2 .2 .2-.4 .3 .2 .2-1.4 .2 .7 .3-1 .2 1 .3 .4 .2-.2 .2-.5 .3 1.8 .2 .5 .2 0 .3-1.8 .2 .9 .3-.1 .2-.3 .2-.6 .3 1 .2 .4 .2-.3 .3-1 .2 .8 .3-.7 .2-.3 .2 1 .3 .5 .2 .3 .3-.5 .2 .4 .2-1.1 .3 1.3 .2-1.2 .2 .5 .3-1 .2 1.5 .3-1 .2-.5 .2 2 .3-1.7 .2 .8 .2 .3 .3 .5 .2-1.3 .3 .5 .2-.1 .2-1 .3 2.8 .2-2.9 .2-1.1 .3 1.9 .2 .3 .3-.3 .2-.8 .2-1.3 .3 2.7 .2 1.5 .3-2.4 .2 .3 .2 .1 .3 0 .2 1.7 .2-2.1 .3 .9 .2-.9 .3 .7 .2 .3 .2 .8 .3-2.7 .2 1.2 .2 .8 .3-2.2 .2 1.9 .3 .5 .2 4.8 .2-6.4 .3 .4 .2 3.8 .2 .7 .3-3.3 .2 .7 .3-2 .2 3.4 .2-1.6 .3-.8 .2 .2 .2 2.1 .3 .2 .2-1.2 .3-2.9 .2 3.3 .2-.4 .3-1.5 .2 .4 .3-1 .2 2.3 .2 0 .3-1.5 .2 1 .2-.2 .3 .9 .2-.2 .3 0 .2-.2 .2 .1 .3-.4 .2 .5 .2-2.7 .3-1.4 .2 4 .3-3.6 .2 2.1 .2 5.2 .3-4.8 .2 3.2 .2-3.8 .3 1.6 .2-2.1 .3 .2 .2 1.8 .2 .5 .3-2 .2 1.9 .3-.8 .2-1.2 .2 1.3 .3-1 .2-1.5 .2 1.9 .3-.4 .2 1.5 .3 2.4 .2-3.2 .2 .1 .3-.5 .2 .5 .2 .7 .3-.1 .2-.6 .3 .9 .2 .5 .2-1.6 .3 .3 .2-1.1 .2 2.1 .3-.8 .2 1.5 .3-1 .2-2.3 .2-1.6 .3 3.7 .2-1.1 .2 1.4 .3 .8 .2-1 .3-.4 .2 .1 .2 .6 .3-1.2 .2-1.1 .3 2.1 .2-1.3 .2-.3 .3-.5 .2 .4 .2-.4 .3 1.2 .2 1.9 .3-.3 .2-.8 .2 1 .3-.4 .2-.9 .2-.3 .3 .6 .2-1.2 .3-2.7 .2 4.9 .2-.7 .3 .1 .2-2.1 .2 .2 .3 2 .2-1.6 .3 1.7 .2-1.6 .2 .3 .3 0 .2 2.6 .3-2.8 .2 0 .2-1.7 .3 1.7 .2 .3 .2 .9 .3-1.8 .2-.4 .3-.2 .2-.3 .2 2 .3 2.4 .2-2.8 .2-2.6 .3 .4 .2 3.6 .3-5.2 .2 1.4 .2 1 .3 3.3 .2-3.1 .2-.4 .3-2.3 .2 4.8 .3-.3 .2-2.7 .2 0 .3 .5 .2 2.6 .2 .3 .3-1.7 .2-.4 .3-.9 .2 3.1 .2 1.6 .3-4.2 .2 1.4 .3 0 .2-1.2 .2 2.7 .3-1.6 .2 .4 .2-.9 .3 .5 .2-.8 .3 2.3 .2-1 .2 .5 .3-2.3 .2-.2 .2 1.4 .3-.7 .2 1 .3 .4 .2-1.9 .2 1.4 .3-1.3 .2-1 .2 3.2 .3-1.6 .2 .9 .3-.7 .2 4.7 .2-5.5 .3 2.8 .2-2.2 .3-.3 .2-.8 .2 1.6 .3-.6 .2 1.2 .2 .7 .3-.7 .2-.1 .3-.2 .2-.4 .2 0 .3-.7 .2-.7 .2 2.4 .3-.9 .2-.3 .3 .6 .2-.8 .2 2.3 .3-2.3 .2 .7 .2 1.4 .3-1.3 .2-1.7 .3 1.6 .2-2.1 .2-.1 .3 1.8 .2 .5 .2-.9 .3-.7 .2-.3 .3 1.3 .2 1.4 .2-2.9 .3 4 .2-1.9 .3-.4 .2-.5 .2 1.4 .3-1 .2-.9 .2 1 .3 1.6 .2-2.9 .3 1.1 .2 2.1 .2-.5 .3-4.7 .2 3.7 .2-1.3 .3 1.7 .2-.5 .3-.1 .2 .7 .2-1.9 .3-.5 .2 .4 .2 1.8 .3 .3 .2 2.1 .3-4.6 .2 2.1 .2 1.3 .3-.1 .2-2.9 .3 1.6 .2-1.5 .2 .8 .3-.4 .2 .5 .2 2.5 .3-3.4 .2 2.2 .3-2.3 .2 1.1 .2 .8 .3-.2 .2 .9 .2-2 .3-.3 .2 3.1 .3 .8 .2-5.1 .2 1.5 .3 2.8 .2-3.9 .2-.5 .3 1.3 .2-.1 .3 2 .2 3.9 .2-6.3 .3 2.9 .2-5.3 .3 4.6 .2-1.2 .2 1.1 .3 .6 .2-.8 .2-2.2 .3 1.7 .2 1.7 .3-2.5 .2-.1 .2 2.4 .3-1.7 .2 .2 .2 1.4 .3-1.6 .2 3.1 .3-3.5 .2-1.2 .2 3.3 .3-2.7 .2 .2 .2 .3 .3-1.2 .2 1.9 .3 1.1 .2-2.1 .2 .3 .3 3.7 .2-3.1 .2 1.1 .3-.5 .2-.6 .3-1.7 .2 1.4 .2 1.3 .3-.2 .2-.9 .3-.2 .2-3.9 .2 6 .3-.7 .2-2.7 .2 2.4 .3-1 .2 3.2 .3 0 .2-4.1 .2 2.3 .3-1.8 .2 1.2 .2-.7 .3-.9 .2 1.9 .3 0 .2-1.8 .2 1.1 .3 .2 .2-1.5 .2 2.6 .3-1.3 .2 1.7 .3 .1 .2-2.7 .2-.8 .3 1.4 .2 2.6 .3-2.1 .2-.8 .2 .6 .3-1.9 .2 3.2 .2-1.8 .3 1 .2-.4 .3 .3 .2-1.1 .2 2.4 .3-1.3 .2-.9 .2-.7 .3-.3 .2 1.2 .3-1.3 .2-.2 .2 1.9 .3-2.9 .2 .6 .2 2.6 .3-.3 .2 .5 .3-.5 .2-.6 .2 .1 .3 .9 .2-1.2 .2-.9 .3 .4 .2 .3 .3 1.3 .2 0 .2-2.6 .3 2.1 .2 1 .3-2 .2-.9 .2 3.7 .3-3.7 .2 3.1 .2-2.1 .3 .9 .2 1.2 .3 .7 .2 .1 .2 .5 .3-1.7 .2-2.7 .2 2.5 .3-4.3 .2 4.2 .3 .9 .2-1.3 .2-1.7 .3 2.4 .2-.7 .2-1 .3 1.5 .2-1 .3 .7 .4 0 .3 .2 .2-1.8 .3 4.2 .2-.5 .2-1.5 .3 2 .2-1.1 .2 .5 .3-2.1 .2 1.8 .3-1.6 .2 .4 .2-1.8 .3 2.9 .2 .1 .2-.1 .3-.5 .2-.5 .3-1.3 .2 1.3 .2-.6 .3 0 .2-.6 .2 1.7 .3-.5 .2-.7 .3-2.4 .2 3.6 .2 .1 .3-2.6 .2 1.2 .2 .1 .3-3.2 .2 4.5 .3-2.6 .2-1.4 .2 3.3 .3-3.8 .2 2.1 .3 .6 .2-1.6 .2 1.7 .3 3.9 .2-3.9 .2 .6 .3 2.1 .2-3.5 .3 2 .2 .6 .2-5 .3 1.7 .2-.7 .2-.4 .3 4.7 .2-4.4 .3 4.1 .2 0 .2-2 .3 1 .2-2.9 .2 2.9 .3-1.4 .2 .9 .3 1.4 .2-.9 .2 .3 .3-1.1 .2 .6 .3-1.8 .2 2 .2-1 .3-2.6 .2 2.2 .2-3.9 .3 4.6 .2-.4 .3-.6 .2-1 .2 .7 .3 1.5 .2 .2 .2 .3 .3-.5 .2 2 .3-.4 .2-.1 .2-3.4 .3 1.5 .2-1 .2 1.7 .3-.9 .2 2.1 .3 2.1 .2-3.1 .2 .4 .3 .2 .2 1.4 .2-3.6 .3-.3 .2 .4 .3-1 .2 3.5 .2-2.6 .3 1.2 .2 .8 .3-.9 .2 1.7 .2-1.1 .3-.6 .2 2.5 .2-4.7 .3 .8 .2 .3 .3-1.4 .2 1.5 .2 .1 .3-1.5 .2 3.3 .2 1.7 .3-4.5 .2 2.4 .3-2.5 .2 .7 .2 2.7 .3-1.3 .2 2.1 .2-6.1 .3-4.3 .2 11.6 .3 8 .2-6.7 .2-4.5 .3-.3 .2 .2 .3 .3 .2-.7 .2 1.8 .3-.4 .2-1.5 .2-.9 .3 .6 .2 1.1 .3-2 .2 1.1 .2-2 .3 1.8 .2 .7 .2 1.7 .3-3.5 .2 .4 .3-.6 .2 2.8 .2 .7 .3-2.9 .2 1.4 .2 2.4 .3-3.1 .2 1.9 .3-2.6 .2 .3 .2 3 .3-2.2 .2 .3 .2-.6 .3 1.7 .2 .2 .3-2.1 .2 2.6 .2-1.7 .3-.5 .2-.3 .3 .2 .2-3 .2 1.6 .3 2.1 .2 0 .2 .9 .3-3.8 15.7 0 .2-.4 .3-.6 .2 .4 .2 .3 .3-.1 .2 0 .2 .7 .3-1.8 .2-.6 .3 1.9 .2 .2 .2-2 .3 1.6 .2-.1 .2 0 .3 .4 .2 .3 .3-.9 .2 1.9 .2-2.2 .3-.3 .2 1.4 .3 .2 .2-2 .2 1.8 .3 .3 .2-1.3 .2 1.8 .3 .8 .2-1.8 .3 .5 .2 .2 .2 0 .3-.1 .2-.3 .2 1.7 .3-2.6 .2 .9 .3 .1 .2-.1 .2-1 .3 .5 .2-1.7 .2 3.8 .3-2.6 .2-.1 .3 3 .2-2.6 .2 .5 .3 .1 .2-.1 .2-.4 .3 .7 .2 .3 .3-1.5 .2 .9 .2-.8 .3-1.3 .2 3.2 .3-.4 .2-.1 .2-.5 .3-1.6 .2 1.1 .2-.6 .3-.7 .2 3.4 .3-1.7 2.3 0 .3-.3 .2 .7 .2-.8 .3 .2 .2-.8 .3 .3 .2 1.1 .2-1.5 .3 1.6 .2 .3 .3-1.6 .2 1.9 .2-.5 .3 .7 .2 0 .2-1.6 .3 1.1 .2-2.2 .3 .1 .2 1 .2 .9 .3-.6 .2 .2 .2-1.2 .3 2.6 .2-1.5 .3-.2 .2-.3 .2-.2 .3 .9 .2-.8 .2 1.5 .3-2 .2 .7 .3 .4 .2-1.1 .2 1.6 .3 .9 .2-1.9 .2 .3 .3 .4 .2 .3 .3-1 .2 .4 1.9 0 .2 .2 .3-.1 .2 0 .3-.5 .2-.3 .2 .4 .3 .9 .2-.3 .2 1 .3-.4 .2-1 .3 .1 .2 .5 .2-.7 .3 .8 .2-.6 .2-.1 .3-.7 .2-.1 .3 1.8 .2-.6 .2 1.2 .3-3.2 .2 3.5 .3-1.7 .2 1.2 .2-1.3 .3-.2 .2-.3 .2 1 .3-1.1 .2 1.2 .3 .2 .2-.1 .2 0 .3-2.1 .2 .6 .2 .3 .3 2.2 .2-1.6 .3-.6 .2 2 .2-2.3 .3 1.7 .2-.9 2.1 0 .3 1 .2-.6 .3-.9 .2-.5 .2 1.3 .3 .3 .2-.7 .3-.1 .2-.4 .2-.1 .3 .9 .2 1.9 .2-1.7 .3 1.7 .2-1.9 .3-2.3 .2 1 .2 .8 .3-1.6 .2 2.8 .2-1.2 .3-.2 .2 1.1 .3-.1 .2-1.1 .2 .4 .3 .7 .2-.4 .2-.7 .3 .8 .2 .4 .3-.9 .2 .4 .2-.2 .3 1.1 .2-1 .3 .3 .2 .9 .2-2.5 .3 1.2 .2-.1 .2-.5 .3-.5 .2 .3 .3 1.5 .2-.8 .2 .7 .3-.3 .2-.5 .2-.7 .3 1.9 .2-1.6 .3 .4 .2 1.2 .2-3 .3 2.2 .2-1.1 .2 1 .3-.3 .2-.5 .3 .7 .2 .1 .2-1.1 .3 .1 .2-1.1 .2 1.8 .3 1.8 .2-.3 .3-1.7 .2 1.3 .2 .4 .3-2.2 .2 2.4 .3 0 .2-1.6 .2-.9 .3 .4 .2 1.7 .2-1.7 .3 1.6 .2-1.2 .3 2.4 .2-1 .2-1.4 .3 .4 .2-.5 .2 2.5 .3-3.3 .2 .4 .3-1 .2 2.3 .2-1.3 .3 .3 .2 .7 .2-.7 .3 .4 .2-.5 .3 .7 .2-.2 .2 .7 .3-.3 .2-.5 .3 .2 4.5 0 .2-.5 .2-.4 .3 1.6 .2-.5 .3 1.2 .2-1.7 .2-.4 .3 .4 .2-.1 .2 1 .3 .1 .2-1.9 .3 .6 .2 .9 .2-.9 .3 1.2 .2 .2 .3-1.1 .2 .3 .2-.3 .3-1.8 .2 1.7 .2 .2 .3-1.6 .2 2.4 .3-.5 .2 .3 .2-.4 .3-2 .2 3.6 .2-2.7 .3 2.2 .2 .2 .3-1.2 .2-.1 .2 .2 .3 .7 .2-1.5 .2 1.7 .3-1.1 6.6 0 .3-.6 .2-.1 .3-.3 .2 1 .2-.6 .3-.3 .2-.6 .2 1.3 .3 .5 .2 .2 .3-.5 .2 1.4 .2-.5 .3-1.6 .2-1.1 .3 .5 .2 1.8 .2-1.6 .3 .7 .2 .8 .2-1.6 .3 .3 .2 0 .3 .3 .2-.3 .2 1.1 .3 0 .2 .2 .2-1.3 .3 .4 .2-.4 .3 1.1 .2-.1 .2-.2 .3 0 .2 .2 .2-1.4 .3 1 .2 2.4 .3-1.7 .2-.7 .2 .1 .3 0 .2 .2 7.1 0 .3-.5 .2-.9 .3 1.1 .2 .9 .2-.9 .3 .5 .2-1.2 .3 0 .2 2.3 .2-1.2 .3-2 .2 .7 .2 1.3 .3 2 .2-2.8 .3 .3 .2 .4 .2-.8 .3 .5 .2-.3 .2 .7 .3 0 .2-.5 .3 .6 .2 .8 .2 0 .3-1.3 .2 1 .2 0 .3-.2 .2-1.2 .3 2.5 .2 .3 .2-2.3 .3 .3 .2-1.4 .3 1.5 .2 1 .2-1.5 .7 0 .3-1.6 .2 2.2 .3-.7 .2 .4 .2 1.5 .3-.5 .2-.2 .2-.5 .3 .7 .2-2.2 .3 1.3 .2 .7 .2-.2 .3-.6 .2 .5 .2-.5 3.4 0 .2-1 .3 1.9 .2-1.2 .2-1.1 .3 1.6 .2 .7 .2-.6 .3-.5 .2 .5 .3-.7 .2-.6 .2 1.8 .3 .6 .2-.6 .2 .6 .3-.7 .2-.4 .3 1.2 .2-1.5 .2 .1 .3 1.3 .2-1 .2 1.1 .3-1.9 .2 .8 .3-.7 .2-.8 .2 .6 .3 .6 .2-.2 .3 .6 .2-.3 .2-1.6 .3 2 .2-.4 .2-.3 .3-.1 .2-.3 .3 1.6 .2-.5 .2-.4 .3-.3 .2-.3 .2 .2 .3 .3 .2 .8 .3 .2 .2 .1 .2-1.8 .3-.6 .2 2.1 .2 .4 .3-.8 .2-.5 .3 .6 .2-.2 .2-.8 .3 .3 .2 .1 8.8 0 .3 1.6 .2 0 .2-2.9 .3 2.2 .2-3 .2 1.5 .3 2.7 .2-2.7 .3 .9 .2-.2 .2-.7 .3 1.3 .2-.3 .2-.4 .3 1.6 .2-1.2 .3-.5 .2 .2 .2-.1 .3 .1 .2 1.7 .2-.9 .3 .9 .2-1.9 .3-.6 .2 .7 .2 1.9 .3-1.4 .2-1 .3 .2 .2-.2 .2-.1 .3 1.6 .2-1.1 .2 0 .3 1.1 .2-.4 .3-.4 .2-1.7 .2 .7 .3 .9 .2 0 .2 1.4 .3-1.4 .2-.9 .3 1.2 .2-.8 .2-.7 .3 1.5 .2 1 .2-1.2 .3 0 .2-2.3 .3 2.3 .2 0 .2-1 .3 1.5 .2-.3 .2-.2 .3 .1 .2-.5 .3 .2 .2 2.1 .2-3 .3 1.4 .2-1 .3 .5 .2-.4 .2-.6 .3 1.3 .2 .2 .2-.7 .3 .4 .2-.2 10.2 0 .3-1 .2 .5 .3-.1 .4 0 .3 1.5 .2 .1 .2-1.1 .3-.8 .2 1 .3 .6 .2-.2 .2-.1 .3 .2 .2 .4 .3-2.4 .2 1.3 .2 1.5 .3-1.5 .2-.3 .2-.3 .3 1.6 .2 .7 .3-3.5 .2 3 .2 .1 .3-1.3 .2-.8 .2 .1 .3 1.5 .2-.7 .3 .7 .2-.7 .2 .6 .3-2.7 .2 1.1 .2 1.2 .3-.1 .2-1.3 .3 1.8 .2-.3 .2 .1 .3-.4 .2-1.4 .3 2 .2 .5 .2-.1 .3-.4 .2 .6 .2-1.2 10 0 .3-1.1 .2 1.1 .2 .3 .3-.2 .2-.2 .3-.4 .2 1.6 .2-.2 .3-1.9 .2 1.3 .2-1.3 .3 .4 .2 .3 .3-.7 .2 1.1 .2-.7 .3-.1 .2-.2 .3 1.7 .2-.8 .2-1.3 .3 .7 .2-.6 .2-.2 .3 1.9 .2-.5 .3-1.3 .2 .8 .2 1.2 .3-1.1 .2 0 .2 .8 .3-.1 .2-1.1 .3 .2 .2 1.5 .2-.1 .3-.6 .2-.2 .2 0 .3 .7 .2-1 .3 2 .2-1 .2-.7 .3 0 .2 .1 .2-.4 .3 .1 .2 .5 .3-1.7 .2 1.5 .2-2.2 .3 3.5 .2-2.2 .3 1.9 .2 .4 .2-.7 .3 1.3 .2-1.6 .2-.4 .3 .8 .2-.5 .3-.8 .2 1 .2-1.4 .3 1.4 .2-2.2 .2 1.6 .3 1.2 .2-1.8 .3 .4 .2 1.5 .2-3 .3 2.1 .2-.9 .2-1.6 .3 2.7 .2 0 .3-1 .2 2.5 .2-3.1 .3 1.8 .2-2 .3 .1 .2 2.1 .2 .1 .3-2.2 .2 1.1 13.6 0 .2-.9 .2 1.8 .3-1.6 .2 .7 .3-.7 .2-.9 .2 .5 .3 1 .2 1.1 .2-.4 .3-.3 .2 .2 .3-.8 .2-.2 .2-1.1 .3 .6 .2 2.1 .2-3.2 .3 2.1 .2 .4 .3 1.2 .2-1.7 .2-1.9 .3 2 .2-.5 .2 .1 .3-.5 .2 1.5 .3 .1 .2-1.3 .2-.3 .3 1.5 .2-1 .2-.5 .3 .6 .2 .7 .3-2.3 .2 .6 .2 .7 .3 .7 .2 1 .3-.7 .2-.5 .2 .9 .3-1.7 .2 2 .2-2.6 .3 1.8 .2 .4 .3-.5 .2-.7 .2-.4 .3 1.8 .2-1.5 .2 1 .3 .8 .2-.2 .3-2.1 .2 2.3 .2-.6 .3-.6 .2-1.3 .2 3.2 .3-2 .2 0 .3 1.6 .2-1.1 .2-.1 .3-.8 .2 .8 .3 .2 .2-.7 .2-.7 .3 2.1 .2-1.2 .2 .2 .3-.1 .2-.9 .3 1.3 .2 .8 .2-1.1 .3 1 .2-2.6 .2 .2 .3 2.2 .2-1 .3 1.5 .2-1.3 .2 .2 .3-2.1 .2 1.3 .2 .2 .3-.8 .2 1.4 .3-1 .2 1.2 .2-.1 .3-.5 16.9 0 .2-1 .2 .7 .3 .8 .2-.9 .3 .8 .2-1.1 .2 1.1 .3-.1 .2-1.1 .2 2.4 .3-2 .2 .9 .3-1.1 .2 .1 .2 1.4 .3-1.3 .2-1 .2 1.8 .3-1.1 .2-1.4 .3 3.8 .2-1.5 .2-1.8 .3 1.8 .2-.1 .2 .8 .3 1.2 .2-2.7 .3 .1 .2-.6 .2 .6 .3 1.4 .2 .8 .3-1.9 .2-1.1 .2 1 .3-.2 .2-1 .2 2 .3-.3 .2-1 .3 1.2 .2 .3 .2-.3 .3-1 .2 1.3 .2-.4 .3-.5 .2 1 .3-.3 .2-.6 .2-.1 .3 .9 .2-.2 .2-1.3 .3 1.2 .2-.3 .3 .1 .2 .4 .2-1.2 .3 .9 .2 1.3 .2-3 .3 1.7 .2-.4 .3-.1 .2 .6 .2 .6 .3-.1 .2-.3 .3-1.2 .2 .9 .2-.7 .3 2.5 .2-1.2 .2-.9 .3 1 .2-1.6 .3 .8 .2 .1 .2 .6 .3-.7 .2 1.2 .2-2.2 .3 .6 .2 .5 .3 .7 .2-1.3 .2 1.1 .3-1.6 .2 .3 .2 1.2 .3-.5 .2-1.7 .3 1 .2-.3 .2 1.3 .3-1.1 .2 1.8 .3-1.7 .2-.3 .2 1.1 .3-.6 .2 .7 .2-.1 .3-.5 .2-.1 .3 .2 .2-.3 .2 1.3 .3 .4 .2-1.6 .2 .3 17.2 0 .2-.4 .2 .6 .3-1.3 .2 2.4 .3-1.2 .2-.5 .2 .8 .3-.4 .2-.8 .2 .1 .3 .8 .2 1 .3 .2 .2-.5 .2-.3 .3 .2 .2-2.8 .3 2.3 .2-.1 .2-.6 .3 1.6 .2-.6 .2-1 .3 1.1 .2-1.5 .3 1.5 .2-.8 .2-1 .3 .3 .2 .8 .2 0 .3-.5 .2 1 .3 .6 .2-1.9 .2-.1 .3 .8 .2 .4 .2 .8 .3-.5 .2-.2 .3-.5 .2-.5 .2 .7 .3-.3 .2 1.4 .3-1.2 .2-.9 .2 1.6 .3 1 .2-2.2 .2-.7 .3 .7 .2 1 .3-.9 .2 2.3 .2-1.9" fill="none" stroke="#1f77b4" stroke-width="2.90" stroke-linejoin="round" clip-path="url(#c3)" />
<path d="M592.0 1172.5V927.5" stroke="#ff0000" stroke-width="2.08" stroke-dasharray="7.71 3.33" fill="none"/>
<rect x="64.5" y="927.5" width="1138.0" height="245.0" fill="none" stroke="#000" stroke-width="1.11" stroke-linejoin="miter"/>
<path d="M112.5 1172.5v5.2M257.5 1172.5v5.2M401.5 1172.5v5.2M545.5 1172.5v5.2M689.5 1172.5v5.2M833.5 1172.5v5.2M977.5 1172.5v5.2M1122.5 1172.5v5.2M64.5 1147.5h-5.2M64.5 1116.5h-5.2M64.5 1086.5h-5.2M64.5 1055.5h-5.2M64.5 1024.5h-5.2M64.5 993.5h-5.2M64.5 963.5h-5.2M64.5 932.5h-5.2" stroke="#000" stroke-width="1.11" fill="none"/>
<text x="112.5" y="1192.8" text-anchor="middle" textLength="8.8" lengthAdjust="spacingAndGlyphs">0</text>
<text x="257.5" y="1192.8" text-anchor="middle" textLength="26.5" lengthAdjust="spacingAndGlyphs">200</text>
<text x="401.5" y="1192.8" text-anchor="middle" textLength="26.5" lengthAdjust="spacingAndGlyphs">400</text>
<text x="545.5" y="1192.8" text-anchor="middle" textLength="26.5" lengthAdjust="spacingAndGlyphs">600</text>
<text x="689.5" y="1192.8" text-anchor="middle" textLength="26.5" lengthAdjust="spacingAndGlyphs">800</text>
<text x="833.5" y="1192.8" text-anchor="middle" textLength="35.3" lengthAdjust="spacingAndGlyphs">1000</text>
<text x="977.5" y="1192.8" text-anchor="middle" textLength="35.3" lengthAdjust="spacingAndGlyphs">1200</text>
<text x="1122.5" y="1192.8" text-anchor="middle" textLength="35.3" lengthAdjust="spacingAndGlyphs">1400</text>
<text x="54.8" y="1153.2" text-anchor="end" textLength="30.9" lengthAdjust="spacingAndGlyphs">0.00</text>
<text x="54.8" y="1122.2" text-anchor="end" textLength="30.9" lengthAdjust="spacingAndGlyphs">0.25</text>
<text x="54.8" y="1092.2" text-anchor="end" textLength="30.9" lengthAdjust="spacingAndGlyphs">0.50</text>
<text x="54.8" y="1061.2" text-anchor="end" textLength="30.9" lengthAdjust="spacingAndGlyphs">0.75</text>
<text x="54.8" y="1030.2" text-anchor="end" textLength="30.9" lengthAdjust="spacingAndGlyphs">1.00</text>
<text x="54.8" y="999.2" text-anchor="end" textLength="30.9" lengthAdjust="spacingAndGlyphs">1.25</text>
<text x="54.8" y="969.2" text-anchor="end" textLength="30.9" lengthAdjust="spacingAndGlyphs">1.50</text>
<text x="54.8" y="938.2" text-anchor="end" textLength="30.9" lengthAdjust="spacingAndGlyphs">1.75</text>
<text x="633.5" y="1212.8" text-anchor="middle" textLength="49.0" lengthAdjust="spacingAndGlyphs">minute</text>
<rect x="995.9" y="934.4" width="199.6" height="25.2" rx="2.8" ry="2.8" fill="#ffffff" fill-opacity="0.8" stroke="#cccccc" stroke-opacity="0.8" stroke-width="1.11"/>
<path d="M1001.5 945.6h27.78" stroke="#1f77b4" stroke-width="2.08" stroke-dasharray="7.71 3.33" fill="none"/>
<path d="M1014.1 946.0l1.3 1.6l1.3 -1.6z" fill="#1f77b4"/>
<text x="1045.0" y="951.3" textLength="144.0" lengthAdjust="spacingAndGlyphs">Ws_E14_ws_rate_ma</text>
<path d="M112.5 1224.5V1469.5M257.5 1224.5V1469.5M401.5 1224.5V1469.5M545.5 1224.5V1469.5M689.5 1224.5V1469.5M833.5 1224.5V1469.5M977.5 1224.5V1469.5M1122.5 1224.5V1469.5M64.5 1440.5H1202.5M64.5 1408.5H1202.5M64.5 1376.5H1202.5M64.5 1343.5H1202.5M64.5 1311.5H1202.5M64.5 1279.5H1202.5M64.5 1247.5H1202.5" stroke="#b0b0b0" stroke-width="1.11" fill="none"/>
<path d="M116.5 1307.2l.1 12.4 .2-10.6 .1 13.4 .2-13.9 .1 14.5 .2-15.8 .1 15.3 .2-21.8 .1 12.9 .1-12.5 .2 9.2 .1-11 .2 14.7 .1-18.8 .2 12.4 .1-7.9 .2 15.9 .1-18.1 .1 23.8 .2-13.8 .1 15.1 .2-11.5 .1 15.4 .2-12.9 .1 15.1 .2-12.1 .1 11.7 .1-16.1 .2 17 .1-21.6 .2 15 .1-16.2 .2 15.8 .1-24.1 .2 19.9 .1-19 .1 15.9 .2-16.2 .1 19.9 .2-13.1 .1 9.9 .2-10 .1 16.8 .1-14.5 .2 15.7 .1-11.2 .2 10 .1-14.7 .2 17.6 .1-18.1 .2 19.1 .1-18.8 .1 20.7 .2-15.9 .1 15.9 .2-16 .1 14.6 .2-12 .1 15.6 .2-17.5 .1 14.9 .1-19.8 .2 15.8 .1-17.5 .2 13.6 .1-11.4 .2 13.7 .1-13.4 .2 17.4 .1-17.1 .1 18.4 .2-19.1 .1 8.7 8.8 0 .2-11.3 .1 17.9 .2-15.3 .1 18.7 .1-14.7 .2 12.8 .1-11.4 .2 8.7 .1-9.4 .2 6.4 .1-13.8 .2 8.3 .1-14.8 .1 12.4 .2-14.5 .1 15.8 .2-16.1 .1 13.9 .2-12.1 .1 12.1 .2-13.5 .1 24.7 .1-12.9 .2 17 .1-11.8 .2 10.9 .1-8.8 .2 13.1 .1-15.3 .1 13.9 .2-16.1 .1 8.2 .2-13.6 .1 8.4 .2-15.5 .1 11.8 .2-12.7 .1 14.5 .1-13.1 .2 19.5 .1-18.4 .2 15.1 .1-9.3 .2 20.3 .1-18.8 .2 16.2 .1-13.5 .1 11 .2-12.5 .1 12.9 .2-13.9 .1 14 .2-12.9 .1 14.8 .2-17.1 .1 15.3 .1-13.4 .2 17 .1-14.7 .2 19.7 .1-16 .2 8.3 .1-15.9 .1 10.2 .2-8.2 .1 7 .2-9.5 .1 12.6 .2-15.3 .1 15.1 .2-14 .1 15 .1-10.7 .2 23.4 .1-18.4 .2 13.5 .1-14.4 .2 20.1 .1-14.4 .2 7.9 .1-17 .1 15.5 .2-12.7 .1 13.1 .2-18.1 .1 15 .2-13.3 .1 15 .2-13.6 .1 14.7 .1-9 7.1 0 .2-2.3 5.3 0 .1-12.7 .2 21 .1-11.1 .2 14.9 .1-15.2 .2 15.3 .1-20.8 .1 9.1 .2-19.7 .1 13.9 .2-11.3 .1 11.8 .2-9.4 .1 18.7 .1-20.5 .2 17.7 .1-9.3 .2 10.9 .1-17.4 .2 15.7 .1-11.6 .2 9 .1-2.9 .1 14.8 .2-8.7 .1 11.6 .2-10 .1 10 .2-9 .1 7.9 .2-12.5 .1 1.5 .1-14.7 .2 15.9 .1-18.2 .2 17.9 .1-17.5 .2 15.2 .1-8.2 .2 13.8 .1-12.2 .1 20.1 .2-9 .1 11.8 .2-17.5 .1 15.9 .2-19 .1 4 16.3 0 .1-5.6 .2 10 .1-14.4 .2 21.3 .1-16.5 .2 12.9 .1-20.6 .2 15.8 .1-20.1 .1 13.6 .2-13 .1 10.9 .2-11.7 .1 19.2 .2-15.9 .1 19.1 .1-9.3 .2 16.5 .1-13.8 .2 13.5 .1-21.2 .2 18.5 .1-22.9 .2 18.3 .1-14.4 .1 13.8 .2-16.5 .1 18.2 .2-17.2 .1 20 .2-15 .1 11.1 .2-17 .1 16.6 .1-18.8 .2 16.5 .1-12.8 .2 11.2 .1-10 .2 11.1 .1-9.3 .2 16.7 .1-15.3 .1 17.7 .2-16.5 .1 10 .2-14.9 .1 19.7 .2-18.1 .1 18.4 .1-10 .2 13.7 .1-16.5 .2 18.9 .1-17.9 .2 16 .1-22.7 .2 16.1 .1-18.7 .1 9.2 .2-9.5 .1 11.7 .2-14.6 .1 19.6 .2-15.4 .1 21.7 .2-14.5 .1 21.2 .1-15.7 .2 13 .1-17.3 .2 14.3 .1-11.6 .2 9.9 .1-9.8 .2 16.8 .1-18.3 .1 17.7 .2-20.6 .1 11.2 .2-17.2 .1 13.3 .2-14.3 .1 12 .2-10.7 .1 10.9 .1-9.6 .2 14.2 .1-8.2 .2 17.6 .1-14.4 .2 17.9 .1-15.9 .1 16.8 .2-18.9 .1 18.2 .2-19.4 14.8 0 .2-11.3 .1 20.9 .2-16.6 .1 5.2 .2-11.4 .1 10.5 .1-17.6 .2 17.3 .1-17 .2 16.6 .1-13 .2 21.6 .1-13.9 .1 19.7 .2-11.4 .1 9.8 .2-13.1 .1 9.8 .2-16.3 .1 15.1 .2-13.1 .1 14.5 .1-12.5 .2 6 .1-9.4 .2 14.2 .1-14.9 .2 11.7 .1-14.6 .2 12.7 .1-10.6 .1 24.1 .2-16.3 .1 14.7 .2-11.3 .1 13.1 .2-12.9 .1 11.2 .2-17.6 .1 12.4 .1-20.3 .2 17.1 .1-16.3 .2 24.3 .1-15 .2 18.9 .1-11.4 .2 12.5 .1-13.6 .1 11.2 .2-16.2 .1 9 .2-15.4 .1 12.5 .2-13 .1 13.2 .1-12 .2 19.2 .1-12.4 .2 19 .1-14.9 .2 14.7 .1-16.2 .2 16.6 .1-17.8 11.4 0 .1-10.1 .2 8.2 .1-14.6 .2 17.2 .1-20.3 .2 22.7 .1-22.8 .1 19.3 .2-15.5 .1 12.2 .2-2.1 .1 15.9 .2-16.5 .1 19.9 .2-14.4 .1 15.9 .1-17 .2 11.1 .1-16.7 .2 8.6 .1-18.1 .2 12.7 .1-13.3 .2 11.5 .1-12.5 .1 20.3 .2-12.4 .1 23.2 .2-15.2 .1 14.5 .2-13.7 .1 10.6 .1-15.4 .2 8.9 .1-20.1 .2 17.1 .1-14 .2 15.9 .1-8.9 .2 21.6 .1-10.5 .1 14.2 .2-14.9 .1 12.6 .2-14.6 .1 7.8 .2-19.3 .1 12.2 .2-15.1 .1 13.2 .1-10 .2 19 .1-12 .2 18.5 .1-17.8 .2 14.3 .1-11.8 .2 12.9 .1-18.2 .1 12.8 .2-15.5 .1 14.8 .2-16.1 .1 20.8 .2-12.1 .1 13.8 .2-18.5 .1 15 .1-15.7 .2 11.5 .1-14.2 .2 18.4 .1-9.2 20.6 0 .2-8.2 .1 17.8 .2-13.9 .1 14.4 .2-17.2 .1 11 .1-12.8 .2 10.8 .1-15.3 .2 13.2 .1-15.7 .2 15 .1-16 .2 15 .1-18.2 .1 17.7 .2-16.6 .1 18.5 .2-14.7 .1 21.7 .2-10 .1 13.3 .1-9 .2 14.3 .1-16.1 .2 12.8 .1-18.9 .2 4.5 .1-17.6 .2 20.5 .1-15.5 .1 14.8 .2-15.6 .1 15 .2-5 .1 18 .2-14.9 .1 16.5 .2-12.1 .1 12.1 .1-11.5 .2 13.3 .1-19 .2 8.6 .1-20.4 .2 14.8 .1-16.6 .2 16.3 .1-12.1 .1 18.1 .2-12.7 .1 15.9 .2-11.1 .1 18.1 .2-20.8 .1 17.8 .1-15.5 .2 15.6 .1-16.4 .2 16.4 .1-16.3 .2 16 .1-16 .2 7.9 .1-16.9 .1 13.7 .2-10.9 .1 14.4 .2-13.8 .1 17.3 .2-6.9 .1 15.5 .2-13.4 .1 18.3 .1-15 .2 11 .1-21 .2 8.9 .1-17.5 .2 17.2 .1-14.5 .2 13 .1-11.8 .1 24 .2-18.2 .1 17.8 .2-16.4 .1 16 .2-14.8 20.4 0 .2-20.6 .1 13.7 .2-12 .1 13.5 .2-14 .1 15.7 .1-13.9 .2 20 .1-14.7 .2 14.2 .1-7.1 .2 8.7 .1-12.5 .2 7.8 .1-15.1 .1 13.8 .2-14.6 .1 21.6 .2-16.2 .1 23.1 .2-20.6 .1 14.8 .2-14.3 .1 17.1 .1-21 .2 20.9 .1-18.1 .2 8.4 .1-9.9 .2 12.1 .1-13.4 .1 16.4 .2-13.4 .1 20.9 .2-17.9 .1 12.7 .2-17 .1 14.9 .2-16.9 .1 11.3 .1-13.6 .2 11.2 .1-11.9 .2 11.5 .1-11.7 .2 14.9 .1-7.7 .2 20.2 .1-13.6 .1 16.6 .2-17.4 .1 19.2 .2-14.8 .1 9.5 .2-11.2 .1 11.8 .2-10.3 .1 9.1 .1-12.6 .2 8.2 .1-13.6 .2 12.4 .1-11.7 .2 10.2 .1-14.7 .2 12.4 .1-14.6 .1 11.7 .2-16 .1 14.2 .2-10.1 .1 12 .2-9.7 .1 25.5 .1-12.2 .2 14.6 .1-16.9 .2 16.2 .1-13.9 .2 18 .1-19.4 .2 15.9 .1-14.9 .1 13 .2-16.3 .1 16.1 .2-18.1 .1 13.1 .2-19.3 .1 15.2 .2-20.6 .1 16.8 .1-12.1 .2 14.8 .1-19.1 .2 18.8 .1-17.4 .2 16 .1-12.9 .2 17.5 .1-3.5 .1 11.8 .2-11.5 .1 16.6 .2-18.6 .1 18.2 .2-14.5 .1 11.4 .1-11.3 .2 9.6 .1-14.6 .2 11.2 .1-15.2 .2 13.3 .1-16.5 .2 11.8 .1-14.4 .1 15.2 .2-19.3 .1 17.7 .2-14.4 .1 12.9 .2-15.4 .1 14.5 .2-13.6 .1 21.2 .1-5.6 .2 16.1 .1-16.1 .2 14.8 .1-18.5 26.4 0 .1-7.9 .2 19.6 .1-14.3 .2 11.2 .1-20.9 .2 14 .1-15.9 .2 15.1 .1-18.4 .1 15.5 .2-7.6 .1 16.4 .2-17 .1 16.6 .2-24.1 .1 14.1 .2-9.1 .1 14 .1-12.3 .2 15.2 .1-10.9 .2 14.9 .1-13.8 .2 8.9 .1-13.2 .2 10.9 .1-13.1 .1 12.3 .2-13.1 .1 12.4 .2-8.1 .1 15.6 .2-11.4 .1 14.5 .2-13.3 .1 6.6 .1-17.2 .2 19.1 .1-19.1 .2 20.6 .1-17.9 .2 10.6 .1-12 .1 15.5 .2-12.3 .1 13.2 .2-5.1 .1 15.8 .2-14.2 .1 11.8 .2-15.4 .1 16.4 .1-18.6 .2 4.5 .1-16.3 .2 17.5 .1-15.7 .2 15.4 .1-9.4 .2 23.1 .1-17.3 .1 15.8 .2-14.6 .1 11.6 .2-18.7 .1 12.9 .2-11.8 .1 21.5 .2-19.3 .1 12.6 .1-5.4 .2 8.3 .1-22.8 .2 14.6 .1-11.6 .2 8.7 .1-8.9 .1 19.2 .2-5.9 .1 16.5 .2-14.9 .1 13.7 .2-18.1 .1 12.3 .2-19.6 .1 10 .1-13 .2 14.4 .1-13 .2 12.4 .1-5.8 .2 23.8 .1-21.5 .2 17.5 .1-14 .1 14.1 .2-17 .1 14.1 .2-14.5 .1 15.2 .2-9.2 .1 15.1 .2-16.8 .1 2.1 .1-12.8 .2 6.4 31 0 .1-12.4 .2 20.4 .1-13.9 .2 19 .1-15.3 .1 11.8 .2-17.5 .1 10.8 .2-17.7 .1 14.3 .2-16.4 .1 18.1 .2-8.2 .1 16.6 .1-16.4 .2 18.1 .1-17.5 .2 11.3 .1-19.4 .2 7.2 .1-13.9 .2 16.1 .1-15.7 .1 20.2 .2-12.1 .1 16.6 .2-10.3 .1 16.6 .2-11.9 .1 10.1 .2-9.8 .1 9.9 .1-11.5 .2 9.9 .1-15.4 .2 10.9 .1-11.5 .2 17 .1-18.7 .1 19.9 .2-17.9 .1 12.9 .2-20.9 .1 17.4 .2-17.6 .1 20.3 .2-18.5 .1 14.4 .1-7.5 .2 10.5 .1-14.9 .2 19.6 .1-20.4 .2 19 .1-17.4 .2 14.6 .1-8.3 .1 12 .2-10.3 .1 9.5 .2-3.6 .1 10.7 .2-24 .1 18.8 .2-14.2 .1 11.6 .1-11 .2 8.4 .1-5 .2 15.2 .1-20.3 .2 20.1 .1-14.9 .2 6.7 .1-11.1 .1 9.5 .2-14.9 .1 15.9 .2-19.7 .1 21.9 .2-16.2 .1 11.8 .1-11.1 .2 18 .1-13.1 .2 13.6 .1-16.5 .2 15.3 .1-13.3 .2 20.3 .1-14.6 .1 17.7 .2-18.1 .1 18 .2-14.7 .1 10.9 .2-18.8 .1 11.1 .2-12.2 .1 13.2 .1-20.2 .2 15.9 .1-11.7 .2 19 .1-21 .2 17.4 .1-16.1 .2 14.4 .1-19.2 .1 18 .2-11.6 .1 17.1 .2-17.6 .1 22.6 .2-8.7 .1 15.7 .2-14.9 .1 13.7 .1-17.7 .2 15.9 .1-19.7 .2 7.9 .1-15.8 .2 14.4 .1-12 .1 11.3 .2-11 .1 17.2 .2-8.5 .1 13.2 .2-15.2 20.6 0 .1-22.6 .2 18.2 .1-17.2 .2 17.2 .1-12.4 .2 18.1 .1-11.6 .1 15.7 .2-8.8 .1 8.3 .2-10.7 .1 12.8 .2-16.5 .1 16.2 .1-13.6 .2 18.5 .1-15.1 .2 10.8 .1-16.1 .2 12 .1-12.3 .2 10.5 .1-11.4 .1 15.6 .2-16.5 .1 12.3 .2-12.4 .1 13.3 .2-10.7 .1 15.3 .2-17.3 .1 19.8 .1-12.2 .2 14.3 .1-19.3 .2 21.8 .1-19.1 .2 14.8 .1-16.3 .2 7.6 .1-9.9 .1 11.8 .2-16.8 .1 14.8 .2-12.5 .1 10.7 .2-11.8 .1 17.8 .1-7.1 .2 15 .1-15.2 .2 18.5 .1-17.3 .2 19.8 .1-15.6 .2 12.3 .1-12.7 .1 10.4 .2-26.1 .1 19.6 .2-16.4 .1 12.4 .2-14.5 .1 12.8 .2-11.5 .1 14.4 .1-12.1 .2 8.6 .1-7.9 .2 20.8 .1-19.1 .2 20.6 .1-10.5 .2 14.2 .1-15.5 .1 14.6 .2-13.3 .1 7.2 .2-14.5 .1 15 .2-11.2 .1 13.1 .2-20.6 .1 22.8 .1-19.2 .2 3.1 .1 1.7 12.1 0 .2-40.6 .1 26.9 .2-25.8 .1 26.4 .2-23.7 .1 27.2 .1-26.3 .2 27.9 .1-32.4 .2 26.2 .1-26.4 .2 33 .1-26 .2 21.9 .1-27.1 .1 33.3 .2-34.1 .1 28.3 .2-24.7 .1 29.1 .2-34.8 .1 37.8 .2-37.4 .1 33.8 .1-31.6 .2 36.9 .1-37.5 .2 33.5 .1-29.8 .2 31.9 .1-31.3 .2 26.1 .1-33.5 .1 31.4 .2-29.7 .1 29.9 .2-21.2 .1 30.3 .2 .3 .1 18 .1-14 .2 19.2 .1-20.5 .2 19.5 .1-22.4 .2 21.8 .1-21.8 .2 22.9 .1-23.5 .1 24.2 .2-19.8 .1 13.7 .2-12.2 .1 16.4 .2-23.4 .1 21 .2-20.9 .1 24.4 .1-18 .2 15.5 .1-18.3 7 0 .1-9.2 .1 8.9 .2-15.9 .1 14.2 .2-16.7 .1 13.8 .2-7.8 .1 16.5 .2-14.2 .1 16.8 .1-15.9 .2 7 .1-16.8 .2 15.6 .1-15 .2 15.9 .1-12.9 .1 17.5 .2-11 .1 16.2 .2-13 .1 17.9 .2-21.5 .1 19.8 .2-19.2 .1 13.5 .1-9.8 .2 13.9 .1-11.4 .2 9.6 .1-11 .2 10.9 .1-17.7 .2 16.4 .1-18.5 .1 19 .2-19.8 .1 24 .2-11.8 .1 13.4 .2-12.2 .1 5.8 .2-19.1 .1 11.3 .1-11.5 .2 16.9 .1-13.9 .2 12.5 .1-8 .2 13.4 .1-9.6 .2 8.9 .1-12.5 .1 14.9 .2-8.2 .1 16.4 .2-13.4 .1 12.9 .2-12.4 .1 15.3 .1-16.1 .2 10.5 .1-20.5 .2 13.9" fill="none" stroke="#1f77b4" stroke-width="2.20" stroke-linejoin="round" clip-path="url(#c4)" />
<path d="M127 1316.9l8.8 0M148.9 1316.9l7.1 0 .2-2.3 5.3 0M168.4 1314.6l16.3 0M198.7 1314.6l14.8 0M222.9 1314.6l11.4 0M244.8 1314.6l20.6 0M278.3 1314.6l20.4 0M317.6 1314.6l26.4 0M359.3 1314.6l31 0M409.2 1314.6l20.6 0M442.2 1314.6l.1 1.7 12.1 0M463.2 1316.3l7 0" fill="none" stroke="#1f77b4" stroke-width="2.90" stroke-linejoin="round" clip-path="url(#c4)"/>
<path d="M479.5 1304.7l102.8 31.8 .1-8.3 1.9-4.8 1.5 1.9 30-2.3 0-1.8 .1 8.3 .2-11.6 .1 9 .1-10.4 .2 8.4 .1-10.3 .2 15.6 .1-16.5 .2 17.1 .1-14.6 .2 18.6 .1-19.4 .1 22 .2-18.7 .1 20.2 .2-14.5 .1 13.2 .2-13.3 .1 16.6 .1-15.9 .2 11.7 .1-12.1 .2 7.9 .1-11.3 .2 8.7 .1-11.4 .2 9 .1-9.9 .1 7 .2-9.6 .1 6.1 .2-9.5 .1 10.6 .2-10.4 .1 7.1 .2-9.4 .1 11 .1-11.5 .2 14.2 .1-11.7 .2 10.8 .1-10.8 .2 12.1 .1-10.4 .2 13.5 .1-11.2 .1 15.3 .2-11.2 .1 14.5 .2-10.8 .1 13.6 .2-8.8 .1 7.4 .2-5.8 .1 8.9 .1-7.9 .2 10.4 .1-8 .2 10 .1-10.1 .2 8.2 .1-7.4 .1 7.9 .2-9 .1 7.9 .2-9.5 .1 13.8 .2-15.8 .1 12.2 .2-16.8 .1 15.3 .1-19 .2 15.9 .1-18.9 .2 16.8 .1-17 .2 12.7 .1-18.1 .2 19.3 .1-16 .1 14.1 .2-11.2 .1 15.1 .2-11.2 .1 12.9 .2-9.3 .1 11.3 .2-8.8 .1 11.6 .1-11.9 .2 8.8 .1-13.4 .2 13.2 .1-15.8 .2 10.8 .1-14.5 .1 11.4 .2-11.8 .1 12 .2-12.4 .1 10.9 .2-10.9 .1 9.4 .2-11.3 .1 10.3 .1-9.3 .2 9.4 .1-9 .2 12.7 .1-12.5 .2 14.3 .1-7.7 .2 8 .1-7.8 .1 10.7 .2-7 .1 7.8 .2-4.7 .1 7.3 .2-7.7 .1 8.7 .2-7.6 .1 9.9 .1-9.1 .2 6.9 .1-6.4 .2 9.9 .1-14.5 .2 12.4 .1-13.8 .2 11.8 .1-12.6 .1 7.7 .2-11.4 .1 9.1 .2-9.7 .1 8.3 .2-13.7 .1 11 .1-11.5 .2 11.5 .1-12.7 .2 8.7 .1-9.3 .2 11.8 .1-10.2 .2 9.3 .1-10.4 .1 11.9 .2-7 .1 11.5 .2-10.7 .1 13.9 .2-9.6 .1 12 .2-8.5 .1 11.7 .1-13.1 .2 19.2 .1-17.6 .2 17.9 .1-14.6 .2 14.2 .1-11.3 .2 13.1 .1-13.6 .1 11.6 .2-12.6 .1 11 .2-15.2 .1 12.2 .2-12 .1 6.9 .2-10.1 .1 8.8 .1-9.5 .2 7.5 .1-10.6 .2 11.6 .1-13.5 .2 10.5 .1-11.6 .1 13 .2-10.6 .1 9.3 .2-9.8 .1 9.5 .2-8.9 .1 11.8 .2-12.4 .1 12.3 .1-10 .2 10.9 .1-10.6 .2 10.5 .1-11.3 .2 13.5 .1-11.4 .2 11.1 .1-10.4 .1 11.8 .2-8.8 .1 10.7 .2-9.5 .1 9.2 .2-9.4 .1 9.7 .2-8.6 .1 9 .1-10.3 .2 9.3 .1-7.7 .2 7.9 .1-10.4 .2 8.8 .1-10.1 .1 8.3 .2-10.1 .1 8 .2-10.1 .1 9.4 .2-13.5 .1 11 .2-13.8 .1 11.1 .1-9.3 .2 7.8 .1-9.1 .2 9.5 .1-6.8 .2 8.6 .1-6.1 .2 12.2 .1-9.6 .1 13.1 .2-9.2 .1 12.9 .2-9.2 .1 10.7 .2-10 .1 9.9 .2-10.3 .1 12.9 .1-11.6 .2 11.4 .1-13.6 .2 11.2 .1-12.4 .2 9 .1-12.1 .2 10.8 .1-13.9 .1 7.6 .2-12.6 .1 9.7 .2-15.5 .1 10.2 .2-9.1 .1 8 .1-11.3 .2 13.9 .1-11.7 .2 17.6 .1-14.6 .2 17.9 .1-14.6 .2 18.5 .1-14.8 .1 19.4 .2-16 .1 21.8 .2-14.1 .1 18 .2-18.1 .1 16.7 .2-13.9 .1 13.6 .1-9.8 .2 6.8 .1-10.3 .2 8.4 .1-12.9 .2 8.5 .1-12.7 .2 7.9 .1-10.8 .1 10 .2-11.4 .1 7.9 .2-9.2 .1 9.3 .2-17.4 .1 19.5 .2-17.3 .1 15.9 .1-18.6 .2 19.6 .1-14.2 .2 14.9 .1-18.8 .2 22.6 .1-19.7 .1 18.2 .2-16.6 .1 23 .2-19.8 .1 16.6 .2-10.5 .1 15.2 .2-13.3 .1 17.7 .1-18 .2 17.4 .1-16.2 .2 15.9 .1-12.6 .2 15.1 .1-15.5 .2 16.3 .1-20.2 .1 14.7 .2-18.2 .1 25.1 .2-29.6 .1 22.8 .2-28.9 .1 19.8 .2-30.3 .1 25.7 .1-27 .2 25.4 .1-29 .2 31.3 .1-28.1 .2 23.5 .1-19.1 .2 28.3 .1-22.1 .1 27.6 .2-21.3 .1 41.1 .2-29.6 .1 33.3 .2-22 .1 39.4 .1-41.2 .2-70.1 .1 81.3 .2 33.4 .1-37.2 .2 31.7 .1-31.8 .2 30.7 .1-38.3 .1 21.5 .2-32.4 .1 31.8 .2-33.4 .1 31.1 .2-36.2 .1 32.9 .2 36.9 .1-44.7 .1-27.3 .2 30.7 .1-37.7 .2 36.6 .1-32.8 .2 30.1 .1-33.5 .2 33.2 .1-25.6 .1 35.8 .2-32.7 .1 26.3 .2-24.4 .1 31.9 .2-35.5 .1 36.1 .1-27.6 .2 35.3 .1-38.6 .2 45.9 .1-38.6 .2 34.8 .1-32.8 .2 41.8 .1-41.3 .1 41.5 .2-38.6 .1 33.7 .2-48 .1 49.8 .2-42.8 .1 41.5 .2-43.5 .1 24.6 .1-19 .2 17 .1-19.2 .2 15.3 .1-28.8 .2 16.3 .1-26.2 .2 20 .1-17.3 .1 21.1 .2-14.4 .1 21.7 .2-8.8 .1 27.1 .2-14.1 .1 29.6 .2-20.7 .1 27.7 .1-26.4 .2 19 .1-21.4 .2 12.6 .1-29.2 .2 16.9 .1-22.3 .1 20 .2-27.9 .1 19.9 .2-20.1 .1 22.1 .2-26.5 .1 19.5 .2-20.6 .1 23.8 .1-27.3 .2 22.4 .1-17.1 .2 19.5 .1-19.8 .2 24.4 .1-20.1 .2 20.5 .1-19.9 .1 26.2 .2-22 .1 26.3 .2-24.3 .1 34.6 .2-32.8 .1 36.8 .2-35.9 .1 35 .1-27.5 .2 40.6 .1-33.7 .2 29.8 .1-30.3 .2 30.3 .1-30.8 .2 35.9 .1-41.3 .1 37.8 .2-43.8 .1 43.7 .2-43.2 .1 46.3 .2-46.5 .1 42.2 .1-41.3 .2 35.9 .1-52.8 .2 38.9 .1-45.7 .2 36.5 .1-34.1 .2 24.5 .1-31.5 .1 29 .2-26.1 .1 33.7 .2-20.9 .1 27.3 .2-24.1 .1 41 .2-23.7 .1 32.2 .1-25.1 .2 30.7 .1-24.2 .2 24.9 .1-32.4 .2 33.3 .1-36.6 .2 21.6 .1-38.3 .1 32.8 .2-43.2 .1 28.6 .2-35 .1 27.3 .2-37.5 .1 38.6 .1-38.8 .2 30.7 .1-38.4 .2 46.8 .1-48.8 .2 55.4 .1-41.8 .2 36.7 .1-33.5 .1 47.7 .2-35.4 .1 45.5 .2-38.3 .1 54.8 .2-49.6 .1 54.5 .2-46 .1 44.3 .1-32.3 .2 42 .1-33 .2 29.9 .1-32 .2 27.5 .1-37.3 .2 36.7 .1-46.8 .1 38.2 .2-44.7 .1 41.9 .2-47.3 .1 29.5 .2-43.4 .1 43.4 .2-43.8 .1 40 .1-35.2 .2 62.6 .1-68.5 .2 41.3 .1-39.4 .2 51 .1-41.8 .1 40.3 .2-37.1 .1 51.1 .2-36.5 .1 35.4 .2-38.4 .1 37.4 .2-31 .1 22.9 .1-29.7 .2 23.8 .1-31.1 .2 27 .1-37.7 .2 30.1 .1-35.6 .2 27.1 .1-34.5 .1 27.6 .2-44.6 .1 46.7 .2-51.5 .1 55.3 .2-46.6 .1 42.5 .2-53 .1 60.2 .1-45 .2 38.6 .1-42.3 .2 56.5 .1-41.7 .2 46.5 .1-39.1 .2 35.1 .1-16.3 .1 28.3 .2-20.1 .1 32.4 .2-20 .1 20.5 .2-18.9 .1 27.7 .1-20.2 .2 25.1 .1-20.8 .2 19.6 .1-19.5 .2 19.8 .1-21 .2 18.1 .1-24.3 .1 16.8 .2-20.9 .1 20.2 .2-32.3 .1 19.4 .2-28 .1 22.1 .2-29.7 .1 21 .1-24.6 .2 26.4 .1-29 .2 37.1 .1-52.5 .2 48.1 .1-47.3 .2 37.3 .1-31.3 .1 31.9 .2-35.6 .1 37.6 .2-34.6 .1 35.8 .2-29.9 .1 45.9 .2-45.8 .1 38.7 .1-32.1 .2 39.9 .1-37.1 .2 39.6 .1-43.3 .2 51.7 .1-36.7 .1 47 .2-47.4 .1 47.2 .2-53.7 .1 42.5 .2-34.7 .1 36.8 .2-45.8 .1 37.2 .1-34.1 .2 31 .1-34.2 .2 37.8 .1-42 .2 30.4 .1-37.6 .2 24.9 .1-27.3 .1 28.8 .2-34.8 .1 31.2 .2-34 .1 28.2 .2-37.7 .1 44.8 .2-35.5 .1 54.9 .1-48.7 .2 45 .1-33.2 .2 52.3 .1-39.9 .2 53.4 .1-53.2 .1 53.2 .2-45.9 .1 45.9 .2-52.3 .1 45.8 .2-36.2 .1 26.8 .2-37.6 .1 30.9 .1-43.8 .2 37.8 .1-41.7 .2 38.7 .1-47.1 .2 33.1 .1-32.3 .2 34.1 .1-34.8 .1 52 .2-41.4 .1 45.4 .2-34.5 .1 39 .2-33.2 .1 34 .2-34.5 .1 38.9 .1-51.4 .2 50.2 .1-51.7 .2 32.7 .1-51 .2 40.9 .1-49.2 .2 39.8 .1-44.8 .1 43.9 .2-43.6 .1 42.1 .2-41.9 .1 46.5 .2-43.5 .1 42.5 .1-34.1 .2 56.4 .1-38.3 .2 52.1 .1-41.5 .2 44 .1-29.3 .2 40.5 .1-33.7 .1 35.3 .2-36.5 .1 38.7 .2-36.7 .1 38.8 .2-41.9 .1 33.2 .2-52 .1 32.5 .1-46.7 .2 47.6 .1-52.3 .2 32.2 .1-26 .2 14.5 .1-25.5 .2 21.6 .1-21.2 .1 22.2 .2-24.8 .1 22.2 .2-18.8 .1 87.4 .2-87.8 .1 23.9 .2-17.1 .1 26.8 .1-25.5 .2 36.3 .1-24.6 .2 31.6 .1-22.3 .2 29 .1-24.7 .1 31.4 .2-30.2 .1 33.5 .2-27.1 .1 27.7 .2-25.4 .1 27.6 .2-27.3 .1 27.6 .1-29.8 .2 21.2 .1-27.3 .2 21.4 .1-33.5 .2 29.3 .1-36.2 .2 30.5 .1-32.5 .1 28.8 .2-33 .1 29.6 .2-32.4 .1 27 .2-32.2 .1 30 .2-34.6 .1 39 .1-33.8 .2 25.5 .1-27.5 .2 35.7 .1-36.8 .2 42.3 .1-42.7 .2 41 .1-36.7 .1 46.3 .2-36.8 .1 36 .2-30.3 .1 38.7 .2-37.6 .1 37.1 .1-29.2 .2 35.7 .1-31.1 .2 36.7 .1-43.9 .2 41.3 .1-37.3 .2 35.8 .1-37.6 .1 39.9 .2-34.8 .1 32.4 .2-46 .1 51.7 .2-51.9 .1 48.2 .2-50.3 .1 49.2 .1-59.4 .2 44.7 .1-45.1 .2 33.2 .1-50.1 .2 43.2 .1-45.1 .2 34.8 .1-29.2 .1 20.9 .2-23.7 .1 21.9 .2-17.6 .1 19.9 .2-18.9 .1 24.6 .1-20.3 .2 29.2 .1-22.3 .2 26.8 .1-21.5 .2 32.3 .1-31.8 .2 47.3 .1-46.4 .1 57.4 .2-38.4 .1 44.7 .2-42.1 .1 50.6 .2-41 .1 39.4 .2-38.3 .1 35.9 .1-42.4 .2 44.7 .1-47.3 .2 30.4 .1-30.4 .2 22.5 .1-42.1 .2 38.5 .1-42.8 .1 32.2 .2-29.9 .1 28.7 .2-40 .1 34.8 .2-32.5 .1 35.2 .2-43.3 .1 33.1 .1-31.9 .2 43.6 .1-44.8 .2 51 .1-58.6 .2 51.2 .1-47.3 .1 46.2 .2-32.7 .1 38.8 .2-47 .1 60.5 .2-57.4 .1 54.5 .2-44.4 .1 44.8 .1-34.4 .2 35.8 .1-29.7 .2 31.2 .1-23.9 .2 24.4 .1-32.5 .2 36.3 .1-32.4 .1 27.3 .2-31.2 .1 28.6 .2-33.2 .1 28.2 .2-39.7 .1 47.1 .2-46.7 .1 39.2 .1-48.7 .2 27.7 .1-37.7 .2 27.4 .1-36.3 .2 33.1 .1-38.3 .2 43 .1-44.5 .1 37.9 .2-23.2 .1 107.4 .2-95.3 .1 37.6 .2-28.3 .1 51.3 .1-33.9 .2 34.2 .1-21.2 .2 33.6 .1-28.2 .2 28.5 .1-26.9 .2 30.7 .1-37.7 .1 24 .2-33.6 .1 27.7 .2-44 .1 30.2 .2-42.6 .1 33 .2-42.3 .1 34.8 .1-33.4 .2 27.3 .1-34.2 .2 35.6 .1-32.1 .2 36.7 .1-30.4 .2 36.8 .1-44.6 .1 56.6 .2-43.1 .1 44.3 .2-43.3 .1 51.4 .2-42.5 .1 47.4 .1-38.2 .2 39.1 .1-28.4 .2 34.6 .1-41.8 .2 44.9 .1-42.6 .2 39.6 .1-45.4 .1 31.8 .2-38.2 .1 27.4 .2-30.7 .1 25.7 .2-43.5 .1 47.7 .2-41.4 .1 26.1 .1-42.2 .2 41.5 .1-33.8 .2 23.6 .1-23.6 .2 24.4 .1-31.6 .2 37.4 .1-35.3 .1 32.4 .2-31.2 .1 35.1 .2-30 .1 37.8 .2-27.3 .1 27.7 .2-30 .1 34.1 .1-19.4 .2 24.3 .1-16 .2 25.4 .1-19.3 .2 23.9 .1-19.5 .1 19.7 .2-21.4 .1 23.1 .2-17.8 .1 26.8 .2-30.1 .1 29 .2-23.6 .1 18.1 .1-24.3 .2 21 .1-23.6 .2 24.5 .1-27.3 .2 22.6 .1-33.6 .2 24.5 .1-25.6 .1 20.1 .2-28.7 .1-53.9 .2 45.2 .1 26.3 .2-31.6 .1 40.2 .2-48.5 .1 34.5 .1-29.5 .2 32.4 .1-45.7 .2 41.5 .1-31.7 .2 44.9 .1-49.5 .2 46.3 .1-43.6 .1 54 .2-46.2 .1 35.4 .2-19.8 .1 28.3 .2-22.1 .1 28.2 .1-22.9 .2 26.8 .1-24.6 .2 32.6 .1-22.6 .2 20.5 .1-20.8 .2 29.7 .1-23 .1 20.5 .2-31.3 .1 37.9 .2-36.9 .1 34.9 .2-35.5 .1 34.1 .2-40.7 .1 36.5 .1-41 .2 31.7 .1-38.1 .2 37.6 .1-39.5 .2 30.5 .1-37.9 .2 35.2 .1-40 .1 29.3 .2-34 .1 29 .2-29.2 .1 25.8 .2-25 .1 34.8 .2-40.3 .1 37.9 .1-26.6 .2 30.4 .1-34 .2 41.8 .1-32.1 .2 38.3 .1-29.9 .1 32.8 .2-32.1 .1 33 .2-26.5 .1 36.4 .2-28 .1 31.5 .2-28.5 .1 26.7 .1-26.5 .2 32 .1-39 .2 35.5 .1-34.9 .2 29.7 .1-33 .2 28.1 .1-38.2 .1 31.8 .2-36.7 .1 26.2 .2-34.4 .1 25.3 .2-29 .1 32 .2-42.9 .1 28.9 .1-28.6 .2 31.3 .1-32.8 .2 37.1 .1-26 .2 40.2 .1-31.3 .1 34.1 .2-26.8 .1 41.2 .2-30.5 .1 35.7 .2-33.1 .1 40.5 .2-30.6 .1 31.1 .1-33.1 .2 35.7 .1-36.7 .2 29.9 .1-40 .2 35.3 .1-39.6 .2 32.4 .1-43.7 .1 32.9 .2-39.2 .1 25.4 .2-31.2 .1 34.4 .2-45.1 .1 42.1 .2-44.3 .1 39.6 .1-43.1 .2 35 .1-31.2 .2 35.3 .1-37.7 .2 39.9 .1-37.8 .2 42.7 .1-28.9 .1 40.2 .2-45.5 .1 57.1 .2-41.5 .1 46.7 .2-53.9 .1 48.8 .1-34 .2 49.4 .1-39.4 .2 42.4 .1-41.6 .2 52.1 .1-45.8 .2 53.4 .1-53.6 .1 44.3 .2-45.8 .1 43.7 .2-35.5 .1 31.5 .2-34.9 .1 35.9 .2-38.1 .1 29.4 .1-39.1 .2 36 .1-49.2 .2 50.9 .1-50.4 .2 32.8 .1-38.1 .2 24.1 .1-23.7 .1 20 .2-22.7 .1 21.9 .2-25.6 .1 23.1 .2-22.8 .1 23.1 .2-22 .1 23.1 .1-20.7 .2 21.2 .1-16.7 .2 23.9 .1-17.9 .2 24.3 .1-21.9 .1 31.7 .2-24.5 .1 25.7 .2-18.1 .1 26 .2-23.2 .1 27.2 .2-24.5 .1 21 .1-24.3 .2 24.5 .1-26.5 .2 33.8 .1-41.4 .2 42.5 .1-47.5 .2 34.2 .1-42.8 .1 42.1 .2-51.1 .1 47.1 .2-48.8 .1 42.1 .2-44.8 .1 45.4 .2-41.6 .1 34.4 .1-33.3 .2 37.2 .1-41.8 .2 39.3 .1-34 .2 35.9 .1-41.2 .1-82.8 .2 91.7 .1 35.4 .2-34.7 .1 31.4 .2-29.6 .1 37.5 .2-30.4 .1 31.7 .1-26.3 .2 28.5 .1-17.6 .2 22.5 .1-22.9 .2 20.5 .1-14 .2 18.9 .1-20.8 .1 20.9 .2-18.2 .1 19 .2-17.2 .1 20.4 .2-24.7 .1 101.4 .2-103.8 .1 20.6 .1-29 .2 28.7 .1-26.6 .2 17.4 .1-23.8 .2 20.8 .1-34.2 .2 25.9 .1-30 .1 24.2 .2-27.9 .1 22.5 .2-28.1 .1 26.1 .2-31.8 .1 37.8 .1-29.6 .2 29.4 .1-23 .2 32.9 .1-23.9 .2 29.4 .1-26.2 .2 34.5 .1-19.7 .1 29.5 .2-23.5 .1 29.1 .2-23.8 .1 32 .2-19.9 .1-93.2 .2 89.9 .1 29.2 .1-30.1 .2 26.7 .1-24.7 .2 15 .1-24.1 .2 18.7 .1-23.5 .2 18.7 .1-34 .1 19.3 .2-31.6 .1 23.6 .2 63 .1-70.6 .2-28.5 .1 28.2 .2-32.1 .1 28.9 .1-18.9 .2 34.4 .1-18 .2 27.9 .1-15.9 .2 31.2 .1-18.7 .1 22.3 .2-19.3 .1 20.9 .2-24.9 .1 19.7 .2-21.7 .1 14.4 .2-29.5 .1 17.6 .1-26.9 .2 24 .1-29.4 .2 29 .1-40.4 .2 34.2 .1-28 .2 21.8 .1-27.4 .1 31.1 .2-26.8 .1 29.5 .2-33 .1 33.3 .2-32 .1 33 .2-23.4 .1 25.3 .1-17.7 .2 14.8 .1-11 .2 18 .1-18.4 .2 18.7 .1-12.3 .2 17 .1-17.9 .1 16.2 .2-15 .1 14.2 .2-16.2 .1 14.3 .2-19.3 .1 12.8 .1-14.6 .2 12.5 .1-17.5 .2 11.2 .1-14.3 .2 9.9 .1-15.7 .2 11.4 .1-14.8 .1 11.5 .2-14 .1 12.8 .2-12.1 .1 11.4 .2-10.3 .1 10.4 .2-9.8 .1 11.1 .1-7.9 .2 9.3 .1-7.2 .2 8.5 .1-9.8 .2 7.5 .1-10.4 .2 6.2 .1-7.7 .1 5.8 .2-9.3 .1-1.8 6.4 0 .1-25.9 .2 16.3 .1-17.7 .1 15.8 .2-14.9 .1 18 .2-10.7 .1 21.4 .2-16.1 .1 12.9 .2-8.9 .1 18.4 .1-18.7 .2 15.3 .1-14.9 .2 17.8 .1-21.8 .2 16.9 .1-17.7 .2 14.7 .1-18.3 .1 13.5 .2-12.6 .1 8.2 .2-9.9 .1 10.5 .2-15.4 .1 15.5 .2-14 .1 13.1 .1-6.1 .2 13.6 .1-14.2 .2 24.7 .1-17.1 .2 15.2 .1-10.8 .2 15.7 .1-16 .1 16 .2-15.6 .1 9.6 .2-17.2 .1 10.2 .2-13.7 .1 10.3 .1-14.5 .2 12 .1-10.7 .2 13.6 .1-12.1 .2 10.1 .1-8.8 .2 16 .1-11 .1 20.4 .2-15.5 .1 12.4 .2-11.8 .1 15.4 .2-17.7 .1 13.8 .2-13.9 .1 12.5 .1-20.8 .2 12.6 .1-14.5 .2 19.4 .1-13.2 .2 15.2 .1-12.9 .2 17.7 .1-11.3 .1 9.8 .2-14.6 .1 11.6 .2-13.1 .1 11.2 .2-14.5 .1 7.5 .2-13 .1 13 .1-15.3 .2 16.1 .1-15.1 .2 19.1 .1-11.9 .2 17.2 .1-12.7 .1 19.1 .2-15.5 .1 14.2 .2-13.3 .1 18.7 .2-19.6 .1 14.9 .2-15.2 .1 12.3 .1-18 .2 13.6 .1-18 .2 17.1 .1-17.8 .2 13.3 .1-11.9 .2 14.7 .1-13.9 .1 13.5 .2-16 .1 17.1 .2-2.4 2.4 0 .2-15.2 .1 10.4 .2-14.8 .1 14.5 .1-17.7 .2 15.9 .1-13 .2 12.2 .1-12.6 .2 12.3 .1-11.3 .2 12.6 .1-12.8 .1 20.4 .2-7.8 .1 15.7 .2-16.5 .1 18 .2-15.5 .1 15.9 .2-22.1 .1 15.2 .1-16.1 .2 10.4 .1-21 .2 18.1 .1-14.6 .2 13.1 .1-12.9 .2 22.3 .1-7.5 .1 13.2 .2-13.6 .1 16 .2-17.2 .1 11.4 .2-12.8 .1 12.1 .1-20.6 .2 11.9 .1-16.2 .2 18.1 .1-15.2 .2 15.2 .1-12.3 .2 21.8 .1-12.3 .1 14.8 .2-13.2 .1 16.3 .2-14.1 .1 14.3 .2-17.6 .1 12.5 .2-19.1 .1 13 .1-13.7 .2 11.5 .1-11.1 .2 14.1 .1-16 .2 20.4 .1-21.1 .2 10.8 .1-9 .1 10.6 .2-13.8 .1 20.2 .2-18.8 .1 26 .2-20.5 .1 21.9 .2-13.5 2 0 .1-13.5 .2 14 .1-15.9 .1 17 .2-12.3 .1 10.8 .2-7.8 .1 10.4 .2-15.6 .1 11.4 .2-9.6 .1 11.3 .1-12.6 .2 4.9 .1-14.5 .2 12.1 .1-10.7 .2 15.8 .1-17 .2 23.4 .1-9.8 .1 16.2 .2-15.6 .1 15.8 .2-16.7 .1 13.7 .2-16 .1 10.2 .1-18 .2 10.3 .1-11.9 .2 12 .1-12.3 .2 18.1 .1-6.7 .2 12.9 .1-8.2 .1 12.4 .2-15.7 .1 18.5 .2-18.2 .1 12.2 .2-21.6 .1 18.9 .2-16.3 .1 13.5 .1-12.8 .2 18 .1-9.6 .2 13.1 .1-13.7 .2 16.3 .1-19.3 .2 16.9 .1-22.1 .1 14.3 .2-16.6 .1 15.5 .2-13.6 .1 16.9 .2-17.6 .1 25.2 .2-13.7 .1 20.1 .1-17.4 .2 18.1 .1-15.7 .2 11.4 .1-16 .2 8.1 .1-10.9 .1 9.8 .2-15.1 .1 11.1 2.2 0 .1-13.5 .2 20 .1-15.9 .2 15.8 .1-24.4 .2 15.9 .1-18.1 .2 17.1 .1-13.7 .1 14.3 .2-9.4 .1 13.9 .2-11.6 .1 12.9 .2-17.9 .1 17.5 .2-26.7 .1 14.4 .1-14.1 .2 17.6 .1-19.2 .2 15.2 .1-5.8 .2 18.1 .1-15.5 .1 18.3 .2-17.9 .1 12 .2-10.1 .1 18.6 .2-17.9 .1 18.3 .2-18.6 .1 17.3 .1-21 .2 11.3 .1-18.3 .2 12.7 .1-10.2 .2 19.2 .1-14.5 .2 16.4 .1-17.9 .1 11.3 .2-10.1 .1 11.9 .2-20.6 .1 13.5 .2-11.5 .1 13.5 .2-9.5 .1 22 .1-10.8 .2 12 .1-14.9 .2 14.9 .1-17.6 .2 16 .1-16.2 .2 16.8 .1-19.6 .1 17.1 .2-13.7 .1 18.5 .2-17.5 .1 12.9 .2-16.5 .1 10.9 .1-16 .2 19.6 .1-14.2 .2 13.3 .1-17.2 .2 20.8 .1-19.2 .2 11.6 .1-16.6 .1 13.7 .2-9.3 .1 18 .2-14.1 .1 22.5 .2-17 .1 18.9 .2-19.6 .1 18.3 .1-24.1 .2 14.2 .1-17.5 .2 19.2 .1-9.3 .2 12.2 .1-14.8 .2 19.1 .1-16.4 .1 16.8 .2-20.8 .1 8.6 .2-16.4 .1 12.1 .2-13.5 .1 15.4 .1-9.7 .2 14.1 .1-16.3 .2 20.4 .1-17.1 .2 13.3 .1-11.5 .2 15.4 .1-9.5 .1 16.7 .2-13.8 .1 13.4 .2-23.2 .1 16.5 .2-16.8 .1 17 .2-14.1 .1 16.2 .1-8.5 .2 12.4 .1-13.3 .2 14.8 .1-17.9 .2 7.5 .1-17.9 .2 10.5 .1-14.8 .1 17.2 .2-14 .1 19 .2-11.5 .1 21.1 .2-13.4 .1 10.8 .2-12.8 .1 12.9 .1-19.9 .2 14.8 .1-7.3 .2 11.4 .1-12.7 .2 15.3 .1-20.6 .1 13.7 .2-12.4 .1 10.3 .2-6.7 .1 10.3 .2-8.1 .1 16.4 .2-16.8 .1 10 .1-16.7 .2 15 .1-20.8 .2 16.8 .1-9.6 .2 16.5 .1-12.1 .2 21 .1-13.3 .1 11.9 .2-17.2 .1 11.7 .2-22.4 .1 14.7 .2-2 4.4 0 .2-27.5 .1 17.4 .2-9.4 .1 14.2 .2-9.1 .1 9.3 .1-13.3 .2 14.4 .1-7.3 .2 14.7 .1-11.2 .2 15.5 .1-17.8 .2 16.9 .1-16.1 .1 16.1 .2-13.7 .1 13.1 .2-12.5 .1 11.6 .2-18.3 .1 15.4 .1-21.1 .2 15.7 .1-9.8 .2 6.8 .1-9.4 .2 8.9 .1-14.5 .2 13.3 .1-13.4 .1 16 .2-13 .1 13.5 .2-14.2 .1 21.1 .2-13.8 .1 19 .2-13.7 .1 14.6 .1-8.9 .2 13.1 .1-11.7 .2 8.7 .1-10 .2 14 .1-16.7 .2 18.7 .1-15.2 .1 12.3 .2-12 .1 3.6 .2-12.6 .1 5.5 .2-16.2 .1 15.5 .2-11.1 .1 10.8 .1-9.4 .2 14.6 .1-14.3 .2 14.9 .1-16.4 .2 15.4 .1-12.9 .1 11.9 1.5 0 .1-2 5.2 0 .2-18.9 .1 24.4 .2-10.5 .1 11 .1-12 .2 13.3 .1-15.6 .2 15.7 .1-15.5 .2 14.8 .1-15.1 .2 11.8 .1-16.8 .1 14.5 .2-20.6 .1 11.6 .2-11.7 .1 15.4 .2-17.2 .1 19.6 .2-11.7 .1 20.2 .1-17.1 .2 21.4 .1-20 .2 18.4 .1-17 .2 17.2 .1-14 .2 15.1 .1-12.3 .1 13.6 .2-12.5 .1 13 .2-19.5 .1 7 .2-13.2 .1 11.4 .1-14 .2 13.7 .1-8.7 .2 24 .1-12.2 .2 9.7 .1-14.7 .2 8 .1-16.7 .1 15.3 .2-17.9 .1 13.7 .2-11.7 .1 19.9 .2-15.1 .1 18.9 .2-18.8 .1 14.3 .1-9.6 .2 12.1 .1-10.4 .2 11.4 .1-6.9 .2 13.1 .1-14.4 .2 14.5 .1-13.1 .1 13.5 .2-25.1 .1 9.1 .2-11.3 .1 9.5 .2-13.1 .1 19.2 .1-4.4 6.8 0 .2-20.6 .1 15.9 .2-10.7 .1 11.5 .1-14.2 .2 13.6 .1-13.4 .2 17.2 .1-15.4 .2 11.5 .1-7.3 .2 12 .1-10.2 .1 15.3 .2-16.6 .1 18.4 .2-12.1 .1 8.4 .2-10.9 .1 7.7 .2-9.2 .1 13.4 .1-14.3 .2 12.6 .1-17.2 .2 11.7 .1-13.7 .2 20.7 .1-14.7 .2 15.9 .1-13.9 .1 10.7 .2-12.3 .1 19.1 .2-17.7 .1 13.4 .2-12.8 .1 16.9 .1-17 .2 12.4 .1-16.7 .2 13.6 .1-15.7 .2 23 .1-21.5 .2 9.7 .1-7.4 .1 12.6 .2-18.2 .1 21 .2-15.1 .1 21.7 .2-15 .1 9.3 .2-10.2 .1 14.7 .1-21.3 .2 16.6 .1-10 .2 9.8 .1-15.4 .2 13.1 .1-17 .2 19.6 .1-13 .1 8.9 .2-9.5 .1 14.7 .2-20.4 .1 17.1 .2-12.5 .1 15.8 .1-14.6 .2 17.1 .1-13.2 .2 16.7 .1-17.2 .2 14.1 .1-13.5 .2 15.3 .1-12.7 .1 15.3 .2-19.2 .1 13.8 .2-15.9 .1 20.2 .2-20.3 .1 13.6 .2-10.8 .1 9.5 .1-18 .2 19.3 .1-16.5 .2 20.8 .1-14.8 .2 18.3 .1-13.7 3.3 0 .2-24.4 .1 16.3 .2-13.4 .1 17.4 .1-7.8 .2 14.1 .1-12.1 .2 13 .1-10.6 .2 11.6 .1-23.4 .2 14.8 .1-18.7 .1 22.8 .2-6.9 .1 12.3 .2-10.5 .1 17 .2-17.8 .1 10.8 .2-16.2 .1 10.2 .1-14.7 .2 11.6 .1-11.1 .2 19.5 .1-15.6 .2 20.9 .1-16.5 .2 14.1 .1-22.7 .1 14.3 .2-18.7 .1 19.4 .2-16.8 .1 18.1 .2-11 .1 21 .1-17.6 .2 17.6 .1-19.6 .2 9.2 .1-11.9 .2 8.2 .1-15.4 .2 20.6 .1-16.7 .1 22.8 .2-11.8 .1 14.6 .2-12.5 .1 18.4 .2-15.2 .1 7.6 .2-24.9 .1 16.6 .1-18.4 .2 15.1 .1-11.5 .2 11.5 .1-8.7 .2 14.9 .1-9 .2 15.6 .1-14.6 .1 12.5 .2-15.2 .1 11.9 .2-15.8 .1 24.5 .2-18.5 .1 22.3 .2-15.4 .1 15.2 .1-13.7 .2 7 .1-18.3 .2 15.4 .1-20.9 .2 11.7 .1-11.9 .1 16.4 .2-12.7 .1 16.9 .2-17.1 .1 17 .2-21.1 .1 20.3 .2-16.1 .1 17.4 .1-11.7 .2 9.8 .1-3.3 .2 13.3 .1-11.3 .2 14.5 .1-18.3 9.1 0 .1-7.6 .2 15.6 .1-12.6 .2 9.5 .1-8.6 .2 11.3 .1-16.1 .1 17.8 .2-19 .1 15.4 .2-20.9 .1 20.6 .2-23.6 .1 13.9 .2-15.7 .1 12 .1-16.4 .2 14.8 .1-12.2 .2 16.6 .1-8.7 .2 14.7 .1-11.9 .2 14.4 .1-19.2 .1 21.3 .2-20.1 .1 16.6 .2-18 .1 12.1 .2-8.1 .1 11.9 .2-9.3 .1 21.5 .1-15.9 .2 13.1 .1-15.2 .2 19.7 .1-20.4 .2 16.9 .1-25.3 .1 13.2 .2-14 .1 13.9 .2-16 .1 16.5 .2-16.7 .1 16.3 .2-17.1 .1 17.7 .1-13 .2 17.3 .1-16.9 .2 18.1 .1-9.6 .2 9.8 .1-9.9 .2 18.6 .1-19 .1 16.5 .2-16 .1 13.3 .2-15.9 .1 9.9 .2-15.6 .1 17.5 .2-12.7 .1 12.4 .1-14.5 .2 24.8 .1-15 .2 11.5 .1-13.1 .2 7.5 .1-14.8 .2 12.3 .1-21.1 .1 18.8 .2-18.4 .1 19.9 .2-17.2 .1 18 .2-11.1 .1 19.2 .1-9.7 .2 12.6 .1-11.4 .2 7.6 .1-12.3 .2 10.8 .1-17.8 .2 17.8 .1-13.2 .1 14.9 .2-12.4 .1 14.3 .2-19.1 .1 17.3 .2-14.7 .1 15.7 .2-18.8 .1 14 .1-11.9 .2 17.9 .1-11.6 .2 12.2 .1-17.5 .2 13.2 .1-15.2 .2 13.7 .1-18.8 .1 16.2 .2-15.5 .1 10 .2-11.9 .1 18.2 .2-11 .1 21.3 .1-14.6 .2 18.3 .1-14.6 .2-4.3 10.2 0 .2-11.1 .1 11.1 .2-18.8 .1 13 .1-12.6 .2 9.7 .1-11.2 .2 11.5 .1-8.4 .2 13.5 .1-12.7 .1 13.4 .2-18 .1 19.7 .2-16.9 .1 15 .2-15 .1 16.1 .2-7 .1 13.5 .1-9.5 .2 16.7 .1-16.2 .2 15.6 .1-16.9 .2 14.5 .1-9.5 .2 8.2 .1-13.4 .1 10.5 .2-23.2 .1 14.1 .2-11.1 .1 9.7 .2-9.6 .1 11.2 .2-13.4 .1 13.5 .1-12.2 .2 15.9 .1-18.3 .2 19.3 .1-12.8 .2 20.2 .1-10.4 .1 17.5 .2-15.6 .1 14.5 .2-16.3 .1 15.4 .2-11.2 .1 12.3 .2-22.8 .1 12 .1-17 .2 12.3 .1-17 .2 16.3 .1-15.8 .2 16.8 .1-10.2 .2 11.9 .1-16 .1 16.4 .2-9.1 .1 14.4 .2-14.1 .1 19.6 .2-16.2 .1 19.7 .2-15.2 .1 16.2 .1-16.8 .2 18.8 .1-18.2 .2 18.1 .1-19 .2 11.3 .1-15.2 .2 13.3 .1-8.8 5.6 0 .2-1.2 4.4 0 .2-12.9 .1 10.3 .2-11.8 .1 18.8 .2-10.3 .1 10.3 .1-21.3 .2 18.2 .1-19.1 .2 12.3 .1-12.8 .2 13.8 .1-13.5 .2 10.7 .1-9.4 .1 20.8 .2-12.2 .1 15.2 .2-11.1 .1 11.7 .2-10.1 .1 12.1 .1-15.2 .2 6.4 .1-18.3 .2 15.2 .1-13.4 .2 13.1 .1-16.9 .2 18 .1-12.3 .1 12.7 .2-12 .1 21.5 .2-16.4 .1 18.4 .2-18.5 .1 16.7 .2-19.5 .1 15.9 .1-18.8 .2 12.6 .1-15.4 .2 18.6 .1-16.2 .2 16 .1-8.3 .2 16.8 .1-16.8 .1 15.3 .2-14.4 .1 14.1 .2-13.6 .1 10.8 .2-9.3 .1 5.9 .1-9.1 .2 14.9 .1-19.7 .2 15.8 .1-13.6 .2 9.5 .1-16.1 .2 13.4 .1-14.6 .1 14.1 .2-13.4 .1 14.6 .2-10.8 .1 20.2 .2-9.1 .1 16.8 .2-18 .1 19.7 .1-16.2 .2 11.5 .1-9.1 .2 10.5 .1-29 .2 15.2 .1-15.7 .2 15.4 .1-18.3 .1 14.7 .2-11.4 .1 14.1 .2-10.9 .1 18.8 .2-5.2 .1 15.5 .2-13.9 .1 13.9 .1-13.7 .2 10.3 .1-10.2 .2 9.3 .1-20.3 .2 10.8 .1-14.9 .1 14.6 .2-18 .1 16.6 .2-11.1 .1 16.7 .2-15.6 .1 19.4 .2-15.8 .1 13.4 .1-16.1 .2 15.3 .1-11.9 .2 7.2 .1-9.8 .2 16.1 .1-13.4 .2 13.9 .1-13.8 .1 18.6 .2-10.6 .1 13.8 .2-20.3 .1 18.7 .2-23.4 .1 19 .2-20.8 .1 16.3 .1-17.7 .2 17.8 .1-19.7 .2 19.2 .1-16 .2 14.7 .1-12.5 .2 17.8 .1-19 .1 19.7 .2-15.5 .1 8.5 .2-7.1 .1 11.3 .2-13 .1 14.2 .1-12.6 .2 21 .1-18.3 13.7 0 .2-14.6 .1 16.5 .2-15.7 .1 12.5 .2-9 .1 7 .1-14.1 .2 9.7 .1-11.2 .2 11.5 .1-10.9 .2 9 .1-11.5 .2 16.5 .1-10.1 .1 22.5 .2-11.1 .1 16.5 .2-17.7 .1 16.2 .2-17.2 .1 15 .1-19.1 .2 7.1 .1-17.3 .2 15.3 .1-16.8 .2 23.2 .1-15.4 .2 13.7 .1-11.8 .1 14.1 .2-15 .1 15.3 .2-21.8 .1 19.7 .2-15.4 .1 19.7 .2-17.2 .1 20.7 .1-12.2 .2 11.7 .1-15.9 .2 10.4 .1-19.1 .2 14.3 .1-16.2 .2 16.8 .1-14.7 .1 15.6 .2-8.8 .1 16 .2-9.8 .1 14.5 .2-11 .1 10.3 .2-13.2 .1 7.7 .1-11.4 .2 5.2 .1-14.9 .2 14.5 .1-15.7 .2 15.5 .1-10.8 .1 11.6 .2-11.3 .1 7.6 .2-6 .1 10.6 .2-13.4 .1 14.6 .2-13.4 .1 21.3 .1-14.3 .2 19.6 .1-18.1 .2 14.1 .1-13.5 .2 12.3 .1-13.7 .2 6.9 .1-7.9 .1 9.1 .2-16.8 .1 14.1 .2-11 .1 14.1 .2-14 .1 9.4 .2-7.2 .1 10.4 .1-15.5 .2 13.5 .1-14.3 .2 18.6 .1-14.1 .2 15.8 .1-13.2 .1 16.6 .2-17.3 .1 22.3 .2-23.2 .1 21.6 .2-16.1 .1 16.1 .2-15.6 .1 14.6 .1-14.9 .2 16.2 .1-15 .2 9.4 .1-19.4 .2 14.2 .1-18.7 .2 15.1 .1-13.6 .1 13.1 .2-3.4 .1 8.2 .2-11 .1 17.7 .2-9.2 .1 14.7 .2-13.7 .1 7.1 .1-13 .2 13.5 .1-10.7 .2 19.4 .1-23.1 .2 18.1 .1-18.3 .2 16.4 .1-19.8 .1 10.7 .2-13.1 .1 13.5 .2-15 .1 15.6 .2-9.1 .1 14.9 .1-5.5 .2 11.4 .1-15.3 .2 14.9 .1-13.3 .2 8.1 .1-19.6 .2 14.7 .1-16.1 .1 14.6 .2-13.2 .1 13.8 .2-13.9 .1 24.9 .2-17.5 .1 13.1 .2-9.6 .1 13.2 .1-14 16.9 0 .2-7.8 .1 15.8 .1-15.6 .2 14.2 .1-16.9 .2 6 .1-16.6 .2 15.6 .1-13.1 .2 13.3 .1-17 .1 14 .2-14.2 .1 19.1 .2-11.5 .1 20.3 .2-9.4 .1 13.5 .2-17.2 .1 15.4 .1-13.2 .2 10.2 .1-10.8 .2 12.8 .1-19 .2 15.7 .1-17.9 .1 10.3 .2-10.4 .1 13.4 .2-13.7 .1 17.2 .2-14.3 .1 9.9 .2-17.6 .1 20 .1-13.5 .2 10 .1-15.5 .2 19.5 .1-17 .2 14.3 .1-9.5 .2 19.5 .1-14.5 .1 19 .2-18.3 .1 14.6 .2-11.5 .1 12.3 .2-11 .1 4.4 .2-15 .1 11.3 .1-19.8 .2 16.2 .1-11.8 .2 12.2 .1-13.1 .2 11.7 .1-9.5 .2 18 .1-11.9 .1 17.3 .2-10.9 .1 12.5 .2-11.1 .1 13.3 .2-12.2 .1 9 .1-14.6 .2 13.7 .1-20.1 .2 10 .1-16.8 .2 15.8 .1-13.6 .2 11.5 .1-12.4 .1 15.4 .2-16.1 .1 22.3 .2-14.5 .1 16.5 .2-13.6 .1 18.3 .2-11.6 .1 9.5 .1-17.3 .2 16.9 .1-16.2 .2 17.9 .1-15.5 .2 16.4 .1-12.4 .2 7.8 .1-13 .1 11.6 .2-8.2 .1 7.7 .2-11.8 .1 5.7 .2-14.2 .1 17.3 .1-18.3 .2 15.9 .1-14.8 .2 19.3 .1-15.2 .2 13 .1-6.8 .2 17.8 .1-10.4 .1 10.8 .2-12.5 .1 14.9 .2-18.1 .1 15.1 .2-17.8 .1 12.1 .2-19 .1 14 .1-17.4 .2 11.7 .1-12.4 .2 13.4 .1-9.7 .2 12.5 .1-6.7 .2 14.5 .1-9.5 .1 16.1 .2-16.9 .1 17.5 .2-15.9 .1 18.5 .2-13.8 .1 11.9 .2-17.4 .1 9.7 .1-16.7 .2 14.8 .1-15.7 .2 13.1 .1-14.3 .2 17.8 .1-17.1 .1 16.7 .2-12.3 .1 9 .2-7.7 .1 12.9 .2-13.7 .1 14.4 .2-17.4 .1 18.7 .1-12.7 .2 15.5 .1-13.7 .2 14.7 .1-13.3 .2 12.2 .1-14.3 .2 13.1 .1-8.9 .1 8.9 .2-15.7 .1 11.5 .2-21.3 .1 19.7 .2-17.1 .1 10.7 .2-12 .1 12.5 .1-12 .2 15.3 .1-9 .2 16.6 .1-8.1 .2 15.9 .1-12.7 .2 14.9 .1-14.4 .1 10.3 .2-13.1 .1 10.2 .2-14.2 17.3 0 .1-6.3 .2 15.7 .1-14.6 .1 14.8 .2-15.5 .1 15.2 .2-14.3 .1 14.7 .2-17.3 .1 12.3 .2-17.5 .1 11.1 .1-16.3 .2 17.4 .1-20 .2 20.9 .1-19.7 .2 24.5 .1-17.9 .2 8.3 .1-13.2 .1 11.4 .2-14.7 .1 19 .2-16.7 .1 19.2 .2-10.9 .1 17.6 .2-10.6 .1 13.9 .1-12.6 .2 15 .1-14.8 .2 12.7 .1-20.7 .2 15.6 .1-15.3 .2 13.7 .1-18.5 .1 15.8 .2-15.2 .1 10.2 .2-14.1 .1 18.5 .2-18.8 .1 17.2 .1-16.8 .2 20 .1-10.3 .2 12.3 .1-11.8 .2 17.4 .1-19.6 .2 15.2 .1-11.6 .1 17.3 .2-10.5 .1 17.7 .2-18 .1 13.2 .2-14.5 .1 16.6 .2-17.7 .1 10 .1-23.7 .2 17 .1-17.6 .2 17.1 .1-14.5 .2 13.1 .1-13.8 .2 16.8 .1-15.7 .1 15 .2-12.4 .1 18.9 .2-15 .1 21.8 .2-11.6 .1 10.7 .1-15.7 .2 19.2 .1-20.2 .2 18.4 .1-23.1 .2 22.7 .1-14.2 .2 17.1 .1-17.8 .1 16.6 .2-14 .1 3.4 .2-16.9" fill="none" stroke="#1f77b4" stroke-width="2.30" stroke-linejoin="round" clip-path="url(#c4)" />
<path d="M479.5 1304.7l102.8 31.8 .1-8.3 1.9-4.8 1.5 1.9 30-2.3M815.7 1318.9l6.4 0M838.1 1318.9l2.4 0M851.1 1318.9l2 0M863.7 1318.9l2.2 0M890.3 1318.9l4.4 0M904.2 1318.9l1.5 0 .1-2 5.2 0M921.5 1316.9l6.8 0M942.3 1316.9l3.3 0M959.6 1316.9l9.1 0M986.3 1316.9l10.2 0M1008.2 1316.9l5.6 0 .2-1.2 4.4 0M1039.3 1315.7l13.7 0M1076.2 1315.7l16.9 0M1120.1 1315.7l17.3 0" fill="none" stroke="#1f77b4" stroke-width="2.90" stroke-linejoin="round" clip-path="url(#c4)"/>
<path d="M592.0 1469.5V1224.5" stroke="#ff0000" stroke-width="2.08" stroke-dasharray="7.71 3.33" fill="none"/>
<rect x="64.5" y="1224.5" width="1138.0" height="245.0" fill="none" stroke="#000" stroke-width="1.11" stroke-linejoin="miter"/>
<path d="M112.5 1469.5v5.2M257.5 1469.5v5.2M401.5 1469.5v5.2M545.5 1469.5v5.2M689.5 1469.5v5.2M833.5 1469.5v5.2M977.5 1469.5v5.2M1122.5 1469.5v5.2M64.5 1440.5h-5.2M64.5 1408.5h-5.2M64.5 1376.5h-5.2M64.5 1343.5h-5.2M64.5 1311.5h-5.2M64.5 1279.5h-5.2M64.5 1247.5h-5.2" stroke="#000" stroke-width="1.11" fill="none"/>
<text x="112.5" y="1489.8" text-anchor="middle" textLength="8.8" lengthAdjust="spacingAndGlyphs">0</text>
<text x="257.5" y="1489.8" text-anchor="middle" textLength="26.5" lengthAdjust="spacingAndGlyphs">200</text>
<text x="401.5" y="1489.8" text-anchor="middle" textLength="26.5" lengthAdjust="spacingAndGlyphs">400</text>
<text x="545.5" y="1489.8" text-anchor="middle" textLength="26.5" lengthAdjust="spacingAndGlyphs">600</text>
<text x="689.5" y="1489.8" text-anchor="middle" textLength="26.5" lengthAdjust="spacingAndGlyphs">800</text>
<text x="833.5" y="1489.8" text-anchor="middle" textLength="35.3" lengthAdjust="spacingAndGlyphs">1000</text>
<text x="977.5" y="1489.8" text-anchor="middle" textLength="35.3" lengthAdjust="spacingAndGlyphs">1200</text>
<text x="1122.5" y="1489.8" text-anchor="middle" textLength="35.3" lengthAdjust="spacingAndGlyphs">1400</text>
<text x="54.8" y="1446.2" text-anchor="end" textLength="44.8" lengthAdjust="spacingAndGlyphs">-0.100</text>
<text x="54.8" y="1414.2" text-anchor="end" textLength="44.8" lengthAdjust="spacingAndGlyphs">-0.075</text>
<text x="54.8" y="1382.2" text-anchor="end" textLength="44.8" lengthAdjust="spacingAndGlyphs">-0.050</text>
<text x="54.8" y="1349.2" text-anchor="end" textLength="44.8" lengthAdjust="spacingAndGlyphs">-0.025</text>
<text x="54.8" y="1317.2" text-anchor="end" textLength="39.8" lengthAdjust="spacingAndGlyphs">0.000</text>
<text x="54.8" y="1285.2" text-anchor="end" textLength="39.8" lengthAdjust="spacingAndGlyphs">0.025</text>
<text x="54.8" y="1253.2" text-anchor="end" textLength="39.8" lengthAdjust="spacingAndGlyphs">0.050</text>
<text x="633.5" y="1509.8" text-anchor="middle" textLength="49.0" lengthAdjust="spacingAndGlyphs">minute</text>
<rect x="1000.5" y="1231.4" width="195.0" height="25.2" rx="2.8" ry="2.8" fill="#ffffff" fill-opacity="0.8" stroke="#cccccc" stroke-opacity="0.8" stroke-width="1.11"/>
<path d="M1006.1 1242.6h27.78" stroke="#1f77b4" stroke-width="2.08" stroke-dasharray="7.71 3.33" fill="none"/>
<path d="M1018.7 1243.0l1.3 1.6l1.3 -1.6z" fill="#1f77b4"/>
<text x="1049.6" y="1248.3" textLength="139.4" lengthAdjust="spacingAndGlyphs">Ws_E14_et_rate_ma</text>
<path d="M112.5 1520.5V1765.5M257.5 1520.5V1765.5M401.5 1520.5V1765.5M545.5 1520.5V1765.5M689.5 1520.5V1765.5M833.5 1520.5V1765.5M977.5 1520.5V1765.5M1122.5 1520.5V1765.5M64.5 1750.5H1202.5M64.5 1718.5H1202.5M64.5 1686.5H1202.5M64.5 1654.5H1202.5M64.5 1622.5H1202.5M64.5 1590.5H1202.5M64.5 1558.5H1202.5M64.5 1526.5H1202.5" stroke="#b0b0b0" stroke-width="1.11" fill="none"/>
<path d="M116.5 1750.5l361.9 0" fill="none" stroke="#1f77b4" stroke-width="2.90" stroke-linejoin="round" clip-path="url(#c5)" />
<path d="M581.5 1750.5l11.1 0" fill="none" stroke="#1f77b4" stroke-width="2.90" stroke-linejoin="round" clip-path="url(#c5)" />
<path d="M592.6 1750.5l.7-12.8 .6-207.4 .2 9 .5 25.6 .3 32 .5 32 .3 44.8 .4 38.4 .3 28.2 .6 13.4" fill="none" stroke="#1f77b4" stroke-width="2.50" stroke-linejoin="round" clip-path="url(#c5)" stroke-dasharray="7.71 3.33"/>
<path d="M597 1753.7l1 .6 2.2-3.8 2.9 1.9 2.9-3.2 2.8 2.6 2.9-3.2 2.9-.7 2.9 2.6 532.7 0" fill="none" stroke="#1f77b4" stroke-width="2.90" stroke-linejoin="round" clip-path="url(#c5)" />
<path d="M592.0 1765.5V1520.5" stroke="#ff0000" stroke-width="2.08" stroke-dasharray="7.71 3.33" fill="none"/>
<rect x="64.5" y="1520.5" width="1138.0" height="245.0" fill="none" stroke="#000" stroke-width="1.11" stroke-linejoin="miter"/>
<path d="M112.5 1765.5v5.2M257.5 1765.5v5.2M401.5 1765.5v5.2M545.5 1765.5v5.2M689.5 1765.5v5.2M833.5 1765.5v5.2M977.5 1765.5v5.2M1122.5 1765.5v5.2M64.5 1750.5h-5.2M64.5 1718.5h-5.2M64.5 1686.5h-5.2M64.5 1654.5h-5.2M64.5 1622.5h-5.2M64.5 1590.5h-5.2M64.5 1558.5h-5.2M64.5 1526.5h-5.2" stroke="#000" stroke-width="1.11" fill="none"/>
<text x="112.5" y="1785.8" text-anchor="middle" textLength="8.8" lengthAdjust="spacingAndGlyphs">0</text>
<text x="257.5" y="1785.8" text-anchor="middle" textLength="26.5" lengthAdjust="spacingAndGlyphs">200</text>
<text x="401.5" y="1785.8" text-anchor="middle" textLength="26.5" lengthAdjust="spacingAndGlyphs">400</text>
<text x="545.5" y="1785.8" text-anchor="middle" textLength="26.5" lengthAdjust="spacingAndGlyphs">600</text>
<text x="689.5" y="1785.8" text-anchor="middle" textLength="26.5" lengthAdjust="spacingAndGlyphs">800</text>
<text x="833.5" y="1785.8" text-anchor="middle" textLength="35.3" lengthAdjust="spacingAndGlyphs">1000</text>
<text x="977.5" y="1785.8" text-anchor="middle" textLength="35.3" lengthAdjust="spacingAndGlyphs">1200</text>
<text x="1122.5" y="1785.8" text-anchor="middle" textLength="35.3" lengthAdjust="spacingAndGlyphs">1400</text>
<text x="54.8" y="1756.2" text-anchor="end" textLength="30.9" lengthAdjust="spacingAndGlyphs">0.00</text>
<text x="54.8" y="1724.2" text-anchor="end" textLength="30.9" lengthAdjust="spacingAndGlyphs">0.25</text>
<text x="54.8" y="1692.2" text-anchor="end" textLength="30.9" lengthAdjust="spacingAndGlyphs">0.50</text>
<text x="54.8" y="1660.2" text-anchor="end" textLength="30.9" lengthAdjust="spacingAndGlyphs">0.75</text>
<text x="54.8" y="1628.2" text-anchor="end" textLength="30.9" lengthAdjust="spacingAndGlyphs">1.00</text>
<text x="54.8" y="1596.2" text-anchor="end" textLength="30.9" lengthAdjust="spacingAndGlyphs">1.25</text>
<text x="54.8" y="1564.2" text-anchor="end" textLength="30.9" lengthAdjust="spacingAndGlyphs">1.50</text>
<text x="54.8" y="1532.2" text-anchor="end" textLength="30.9" lengthAdjust="spacingAndGlyphs">1.75</text>
<text x="633.5" y="1805.8" text-anchor="middle" textLength="49.0" lengthAdjust="spacingAndGlyphs">minute</text>
<rect x="978.8" y="1527.4" width="216.7" height="25.2" rx="2.8" ry="2.8" fill="#ffffff" fill-opacity="0.8" stroke="#cccccc" stroke-opacity="0.8" stroke-width="1.11"/>
<path d="M984.4 1538.6h27.78" stroke="#1f77b4" stroke-width="2.08" stroke-dasharray="7.71 3.33" fill="none"/>
<path d="M997.0 1539.0l1.3 1.6l1.3 -1.6z" fill="#1f77b4"/>
<text x="1027.9" y="1544.3" textLength="161.1" lengthAdjust="spacingAndGlyphs">Ws_E14_drain_rate_ma</text>
<path d="M116.5 1817.5V2061.5M260.5 1817.5V2061.5M403.5 1817.5V2061.5M547.5 1817.5V2061.5M691.5 1817.5V2061.5M834.5 1817.5V2061.5M978.5 1817.5V2061.5M1122.5 1817.5V2061.5M64.5 2056.5H1202.5M64.5 2017.5H1202.5M64.5 1978.5H1202.5M64.5 1939.5H1202.5M64.5 1900.5H1202.5M64.5 1861.5H1202.5M64.5 1822.5H1202.5" stroke="#b0b0b0" stroke-width="1.11" fill="none"/>
<path d="M116.4 2000.3l.4 .1 1 0 .4 .1 1.1 0 .3 .1 .4 0 .4-1.7 .3 1.8 1.1 0 .3-1.7 .4 1.8 .7 0 .4-1.7 .3 1.8 .4 0 .4-1.7 .3 0 .4 1.8 .3 0 .4 .1 .4 0 .3-1.7 .4 1.7 .3 .1 .4 0 .4-1.7 .7 0 .3 1.8 .4-1.7 .4 1.7 .3-1.7 .4 1.8 .3 0 .4 .1 1.1 0 .3 .1 1.1 0 .4 .1 .7 0 .3 .1 1.1 0 .4 .1 .7 0 .4 .1 1 0 .4-1.7 .4 1.8 .3 0 .4-1.7 .3 0 .4 1.8 .4 0 .3-1.7 .4 1.8 .7 0 .3-1.7 .4 1.8 .4-1.7 .7 0 .3 1.8 .4-1.7 .7 0 .4 .1 .7 0 .4 1.8 .3 0 .4-1.7 .3 1.8 .4 0 .4 .1 .7 0 .3-1.7 .4 1.8 .7 0 .4 .1 .7 0 .3 .1 1.1 0 .4 .1 .7 0 .4 .1 .7 0 .3 .1 1.1 0 .4 .1 .7 0 .4 .1 .7 0 .3 .1 1.1 0 .4 .1 .7 0 .3 .1 .8 0 .3 .1 1.1 0 .4 .1 .3-1.8 .4 1.8 .3-1.7 .4 0 .4 .1 .3 1.8 .4 0 .3-1.7 .4 1.7 .4 .1 .7 0 .3-1.7 .4 1.8 .4-1.7 .3 0 .4 1.8 .3-1.7 .4 1.8 1.1 0 .3 .1 .7 0 .4 .1 .7 0 .4 .1 1.1 0 .3 .1 .7 0 .4 .1 .7 0 .4 .1 .7 0 .4 .1 1 0 .4 .1 .7 0 .4 .1 .7 0 .3 .1 .8 0 .3 .1 1.1 0 .4 .1 .7 0 .3 .1 .4 0 .4-1.7 .3 0 .4 1.8 .3-1.7 .8 0 .3 1.8 .4 0 .3-1.7 .4 0 .3 .1 .4 1.8 .4-1.8 .3 .1 .4 0 .3 1.8 .8 0 .3-1.7 .4 1.8 .3 0 .4 .1 .4 0 .3-1.7 .4 1.8 .3 0 .4-1.7 .7 0 .4 .1 .3 1.7 .4 .1 .4-1.7 .3 1.7 .4-1.7 .3 1.8 .4 0 .4-1.7 .3 0 .4 1.8 .3 .1 .7 0 .4 .1 1.1 0 .3 .1 .8 0 .3 .1 .7 0 .4 .1 .7 0 .4 .1 .7 0 .4 .1 .7 0 .3 .1 .8 0 .3 .1 .7 0 .4 .1 .7 0 .4 .1 .7 0 .3 .1 .8 0 .3 .1 .7 0 .4 .1 .4-1.8 .3 .1 .4 1.7 .3-1.7 .4 1.8 .4 0 .3 .1 .4-1.7 .3 1.7 .4 .1 .4-1.7 .7 0 .3 .1 .7 0 .4 .1 .4 0 .3 1.8 .4 0 .3-1.7 .4 1.8 .4 0 .3-1.7 .4 1.8 .7 0 .4 .1 .7 0 .3 .1 .8 0 .3 .1 .7 0 .4 .1 .7 0 .4 .1 1 0 .4 .1 .7 0 .4 .1 .7 0 .4 .1 .7 0 .3 .1 .8 0 .3 .1 .4 0 .3-1.7 .4 1.7 .4 .1 .3-1.7 .4 1.7 .3 .1 .8 0 .3-1.7 .4 1.8 .7 0 .4 .1 .3 0 .4-1.7 .3 0 .4 1.8 .3 0 .4 .1 .4-1.8 .3 1.8 .4-1.7 .3 1.8 .4-1.8 .4 1.8 .3-1.7 .4 1.8 .7 0 .4 .1 .7 0 .3 .1 1.1 0 .4 .1 1.1 0 .3 .1 .7 0 .4 .1 1.1 0 .3 .1 1.1 0 .4 .1 1 0 .4 .1 1.1 0 .3 .1 1.1 0 .4 .1 1.1 0 .3 .1 1.4 0 .4 .1 1.1 0 .3 .1 1.1 0 .4 .1 1.4 0 .4 .1 .7 0 .4-1.7 .3 1.8 .4-1.8 .3 1.8 .4-1.7 .4 0 .3 1.8 .4 0 .3-1.7 .7 0 .4 1.8 .4-1.8 .3 .1 .7 0 .4 1.8 .7 0 .4 .1 .3-1.8 .4 1.8 .7 0 .4-1.7 .3 0 .4 1.8 .4 0 .3-1.7 .7 0 .4 .1 .4 1.7 .3 0 .4 .1 1 0 .4 .1 1.4 0 .4 .1 1.4 0 .4 .1 1.4 0 .4 .1 1.4 0 .4 .1 1.8 0 .3 .1 1.5 0 .3 .1 1.5 0 .3 .1 1.5 0 .3 .1 1.8 0 .4 .1 1.4 0 .4 .1 .4-1.8 .3 1.8 .4-1.7 .3 0 .4 1.7 .3-1.7 .8 0 .3 .1 .4 1.7 .3 .1 .4-1.8 .4 1.8 .3-1.7 .4 0 .3 1.7 .4 .1 .4 0 .3-1.8 .4 .1 .7 0 .4 1.8 .7 0 .3-1.7 .4 0 .4 1.8 .3 0 .4-1.8 .3 0 .4 1.8 .3 0 .4 .1 .7 0 .4-1.7 .7 0 .4 1.8 .3-1.8 .4 1.8 .3-1.7 .4 0 .4 1.7 .3 .1 .4 0 .3-1.8 .4 1.8 .4-1.7 .3 1.7 .4 .1 1.8 0 .3 .1 2.2 0 .3 .1 1.8 0 .4 .1 1.8 0 .4 .1 1.8 0 .3 .1 1.8 0 .4 .1 2.1 0 .4 .1 1.8 0 .3 .1 1.8 0 .4 .1 2.2 0 .3 .1 2.2 0 .3 .1 1.5 0 .3-1.7 .7 0 .4 1.8 1.1 0 .3-1.7 .4 1.7 .4-1.7 .3 1.8 2.2 0 .3-1.7 .7 0 .4 1.8 .4-1.8 .7 0 .3 .1 1.5 0 .3 1.8 .4 0 .4-1.8 .7 0 .3 1.8 .8 0 .3-1.7 .4 0 .3 1.7 .4-1.7 .4 1.8 5 0 .3 .1 6.5 0 .4 .1 8.2 0 .4 .1 7.5 0 .4 .1 1.8 0 .3-1.8 .4 1.8 .4 0 .3-1.8 .4 1.8 .3-1.7 1.1 0 .4 1.7 .3 0 .4-1.7 .4 0 .3 1.8 1.5 0 .3-1.8 .4 1.8 .3 0 .4-1.7 .4 0 .3 1.7 .4 0 .3 .1 .4 0 .4-1.8 .3 1.8 .7 0 .4-1.8 .3 1.8 .4-1.7 .4 1.7 .3 0 .4 .1 .7 0 .4-1.8 .3 1.8 .7 0 .4-1.7 .4 1.8 .3-1.8 .4 0 .3 1.8 .8 0 .3-1.7 .7 0 .4 1.8 .7 0 .4 .1 1.4 0 .4 .1 1.4 0 .4 .1 1.4 0 .4 .1 1 0 .4 .1 1.1 0 .3 .1 1.1 0 .4 .1 1.4 0 .4 .1 1 0 .4 .1 1.1 0 .3 .1 1.1 0 .4 .1 1.1 0 .3 .1 1.1 0 .4 .1 1 0 .4 .1 .7 0 .4-1.7 .3 1.8 .4-1.8 .3 1.8 .4-1.7 .4 1.8 .3 0 .4-1.7 .3 1.7 .4-1.7 .4 1.8 .3 0 .4-1.7 .7 0 .4 1.8 .3-1.7 1.1 0 .4 1.8 .3-1.7 .4 0 .3 1.8 1.5 0 .3-1.7 .4 1.8 1.4 0 .4 .1 1.4 0 .4 .1 1.8 0 .3 .1 1.8 0 .4 .1 1.8 0 .3 .1 1.8 0 .4 .1 .4-1.8 .3 1.8 .4 0 .3-1.7 .8 0 .3 1.8 1.1 0 .4-1.7 .3 0 .4 1.8 1.8 0 .3 .1 .4-1.8 .3 0 .4 1.8 1.1 0 .3 .1 2.2 0 .4 .1 2.1 0 .4 .1 1.1 0 .3-1.7 .4 0 .3 1.7 .4 .1 .3-1.8 .4 1.8 .4-1.8 .3 1.8 .4-1.7 .3 1.7 .4-1.7 1.1 0 .3 1.8 .4-1.7 1.1 0 .3 1.8 .4 0 .4-1.8 .3 .1 .4 1.7 .3-1.7 .4 0 .4 1.8 .7 0" fill="none" stroke="#1f77b4" stroke-width="2.90" stroke-linejoin="round" clip-path="url(#c6)" />
<path d="M579.2 2039.3l.3 .3 .4 .2 .3 .3 .4 .2 .4 .2 .3 .2 .4 .3 .3 .2 .4 .2 .4 .2 .3 .2 .4 .2 .3 .2 .4 .1 .3 .2 .4 .2 .4 .1 .3 .2 .4 .1 .3 .2 .4 .1 .4 .1 .3 .2 .4 .1 .3 .1 .4 .2 .4 .1 .3 .1 .4 .1 .3 .1 .4 .1 .4 .1 .3 .1 .4 .1 .3 .1 .4 0 .4 .1 .3 .1 .7-3.3 .5-7.8 .2-10.7" fill="none" stroke="#1f77b4" stroke-width="2.90" stroke-linejoin="round" clip-path="url(#c6)"/>
<path d="M595.3 1842.8l.4-.8 .3 .2 .4 2.1 .4 .3 .3-1.5 .4 2 .3 .4 .4-1.5 .4 2.1 .3-1.4 .4 2 .3 .4 .4-1.5 .4 2.1 .3 .3 .4 .3 .3-1.4 .4 2 .4 .3 .3-1.5 .4 2 .3 .2 .4 .2 .4-1.6 .3 .2 .4 .2 .3 .2 .4 1.9 .3 .2 .4 .1 .4 .2 .3 .1 .4 .2 .3 .1 .4-1.6 .4 1.9 .3 .1 .4 .2 .3 .1 .4-1.6 .4 1.9 .3 .1 .4 .2 .3-1.6 .4 1.9 .4 .1 .3-1.6 .4 1.9 .3-1.5 .4 1.9 .4 .2 .3-1.6 .4 .2 .3 2 .4-1.6 .3 2 .4 .2 .4-1.6 .3 .2 .4 2 .3-1.5 .4 2 .4-1.6 .3 .2 .4 .3 .3 .2 .4 .2 .4 2 .3 .2 .4 .2 .3-1.6 .4 2 .4 .2 .3-1.6 .4 2 .3 .2 .4 .1 .4-1.5 .3 .1 .4 .2 .3 .2 .4 1.9 .3 .2 .4-1.6 .4 1.9 .3 .1 .4-1.6 .3 1.9 .4-1.6 .4 .2 .3 .1 .4 1.9 .3 .2 .4 .1 .4-1.6 .3 .2 .4 .1 .3 .2 .4 1.9 .4 .1 .3-1.6 .4 1.9 .3 .2 .4-1.6 .4 1.9 .3-1.6 .4 .1 .3 2 .4-1.7 .3 1.9 .4-1.6 .4 1.9 .3 .2 .4 .1 .3-1.6 .4 .2 .4 .1 .3 1.9 .4 .2 .3 .1 .4-1.6 .4 1.9 .3 .2 .4 .1 .3 .2 .4 .2 .4 .1 .3-1.6 .4 .2 .3 1.9 .4-1.6 .4 2 .3 .2 .4-1.6 .3 .2 .4 .2 .4 .2 .3 2 .4 .2 .3 .2 .4 .2 .3-1.5 .4 2 .4-1.5 .3 2 .4 .2 .3 .2 .4-1.5 .4 .3 .3 .2 .4 2 .3 .2 .4 .3 .4-1.5 .3 2 .4 .2 .3 .2 .4-1.5 .4 2 .3-1.5 .4 1.9 .3-1.5 .4 .2 .4 2 .3 .2 .4-1.5 .3 1.9 .4-1.5 .3 2 .4 .2 .4 .2 .3-1.5 .4 .2 .3 .2 .4 2 .4-1.5 .3 .2 .4 .2 .3 2 .4 .2 .4 .2 .3 .3 .4-1.6 .3 .3 .4 .2 .4 .3 .3 2 .4 1 .3-3.4 .4 1.1 .4 2.1 .3-2.8 .4 3.1 .3 .9 .4-1.6 .3-1 .4 5.2 .4-4.8 .3 2.6 .4-2.3 .3 5.7 .4 .7 .4-6.3 .3 2.4 .4-.8 .3 2.2 .4-1.2 .4 2.1 .3-1.2 .4 .6 .3 1.5 .4-1.9 .4 .3 .3-.1 .4 .2 .3 .5 .4-2.5 .4 2 .3-1.2 .4 .9 .3 .9 .4 .9 .3-2.1 .4 2.4 .4-2.6 .3-.6 .4 1.9 .3 1.7 .4 .2 .4-.8 .3 .6 .4-2.6 .3 3.3 .4-3.7 .4 2.6 .3 2 .4-1.6 .3 2.3 .4-.2 .4 .5 .3-.7 .4-.6 .3 2.6 .4-1.1 .4-1.3 .3 4.5 .4-.9 .3-1.5 .4 1.2 .3 .5 .4-.2 .4 .7 .3 3.7 .4-1 .3 .6 .4-2 .4 3.3 .3 0 .4-1.1 .3 .1 .4 1.4 .4-.2 .3 .2 .4 1 .3 .8 .4-.6 .4-.9 .3 .6 .4 2.2 .3 2.3 .4-1 .4 1.1 .3 .7 .4-1.3 .3-.6 .4 2.9 .3-1.2 .4 .2 .4 2.1 .3 .8 .4-3 .3 1.3 .4 1.3 .4 1.9 .3-.3 .4-.2 .3 .6 .4 .4 .4 .2 .3 1.8 .4-1 .3 1.3 .4-1.6 .4 2.1 .3-2.4 .4 1.4 .3 1.9 .4-1.8 .4 .9 .3 1.2 .4 1.2 .3 .1 .4-1.6 .4 2 .3 .3 .4-2.3 .3 4 .4-1.6 .3-3 .4 2.3 .4 2.4 .3-1.1 .4 0 .3 1.5 .4 .6 .4 1.2 .3-2.5 .4 .9 .3 3 .4 .6 .4-1.3 .3 .9 .4-1.8 .3 3.3 .4-1.1 .4 1.3 .3 1.1 .4-1.8 .3-.8 .4 .1 .4 1.2 .3 2.7 .4-2.9 .3 .6 .4 3.3 .3-1.6 .4 1.8 .4-.7 .3 .1 .4 2.9 .3-1 .4-.2 .4 0 .3 1.9 .4-1.7 .3 2 .4-1.6 .4 2.9 .3-2.5 .4 3.6 .3 1.5 .4-2.6 .4 1.1 .3 4.2 .4-.2 .3 1.1 .4-1.6 .4-1.9 .3 3.5 .4-.6 .3-.5 .4 .3 .3 .1 .4 1.1 .4 .7 .3-1.2 .4 0 .3 2.7 .4-1.8 .4 1.7 .3-.2 .4-.7 .3 2.6 .4 .5 .4-.6 .3-.9 .4 1.8 .3-1.8 .4 4.1 .4-.5 .3-1.6 .4 1.2 .3 2.7 .4-.6 .4-.9 .3-.6 .4 1.1 .3 1.1 .4-1.1 .3 3.5 .4 0 .4-.5 .3-.1 .4-1.5 .3 2.6 .4 .6 .4-.9 .3-.3 .4 3.3 .3-2.4 .4 1.4 .4 2.8 .3-.6 .4-.7 .3 .3 .4 3.3 .4-4.9 .3 1.8 .4 .4 .3 .2 .4 .5 .4-.3 .3 2.4 .4 1.4 .3-1 .4-1 .4 3 .3-.8 .4-1.3 .3 2.5 .4-2.2 .3 3.2 .4 .5 .4-3 .3 2.3 .4 .4 .3-.9 .4 2.5 .4 .2 .3-.7 .4 .3 .3 .4 .4-.1 .4 .4 .3 .9 .4-.4 .3-.7 .4 1.4 .4 2.5 .3-2.4 .4 4.9 .3-4.4 .4 2.2 .4 1.4 .3-2.7 .4 2.5 .3-.9 .4 2 .3-1.2 .4 1.2 .4-.7 .3-.8 .4 2.4 .3 0 .4 1.2 .4 .8 .3-1.4 .4 2.5 .3 .1 .4-1.6 .4 2.2 .3-.9 .4-.3 .3 4.5 .4-4.9 .4 4.7 .3-2.5 .4 1.2 .3-.7 .4 1.9 .4 .3 .3 2.2 .4-4.2 .3 3 .4-.3 .3 1.9 .4-3.3 .4 2.7 .3 1.8 .4 .9 .3-1.4 .4 1.1 .4-1.7 .3 .7 .4 .7 .3-.1 .4-.4 .4 3.5 .3-2.8 .4 .6 .3 3.6 .4-2.2 .4 1.8 .3-1.6 .4 .8 .3 1.7 .4-.5 .4 1 .3-2.2 .4 3.8 .3-.1 .4-3.2 .3 2.4 .4 .2 .4-.8 .3 2.6 .4 2 .3-.4 .4-3.8 .4 4.6 .3-.3 .4-2.1 .3 1.5 .4-.2 .4-.1 .3 .3 .4 2.5 .3-3.5 .4 3.8 .4-2.4 .3 1.6 .4 .5 .3-1.2 .4 1.8 .4-1.9 .3 1 .4-.4 .3 2.2 .4-.8 .3-.3 .4 2.4 .4-.5 .3-.2 .4-.9 .3 1 .4 1.5 .4-1.4 .3 3.1 .4-1.7 .3 1.9 .4-3.3 .4 2.2 .3-.9 .4-.1 .3 2.6 .4 .1 .4-1.8 .3 2.7 .4 .6 .3 .9 .4-.8 .4-1 .3 0 .4 1.1 .3 2.3 .4-2.2 .3 4.1 .4-2.6 .4-.6 .3-.5 .4 1.6 .3-.2 .4 3.7 .4-2.1 .3 2 .4-1.5 .3 .6 .4 1.4 .4 1 .3 .8 .4-4.1 .3 4.5 .4-2.6 .4 1 .3 2.8 .4 .8 .3 .7 .4-.5 .4 0 .3-1.9 .4 1.8 .3 .2 .4 1.7 .4-1.5 .3 1.7 .4-.7 .3 3.8 .4-1.9 .3-.7 .4 1.4 .4 1.6 .3-3 .4-1.1 .3 3.4 .4-2.3 .4 1.8 .3-1.4 .4 3 .3-.3 .4 1.3 .4-1.4 .3-.8 .4 .9 .3-1 .4 3.1 .4-3.6 .3 1.2 .4 .1 .3 2 .4 .1 .4 .2 .3 .1 .4 .1 .3 .2 .4-1.6 .3 .1 .4 1.9 .4-1.6 .3 .1 .4 1.9 .3 .1 .4 .1 .4 .2 .3-1.7 .4 .1 .3 .2 .4 1.8 .4 .1 .3-1.6 .4 .1 .3 1.9 .4-1.7 .4 1.9 .3-1.7 .4-.7 .3 3.4 .4-2.3 .4 1.6 .3 .1 .4 .1 .3 .1 .4-1.5 .3 .1 .4 .1 .4 0 .3 .1 .4 .1 .3 0 .4 .1 .4 .1 .3 1.6 .4-1.5 .3 .1 .4 1.6 .4 0 .3 .1 .4-1.5 .3 1.6 .4 .1 .4 0 .3 .1 .4-1.5 .3 1.6 .4-1.5 .4 1.6 .3 .1 .4-1.5 .3 .1 .4 1.6 .3 .1 .4-1.5 .4 1.6 .3 .1 .4 0 .3 .1 .4-1.5 .4 .1 .3 .1 .4 1.6 .3-.7 .4 .1 .4 .1 .3 .1 .4 0 .3 .1 .4 .1 .4-.7 .3 .1 .4 1.6 .3-1.5 .4 1.7 .4-1.5 .3 1.6 .4-1.5 .3 1.7 .4-1.5 .3 1.6 .4-1.5 .4 1.7 .3-1.5 .4 1.6 .3-1.5 .4 .1 .4 0 .3 .1 .4 .1 .3 1.6 .4-1.5 .4 0 .3 1.7 .4-1.5 .3 0 .4 1.6 .4 .1 .3 0 .4-.7 .3 0 .4 .1 .4 0 .3 .1 .4 .8 .3 .1 .4 0 .4-1.5 .3 1.6 .4 0 .3-1.5 .4 .1 .3 1.6 .8 0 .3 .1 .4-1.5 .7 0 .4 1.6 .3 .1 .4 0 .3-1.5 .4 0 .4 .1 .3 1.6 .4-1.6 .3 .1 .4 0 .4 .1 .3 1.6 .4-1.6 .3 1.6 .4 .1 .4-.8 .3 .1 .7 0 .4 .1 .3 0 .4-.7 .4 1.6 .3 0 .4-1.5 .3 1.6 .4-1.5 .4 1.6 .3 0 .4 .1 .3-1.6 .4 .1 .4 1.6 .3 0 .4 .1 .3 0 .4-1.5 .4 0 .3 1.6 .4 .1 .3-1.5 .4 0 .4 .1 .3 0 .4 .1 .3 1.6 .4-1.5 .3 1.6 .4-1.5 .4 0 .3 .1 .4 1.6 .3-1.5 .4 .1 .4 1.6 .3 .1 .4-1.5 .3 0 .4 1.6 .4-1.5 .3 1.7 .4 0 .3-1.5 .4 1.7 .4-1.5 .3 0 .4 1.7 .3 0 .4 .1 .4 .1 .3 0 .4-1.5 .3 .1 .4 1.6 .3 .1 .4-1.5 .4 .1 .3 1.6 .4-1.5 .3 .1 .4 0 .4 .1 .3 1.6 .4-1.5 .3 1.7 .4 0 .4-1.5 .3 .1 .4 .9 .3 0 .4 .1 .4 .1 .3 0 .4 .1 .3 .1 .4 0 .4 .1 .3 0 .4 .1 .3 .1 .4 0 .3-.7 .4 .1 .4 0 .3 .1 .4 0 .3 .1 .4 .1 .4 0 .3 .1 .4 1.6 .3-1.5 .4 0 .4 .1 .3 0 .4 1.6 .3 .1 .4 0 .4 .1 .3-1.5 .4 0 .3 .1 .4 0 .4 .1 .3 0 .4 .1 .3 0 .4 .8 .4 .1 .3 0 .4 .1 .3 0 .4 .1 .3 0 .4 .1 .4 0 .3 .1 .7 0 .4 .1 .4 0 .3 .1 .4 0 .3 .1 .4 0 .4 .1 .3-.8 .4 .1 .3 0 .4 1.6 .4-1.5 .3 0 .4 1.6 .3-1.5 .4 .1 .4 1.6 .3 0 .4-1.5 .3 1.6 .4 0 .3 .1 .4 0 .4 .1 .3-1.6 .4 .1 .3 0 .4 1.6 .4 .1 .3 0 .4-1.5 .3 1.6 .4 0 .4-1.5 .3 1.6 .4 0 .3-.7 .4 0 .4 .1 .7 0 .3 .1 .8 0 .3 .1 .4 0 .3 .1 .7 0 .4 .1 .7 0 .4 .1 .7 0 .4 .9 .3 0 .4-1.5 .3 1.6 .4-1.6 .4 1.6 .3 .1 .4-1.6 .3 1.6 .4 .1 .7 0 .4-1.5 .3 0 .4 .1 .4 1.6 .3 0 .4-1.5 .3 0 .4 1.6 .3 0 .4-1.5 .4 1.6 .7 0 .3-1.5 .4 1.6 .4-1.5 .3 0 .4 1.6 .3-1.5 .4 0 .4 1.6 .3-1.6 .4 .1 .7 0 .4 1.6 .3 0 .4-.7 .3 0 .4 .1 1.1 0 .3 .1 .8 0 .3 .8 .4-1.5 .3 0 .4 1.6 .3-1.5 .4 1.6 .4-1.6 .3 .1 .4 0 .3 1.6 .4 0 .4-1.5 .7 0 .3 1.6 .4-1.5 .4 1.6 .3-1.6 .4 1.6 .3 0 .4-1.5 .4 0 .3 1.6 .4-1.5 .7 0 .4 .1 .3 1.6 .4 0 .3-1.6 .4 1.6 .3 .1 .4-1.6 .4 0 .3 1.6 .4 .1 .7 0 .4-1.5 .3 .8 .7 0 .4 .1 1.1 0 .3 .1 1.1 0 .4 .1 1.1 0 .3 .1 1.1 0 .3 .1 .8 0 .3 .1 .7 0 .4-.7 1.1 0 .3 .1 .4 1.5 .4-1.5 .3 1.6 .4 0 .3-1.5 .4 1.6 .4-1.6 .3 .1 .4 1.6 .7 0 .4-1.5 .3 1.6 .4-1.6 .3 .1 .4 1.6 .3-1.6 .4 1.6 .4 0 .3 .1 .4 0 .3-1.5 .4 0 .4 1.6 .3-1.6 .4 .1 .3 0 .4 1.6 .7 0 .4-1.5 .3 0 .4 .1 .7 0 .4 .1 1.1 0 .3 1.6 .4 .1 .3-1.6 .4 1.6 .3 0 .4-.7 .4 0 .3 .1 1.1 0 .4 .1 .7 0 .3 .1 1.1 0 .4 .1 .7 0 .4 .1 1 0 .4 .1 .7 0 .4 .1 1 0 .4 .1 .4 .8 .3-1.5 .4 1.5 .3 .1 .4 0 .4-1.5 .7 0 .3 1.6 .4 0 .4 .1 .3 0 .4-1.5 .7 0 .4 .1 .7 0 .3 1.6 .4-1.5 .4 1.6 .7 0 .3-1.5 .4 1.6 .7 0 .4-1.5 .3 1.6 .4-1.5 .7 0 .4 .8 .3 .1 1.1 0 .4 .1 .7 0 .3 .1 1.1 0 .4 .1 .7 0 .4 .1 1 0 .4 .1 .7 0 .4 .1 1 0 .4 .1 .7 0 .4-.7 .3 1.6 .4-1.6 .4 1.6 .3 .1 .4-1.6 .3 0 .4 1.6 .4 .1 .3-1.6 .4 .1 .7 0 .4 1.6 .3 0 .4-1.5 .3 1.6 .4-1.5 .4 1.5 .3-1.5 .4 1.6 .3-1.5 .7 0 .4 1.6 .4-1.5 .7 0 .3 1.6 .4-1.5 .4 1.6 .3 0 .4-1.5 .3 0 .4 1.6 .4 0 .3-1.5 .4 1.6 .3-1.6 .4 .1 .4 0 .3 1.6 .7 0 .4-1.5 .4 0 .3 1.6 .4-1.5 .7 0 .3 1.6 .4 .1 .4 0 .3-1.5 .4 1.5 .3 .1 .4 0 .4-1.5 .3 .8 .7 0 .4 .1 1.1 0 .3 .1 .8 0 .3 .1 1.1 0 .4 .1 .7 0 .3 .1 1.1 0 .4 .1 1 0 .4 .1 .7 0 .4 .1 1.1 0 .3 .1 1.1 0 .4 .1 .3 0 .4-.8 .3 .1 .4 1.6 .4-1.6 .3 1.6 .4 0 .3-1.5 .4 0 .4 1.6 .3-1.5 .4 1.6 .3-1.6 .4 .1 1.1 0 .3 1.6 .4 .1 .3 0 .4-1.6 .4 .1 .3 1.6 .4 0 .3-1.6 .4 1.6 .4-1.5 .3 0 .4 1.6 .3-1.5 .4 0 .4 1.6 1 0 .4 .1 .4-1.6 .3 0 .4 .1 .3 1.6 .4-1.6 .3 0 .4 .1 .7 0 .4 1.6 .3-1.6 .4 .1 .4 0 .3 1.6 .4-1.6 .3 .1 .4 1.5 .4 .1 .3 0 .4-1.6 .3 .1 .4 1.5 .4 .1 .3-1.6 .4 0 .3 .1 .4 1.5 .4 .1 .3-1.6 .4 .8 .3 0 .4 .1 1.4 0 .4 .1 1.4 0 .4 .1 1.4 0 .4 .1 1.8 0 .3 .1 1.5 0 .3 .1 1.5 0 .3 .1 1.5 0 .3 .1 1.8 0 .4 .1 .7 0 .4-.8 .3 1.6 .4 0 .3-1.5 .4 1.6 .4 0 .3-1.6 .4 1.6 .3 0 .4-1.5 .3 1.6 .4-1.6 .4 1.6 .7 0 .3 .1 .8 0 .3-1.6 .4 1.6 .3 0 .4-1.5 .4 1.6 .3-1.6 .4 1.6 .3 0 .4-1.5 .7 0 .4 1.6 .7 0 .4-1.5 .3 1.5 .4-1.5 .3 1.6 .4-1.6 .4 0 .3 1.6 .4 0 .3-1.5 1.1 0 .4 1.6 .3 0 .4-1.5 .3 0 .4 1.6 .4 0 .3-1.6 .4 0 .3 .1 .4 1.5 .4 0 .3-1.5 .4 0 .3 1.6 .4-1.6 .4 1.6 .3-1.5 .4 1.5 .3 0 .4-1.5 1.1 0 .3 1.6 1.1 0 .4-1.5 .3 0 .4 1.6 .3-1.6 .4 .8 1.1 0 .3 .1 3.3 0 .3 .1 3.3 0 .3 .1 4 0 .3 .1 4 0 .3 .8 .4-1.5 .4 0 .3 1.6 .4 0 .3-1.6 1.1 0 .4 1.6 .3 0 .4-1.6 .4 1.6 .3-1.5 .4 1.5 .3 0 .4-1.5 .4 1.5 .3-1.5 .4 1.6 .3-1.6 .4 1.6 .7 0 .4-1.6 .3 1.6 .8 0 .3-1.6 .4 0 .3 1.6 .4-1.5 1.1 0 .3 1.5 .4 0" fill="none" stroke="#1f77b4" stroke-width="2.90" stroke-linejoin="round" clip-path="url(#c6)"/>
<path d="M594.2 2023.4l1.1-180.6" fill="none" stroke="#1f77b4" stroke-width="1.60" stroke-linejoin="round" clip-path="url(#c6)" stroke-dasharray="7.71 3.33"/>
<path d="M116.4 2000.3l.4 .1 1 0 .4 .1 1.1 0 .3 .1 .4-1.8 .4 1.8 .3-1.7 .4 0 .3 1.8 .4 0 .3 .1 .4 0 .4-1.7 .3 1.7 .4-1.7 .3 1.8 .4 0 .4-1.7 .3 1.8 .7 0 .4 .1 .4 0 .3-1.7 .4 0 .3 1.8 .4 0 .4-1.7 .3 1.7 .4-1.7 .3 0 .4 1.8 .4 0 .3-1.7 .4 1.8 .3 0 .4 .1 1.1 0 .3 .1 1.1 0 .4 .1 .7 0 .3 .1 1.1 0 .4 .1 .7 0 .4 .1 1 0 .4-1.7 .4 0 .3 1.8 .4 0 .3-1.7 .4 1.8 .4-1.7 .3 1.8 1.1 0 .3 .1 .4-1.8 .4 1.8 .3 .1 .4-1.8 .3 1.8 .4 0 .4 .1 .3-1.8 .4 1.8 .3-1.7 .4 0 .4 1.8 .3 0 .4-1.7 .3 .1 .4 0 .4 1.8 .3-1.8 .4 1.8 .3 .1 .8 0 .3-1.7 .4 1.8 .7 0 .3 .1 1.1 0 .4 .1 .7 0 .4 .1 .7 0 .3 .1 1.1 0 .4 .1 .7 0 .4 .1 .7 0 .3 .1 1.1 0 .4 .1 .7 0 .3 .1 .8 0 .3 .1 1.1 0 .4-1.7 .3 0 .4 1.8 .3-1.7 .4 0 .4 .1 .7 0 .3 .1 .4 1.7 .4-1.7 .3 1.8 .4-1.7 .3 1.8 .4-1.8 .4 1.8 .3-1.7 .4 1.8 .3 0 .4 .1 1.1 0 .3 .1 .7 0 .4 .1 .7 0 .4 .1 1.1 0 .3 .1 .7 0 .4 .1 .7 0 .4 .1 .7 0 .4 .1 1 0 .4 .1 .7 0 .4 .1 .7 0 .3 .1 .8 0 .3 .1 1.1 0 .4 .1 .7 0 .3 .1 .8 0 .3 .1 .4 0 .3-1.7 .8 0 .3 .1 .4 0 .3 1.8 .4-1.8 .3 1.8 .4 .1 .4-1.8 .3 .1 .4 1.8 .3-1.8 .4 1.8 .4 0 .3 .1 .7 0 .4 .1 .7 0 .4-1.7 .3 1.8 .4-1.7 .4 0 .3 1.8 .7 0 .4 .1 .4-1.7 .3 1.7 .4 .1 .3-1.8 .4 1.8 .4 .1 .3-1.8 .4 1.8 .3 .1 .7 0 .4 .1 1.1 0 .3 .1 .8 0 .3 .1 .7 0 .4 .1 .7 0 .4 .1 .7 0 .4 .1 .7 0 .3 .1 .8 0 .3 .1 .7 0 .4 .1 .7 0 .4 .1 .7 0 .3 .1 .8 0 .3 .1 .7 0 .4 .1 .4-1.8 .3 1.8 .4-1.7 .3 1.8 .4-1.7 .4 1.7 .3 .1 .4-1.7 .3 1.7 .4 .1 .4-1.7 .3 1.7 .4 .1 .3-1.7 .4 1.7 .3-1.7 .4 .1 .7 0 .4 1.8 .3 0 .4 .1 .4-1.8 .3 .1 .4 0 .3 1.8 .4 0 .4 .1 .7 0 .3 .1 .8 0 .3 .1 .7 0 .4 .1 .7 0 .4 .1 1 0 .4 .1 .7 0 .4 .1 .7 0 .4 .1 .7 0 .3 .1 .8 0 .3 .1 .4 0 .3-1.7 .8 0 .3 1.8 .4 0 .3 .1 .4-1.8 .4 1.8 .3 .1 .4-1.8 .3 1.8 .4-1.7 .4 0 .3 .1 .4 0 .3 1.8 .4-1.8 .3 .1 .4 0 .4 1.8 .3 0 .4-1.7 .3 1.8 .4 0 .4-1.7 .3 1.8 1.1 0 .4 .1 .7 0 .3 .1 1.1 0 .4 .1 1.1 0 .3 .1 .7 0 .4 .1 1.1 0 .3 .1 1.1 0 .4 .1 1 0 .4 .1 1.1 0 .3 .1 1.1 0 .4 .1 1.1 0 .3 .1 1.4 0 .4 .1 1.1 0 .3 .1 1.1 0 .4 .1 1.4 0 .4 .1 .3 0 .4-1.7 .4 0 .3 1.8 .4-1.8 .3 1.8 .4-1.7 .4 0 .3 1.8 .7 0 .4-1.7 .3 0 .4 1.8 .7 0 .4-1.7 .7 0 .4 .1 .3 1.7 .4 .1 .3-1.8 .4 0 .4 1.8 .3-1.7 .4 0 .3 1.8 .4-1.8 .4 .1 .3 0 .4 1.8 .3-1.8 .4 .1 .4 0 .3 1.7 .4 .1 1 0 .4 .1 1.4 0 .4 .1 1.4 0 .4 .1 1.4 0 .4 .1 1.4 0 .4 .1 1.8 0 .3 .1 1.5 0 .3 .1 1.5 0 .3 .1 1.5 0 .3 .1 1.8 0 .4 .1 1.4 0 .4 .1 .4-1.8 .3 1.8 .7 0 .4-1.7 .3 0 .4 1.8 1.1 0 .3-1.7 .4 1.8 1.4 0 .4-1.7 .4 1.8 .3 0 .4-1.7 .3 1.7 .4-1.7 .4 1.8 .3-1.8 .4 1.8 .3-1.7 .4 0 .4 1.8 .7 0 .3-1.8 .4 .1 .3 0 .4 1.8 .4-1.8 .3 1.8 .4-1.7 .3 1.7 .4 0 .4-1.7 .3 1.8 .7 0 .4-1.7 1.4 0 .4 .1 .4 1.7 .3 0 .4 .1 1.8 0 .3 .1 2.2 0 .3 .1 1.8 0 .4 .1 1.8 0 .4 .1 1.8 0 .3 .1 1.8 0 .4 .1 2.1 0 .4 .1 1.8 0 .3 .1 1.8 0 .4 .1 2.2 0 .3 .1 2.2 0 .3 .1 1.1 0 .4-1.7 .3 1.7 .4 0 .3-1.7 .4 0 .4 1.8 .3-1.8 .4 0 .3 1.8 .4 0 .4-1.7 .3 0 .4 1.8 .3 0 .4-1.8 .4 1.8 .3 0 .4-1.7 .3 1.7 .4-1.7 .3 1.8 .4 0 .4-1.8 .3 1.8 .4 0 .3-1.7 .4 0 .4 1.7 .3-1.7 .4 0 .3 1.8 .4 0 .4-1.8 .3 1.8 .4-1.8 .3 0 .4 1.8 .4-1.7 1 0 .4 1.7 .4 .1 5 0 .3 .1 6.5 0 .4 .1 8.2 0 .4 .1 7.5 0 .4 .1 2.1 0 .4-1.8 .4 1.8 1 0 .4-1.7 .4 1.7 .7 0 .3-1.7 .4 0 .4 1.8 1 0 .4-1.8 .7 0 .4 1.8 .3 0 .4-1.7 .4 1.7 .7 0 .3-1.7 .4 1.8 .4-1.8 .3 0 .4 1.8 .7 0 .3-1.7 .4 1.7 .4 0 .3-1.7 .4 1.8 .3-1.8 .4 0 .4 1.8 .3-1.8 .4 .1 .3 0 .4 1.7 .4-1.7 .3 1.8 .4 0 .3-1.8 .4 .1 .7 0 .4 1.8 1.4 0 .4 .1 1.4 0 .4 .1 1.4 0 .4 .1 1.4 0 .4 .1 1 0 .4 .1 1.1 0 .3 .1 1.1 0 .4 .1 1.4 0 .4 .1 1 0 .4 .1 1.1 0 .3 .1 1.1 0 .4 .1 1.1 0 .3 .1 1.1 0 .4 .1 .3 0 .4-1.7 .7 0 .3 1.8 .8 0 .3-1.7 .4 1.8 .3 0 .4-1.7 .4 0 .3 1.8 .4-1.7 .3 0 .4 1.8 .4-1.8 .3 0 .4 1.8 .3 0 .4 .1 .4-1.8 .3 1.8 .4-1.7 .3 0 .4 1.8 .4-1.8 .3 1.8 .4-1.7 .3 1.8 .4-1.8 .4 1.8 .3-1.7 .4 0 .3 1.8 1.8 0 .4 .1 1.4 0 .4 .1 1.8 0 .3 .1 1.8 0 .4 .1 1.8 0 .3 .1 1.8 0 .4 .1 .7 0 .4-1.8 .3 1.8 .4-1.7 .4 1.7 .3 .1 .4-1.8 .3 1.8 .4-1.7 1.4 0 .4 1.8 .7 0 .4-1.7 .3 0 .4 1.8 1.8 0 .3 .1 2.2 0 .4 .1 2.1 0 .4 .1 2.1 0 .4 .1 .7 0 .4-1.8 .3 .1 .4 1.7 .3 0 .4-1.7 .4 0 .3 1.8 1.1 0 .4-1.7 .3 1.7 .4 .1 .3 0 .4-1.8 .4 1.8 .3 0 .4-1.7 .3 0 .4 1.8 1.1 0" fill="none" stroke="#ff7f0e" stroke-width="2.90" stroke-linejoin="round" clip-path="url(#c6)" />
<path d="M579.2 2021.8l.3 .2 .4 .3 .3 .2 .4 .2 .4 .3 .3 .2 .4 .2 .3 .2 .4 .2 .4 .2 .3 .2 .4 .2 .3 .2 .4 .2 .3 .1 .4 .2 .4 .2 .3 .1 .4 .2 .3 .1 .4 .1 .4 .2 .3 .1 .4 .2 .3 .1 .4 .1 .4 .1 .3 .1 .4 .2 .3 .1 .4 .1 .4 .1 .3 .1 .4 0 .3 .1 .4 .1 .4 .1 .3 0 .7-3.3 .5-7.8 .2-10.7" fill="none" stroke="#ff7f0e" stroke-width="2.90" stroke-linejoin="round" clip-path="url(#c6)"/>
<path d="M595.3 1828.7l.4-.2 .3 .3 .4-1.5 .4 .3 .3 .3 .4 2 .3-1.4 .4 .3 .4 2.1 .3-1.4 .4 .3 .3 2.1 .4-1.5 .4 .3 .3 .4 .4 .3 .3 2 .4 .3 .4 .3 .3 .2 .4 .3 .3 .2 .4 .2 .4 .2 .3-1.6 .4 .2 .3 1.9 .4-1.6 .3 .2 .4 1.9 .4 .2 .3 .1 .4 .2 .3-1.7 .4 .2 .4 1.9 .3 .1 .4 .2 .3 .1 .4-1.6 .4 1.9 .3 .1 .4-1.6 .3 1.9 .4-1.6 .4 1.9 .3-1.6 .4 .2 .3 1.9 .4 .2 .4-1.6 .3 .2 .4 2 .3 .2 .4-1.6 .3 .2 .4 2 .4 .2 .3 .2 .4 .2 .3 .2 .4-1.5 .4 .2 .3 2 .4-1.6 .3 2 .4 .2 .4 .2 .3-1.5 .4 2 .3-1.6 .4 .2 .4 .2 .3 .2 .4 .2 .3 .2 .4 1.9 .4-1.5 .3 1.9 .4 .1 .3-1.5 .4 .1 .3 .2 .4 .1 .4 2 .3-1.6 .4 .1 .3 1.9 .4-1.6 .4 1.9 .3 .2 .4 .1 .3-1.6 .4 .2 .4 .1 .3 1.9 .4 .2 .3-1.6 .4 1.9 .4-1.6 .3 1.9 .4-1.6 .3 1.9 .4 .1 .4-1.6 .3 .2 .4 .1 .3 1.9 .4 .2 .3 .1 .4-1.6 .4 1.9 .3-1.6 .4 1.9 .3 .2 .4 .1 .4 .2 .3-1.6 .4 1.9 .3-1.6 .4 1.9 .4-1.6 .3 .1 .4 .2 .3 .1 .4 .2 .4 1.9 .3 .2 .4-1.6 .3 1.9 .4 .2 .4 .2 .3-1.6 .4 2 .3-1.6 .4 2 .4-1.6 .3 2 .4 .2 .3-1.5 .4 .2 .3 2 .4 .2 .4 .2 .3-1.5 .4 .2 .3 2 .4 .3 .4 .2 .3 .2 .4 .3 .3-1.5 .4 2 .4-1.6 .3 2 .4-1.5 .3 2 .4-1.5 .4 2 .3-1.6 .4 .3 .3 1.9 .4-1.5 .4 2 .3-1.6 .4 .3 .3 1.9 .4 .3 .3 .2 .4 .2 .4-1.6 .3 2 .4 .2 .3-1.5 .4 2 .4 .2 .3-1.5 .4 1.9 .3 .3 .4-1.6 .4 .3 .3 1.9 .4 .3 .3-1.5 .4 .2 .4 .2 .3 2 .4 1.1 .3 .8 .4-2.9 .4 2.6 .3-1.9 .4 .9 .3 .3 .4-.6 .3 1.8 .4-.4 .4-1.2 .3 1.2 .4 .4 .3-.2 .4 0 .4 .2 .3 1.5 .4-.7 .3-.1 .4-1.1 .4-1.1 .3 4.2 .4-1.1 .3 1.3 .4 .3 .4-1 .3 .1 .4-.3 .3-.6 .4-1.4 .4 .1 .3 3.9 .4-.1 .3-1.4 .4 1.2 .3 .1 .4-2.3 .4 1.6 .3-1.5 .4 .2 .3 1.9 .4-1 .4 1.9 .3 .3 .4-2.9 .3 3 .4 .5 .4-1.3 .3-.1 .4 0 .3 2.1 .4 .2 .4-.7 .3 2 .4-2 .3-.9 .4 4.9 .4 .1 .3-1.7 .4 2.6 .3-1 .4 1.8 .3-3 .4-.6 .4 4.8 .3 .7 .4-.5 .3-.1 .4 .6 .4 .1 .3 1.7 .4-1.5 .3-.5 .4 .2 .4 .6 .3 3.6 .4-.4 .3 .2 .4 2.1 .4-2.2 .3 .7 .4 2.6 .3-2.8 .4 2.3 .4 .1 .3 1.6 .4-2.4 .3 3.4 .4-.7 .3-.3 .4 1.1 .4 .4 .3-.1 .4 .7 .3 1.2 .4 .2 .4-2.7 .3 2.1 .4 1.9 .3-2.6 .4-.7 .4 2.8 .3 .7 .4-1 .3 .6 .4 .2 .4 1.6 .3-1 .4 .5 .3 .4 .4 .5 .4 1.4 .3 1.9 .4 .8 .3-.9 .4-.7 .4 2.8 .3-2.5 .4-.1 .3-.8 .4 1.7 .3 .2 .4 0 .4 2.5 .3-2.4 .4 .8 .3 3.4 .4 .1 .4-2.2 .3-1.4 .4 1.8 .3-1.6 .4 2.4 .4 1.1 .3-1.2 .4-.1 .3 2.5 .4 .8 .4-.1 .3-.3 .4 2.4 .3-3.9 .4 1.9 .4 1.2 .3 .7 .4 0 .3-1 .4 .9 .3 2.8 .4-1.4 .4 2 .3-1.2 .4 .4 .3 .8 .4-.4 .4 3.6 .3-.5 .4 .1 .3 0 .4-.9 .4 1.5 .3 1 .4 .4 .3-.9 .4 2.6 .4 .8 .3-1.9 .4 .2 .3-.6 .4 1.3 .4 2.3 .3-.5 .4 .2 .3 .1 .4 .2 .3 2.2 .4-.7 .4 0 .3 .6 .4 .4 .3 .2 .4 .7 .4 1 .3 1.9 .4-2.9 .3 1.5 .4 .8 .4-.5 .3 2.3 .4-1.9 .3 2.1 .4-1.2 .4 2.5 .3-2 .4 3.2 .3-.3 .4-.9 .4-.8 .3-.5 .4 5.2 .3-.5 .4-2.5 .3 1.7 .4 1.7 .4-.6 .3-.1 .4-.2 .3 0 .4 .9 .4 1.7 .3-.7 .4 .9 .3 .7 .4 .8 .4-1.7 .3 1.9 .4-1.6 .3 .4 .4 .8 .4-2 .3 3.6 .4 .8 .3-.1 .4-.3 .4 2 .3-2.9 .4 .6 .3 1.5 .4 1.5 .4-1.1 .3 1.9 .4 .7 .3-2.2 .4 1.2 .3 2.1 .4-2.7 .4 3.3 .3-2.2 .4 2.2 .3 .8 .4 1.1 .4-1.5 .3 0 .4-.8 .3 1.3 .4 1.7 .4-1.1 .3 .9 .4 1.5 .3 1.8 .4 1.3 .4-4 .3 .9 .4 1.9 .3-.1 .4-3 .4 2.9 .3 1.4 .4-1.6 .3 .1 .4 3.2 .3-3.2 .4 2.5 .4 1.4 .3 2 .4-3.1 .3 .6 .4 2.3 .4-1.1 .3 1.1 .4-1.7 .3-.1 .4 3.6 .4-2 .3 2.1 .4 0 .3-.4 .4 .4 .4 0 .3 2.6 .4-.1 .3-.8 .4 1.5 .4-.5 .3 1.2 .4 .1 .3-1.7 .4 .1 .3 2.6 .4 .9 .4-.2 .3-2.5 .4 2.9 .3 1.4 .4-2.8 .4 2.6 .3 1.8 .4 .7 .3-1.6 .4-1.6 .4 2.5 .3-3.3 .4 1.6 .3 4.7 .4 .3 .4-.6 .3-.4 .4 .4 .3 .4 .4 .8 .4 1 .3-.7 .4-2.4 .3 3.4 .4 2 .3-.9 .4-1.4 .4 1.5 .3-.7 .4-.2 .3 .4 .4 2.4 .4 .4 .3-1.6 .4 1.4 .3-1.9 .4 2.3 .4 .8 .3-.5 .4-.6 .3 .5 .4 .6 .4 .5 .3 .5 .4 .9 .3-3.1 .4 3.5 .4-.5 .3 .3 .4-2.2 .3 1.9 .4 2.3 .3-1 .4 .9 .4-.5 .3-1.7 .4 2.9 .3-3 .4 1.4 .4 1.2 .3 1.1 .4-.9 .3-.1 .4-.4 .4 2 .3-1.1 .4 1.2 .3-.7 .4 1.8 .4-3.6 .3 3 .4 3 .3-1.1 .4 .5 .4 .7 .3-.5 .4-.8 .3-1.3 .4 2.3 .3 2.1 .4-3.9 .4 4.1 .3 2.2 .4-1.7 .3 1.1 .4 .3 .4-1.4 .3 1.3 .4-1.9 .3 1.9 .4-.1 .4 .9 .3 1 .4 .5 .3-1.4 .4 3 .4 0 .3 .3 .4 1 .3-1.2 .4 .2 .4 1.3 .3 .5 .4-.3 .3 1.6 .4-2.3 .4 .9 .3 2.9 .4-.2 .3-2 .4 1.1 .3 2.1 .4-1 .4 .6 .3 .7 .4-.6 .3 .3 .4-.4 .4 1.1 .3-2.1 .4 2.7 .3-2.8 .4 .3 .4 .9 .3-.5 .4 2.9 .3-2.2 .4 2.1 .4 .7 .3-1.6 .4 1.9 .3 .1 .4 .2 .4 .1 .3-1.6 .4 .2 .3 1.9 .4 .1 .3 .2 .4 .1 .4 .1 .3-1.6 .4 1.9 .3-1.6 .4 1.8 .4-1.6 .3 .1 .4 1.9 .3 .1 .4-1.6 .4 .1 .3 1.8 .4-1.6 .3 1.8 .4 .1 .4-1.6 .3 1.8 .4-.6 .3 1.6 .4-.8 .4-1.4 .3 0 .4 1.7 .3-1.5 .4 1.7 .3-1.5 .4 .1 .4 0 .3 .1 .4 .1 .3 0 .4 1.7 .4-1.5 .3 1.6 .4 0 .3-1.5 .4 1.7 .4 0 .3 .1 .4 0 .3-1.5 .4 .1 .4 0 .3 .1 .4 1.6 .3 .1 .4-1.5 .4 1.6 .3-1.5 .4 1.6 .3-1.5 .4 1.7 .3 0 .4-1.4 .4 1.6 .3-1.5 .4 .1 .3 1.6 .4 .1 .4 .1 .3-1.5 .4 1.6 .3-.7 .4 .1 .4 .1 .3 .1 .4 0 .3 .1 .4 .1 .4 .8 .3-1.4 .4 0 .3 1.7 .4 .1 .4-1.5 .3 1.6 .4 .1 .3-1.5 .4 .1 .3 .1 .4 0 .4 .1 .3 1.6 .4 .1 .3 .1 .4-1.5 .4 0 .3 1.7 .4 0 .3 .1 .4-1.5 .4 1.6 .3-1.5 .4 1.6 .3-1.5 .4 1.6 .4-1.5 .3 1.6 .4-.7 .3 0 .4 .1 .4 0 .3 .1 .4 .8 .3-1.5 .4 1.6 .4-1.5 .3 0 .4 .1 .3 0 .4 .1 .3 1.6 .4-1.6 .4 1.6 .3-1.5 .4 1.6 .3 .1 .8 0 .3 .1 .4 0 .3-1.5 .4 1.6 .4-1.5 .3 0 .4 1.6 .3-1.5 .4 1.6 .4 0 .3-1.5 .4 0 .3 1.6 .4 .1 .4-.8 .3 .1 .7 0 .4 .1 .3 0 .4-.7 .4 1.6 .3-1.6 .4 1.6 .3-1.5 .4 .1 .4 1.6 .3-1.6 .4 .1 .3 1.6 .4-1.5 .4 1.6 .3 0 .4 .1 .3 0 .4-1.5 .4 1.6 .3-1.5 .4 1.6 .3-1.5 .4 1.6 .4 0 .3-1.5 .4 1.6 .3-1.5 .4 1.6 .3-1.5 .4 1.6 .4-1.5 .3 1.7 .4 0 .3-1.5 .4 .1 .4 0 .3 1.6 .4 .1 .3 .1 .4 0 .4 .1 .3 .1 .4-1.5 .3 0 .4 1.7 .4-1.5 .3 0 .4 1.6 .3-1.4 .4 1.6 .4-1.5 .3 .1 .4 1.6 .3-1.5 .4 .1 .3 0 .4 .1 .4 1.6 .3-1.5 .4 .1 .3 .1 .4 0 .4 1.7 .3 0 .4-1.5 .3 1.7 .4 0 .4 .1 .3 .1 .4-.7 .3 0 .4 .1 .4 0 .3 .1 .4 .1 .3 0 .4 .1 .4 .1 .3 0 .4 .1 .3 .1 .4 0 .3-.7 .4 1.6 .4 .1 .3 0 .4-1.5 .3 1.6 .4-1.5 .4 .1 .3 1.6 .4-1.5 .3 .1 .4 0 .4 1.6 .3-1.5 .4 1.6 .3-1.5 .4 1.6 .4 .1 .3 0 .4 .1 .3-1.5 .4 1.6 .4-1.5 .3 1.6 .4 0 .3 .1 .4-.8 .4 .1 .3 0 .4 .1 .3 0 .4 .1 .3 0 .4 .1 .7 0 .4 .1 .3 0 .4 .1 .4 0 .3 .1 .4 0 .3 .1 .8 0 .3 .9 .4-1.5 .3 0 .4 1.6 .4-1.5 .3 0 .4 1.6 .3-1.5 .4 .1 .4 1.6 .3-1.6 .4 1.6 .3-1.5 .4 1.6 .3 .1 .4-1.6 .4 1.6 .3 .1 .4 0 .3-1.5 .4 0 .4 1.6 .3 .1 .4-1.5 .3 1.6 .4 0 .4-1.5 .3 0 .4 1.6 .3-.7 .4 0 .4 .1 .7 0 .3 .1 .8 0 .3 .1 .7 0 .4 .1 .3 0 .4 .1 .7 0 .4 .1 .7 0 .4-.7 .3 0 .4 .1 .3 1.5 .4-1.5 .4 1.6 .3-1.5 .4 0 .3 1.6 .4 0 .4 .1 .3-1.5 .4 1.5 .3-1.5 .4 1.6 .4 0 .3 .1 .4 0 .3-1.5 .4 0 .3 1.6 .4-1.5 .4 1.6 .7 0 .3-1.5 .4 1.6 .4-1.5 .3 1.5 .4-1.5 .3 1.6 .4-1.5 .4 1.6 .3-1.6 .4 1.6 .3 0 .4-1.5 .4 1.6 .3-1.5 .4 .8 .7 0 .4 .1 .7 0 .3 .1 .8 0 .3 .8 .4-1.5 .3 1.6 .4-1.6 .3 .1 .8 0 .3 1.6 .4-1.5 .3 1.6 .4-1.6 .4 .1 .3 1.5 .4 .1 .7 0 .4 .1 .3-1.6 .4 0 .3 .1 1.1 0 .4 .1 .3 0 .4 1.6 .4 0 .3-1.5 .4 0 .3 1.6 .7 0 .4-1.5 .4 0 .3 1.6 .4 0 .3 .1 .8 0 .3-.7 1.1 0 .4 .1 .7 0 .3 .1 1.1 0 .4 .1 1.1 0 .3 .1 1.1 0 .3 .1 1.1 0 .4 .1 .3 0 .4-.8 .4 .1 .3 0 .4 1.6 .3 0 .4-1.5 .4 1.6 .3 0 .4-1.5 .3 1.5 .4-1.5 .4 0 .3 1.6 .4 .1 1.1 0 .3 .1 1.1 0 .3-1.5 .4 1.6 .4 0 .3 .1 .4-1.6 .3 .1 .4 1.5 .4 .1 .3 0 .4-1.5 .3 1.6 .4-1.6 .4 1.6 .3 0 .4 .1 .3-1.6 .4 1.6 .4 .1 .3-1.6 .4 1.6 .3-1.5 .4 0 .4 1.6 .3-1.5 .7 0 .4 1.6 .3 0 .4-.7 .7 0 .4 .1 .7 0 .4 .1 1 0 .4 .1 .7 0 .4 .1 1.1 0 .3 .1 .7 0 .4 .1 .7 0 .4 .1 1 0 .4 .1 .4-.8 .3 1.6 .4 0 .3-1.5 .4 1.6 .4-1.5 .3 1.6 .4-1.6 .3 0 .4 1.6 .4-1.5 .3 1.6 .4-1.5 .3 0 .4 1.6 .4-1.5 .3 0 .4 1.6 .7 0 .4-1.5 .3 0 .4 1.6 .3-1.5 .4 0 .4 1.6 .3 0 .4-1.5 .3 0 .4 1.6 .3-1.5 .4 0 .4 .8 .3 .1 1.1 0 .4 .1 .7 0 .3 .1 1.1 0 .4 .1 .7 0 .4 .1 1 0 .4 .1 .7 0 .4 .1 1 0 .4 .1 .7 0 .4-.7 .3 1.6 .8 0 .3-1.5 .4 1.6 .3 0 .4-1.5 .4 0 .3 1.6 .4 0 .3-1.5 .4 0 .4 1.6 .3 0 .4-1.5 .3 1.6 .4 0 .4-1.5 .3 1.6 .4-1.6 .3 .1 .4 1.5 .3-1.5 .4 0 .4 1.6 .3-1.5 .4 1.6 .3-1.6 .4 1.6 .4 .1 .3-1.6 .4 1.6 .3-1.5 .4 0 .4 1.6 .3-1.5 .4 1.6 1.1 0 .3-1.5 .4 1.6 .3-1.5 .8 0 .3 1.6 .4-1.5 .3 1.6 .4-1.6 .3 1.6 .4-1.5 .4 1.6 .3-1.6 .4 .1 .3 1.6 .4-1.6 .4 1.6 .3-.7 .7 0 .4 .1 1.1 0 .3 .1 1.1 0 .4 .1 .7 0 .4 .1 1 0 .4 .1 .7 0 .4 .1 1 0 .4 .1 1.1 0 .3 .1 .8 0 .3 .1 1.1 0 .4 .1 .3 0 .4-.8 .3 .1 .4 1.6 .4-1.6 .3 0 .4 .1 .3 1.6 .4 0 .4-1.5 .3 1.5 .4 .1 .3-1.6 .4 .1 .3 0 .4 1.6 .4 0 .3-1.5 .4 1.5 .3-1.5 .4 1.6 .4 0 .3-1.5 .4 1.6 .3-1.6 .4 .1 .4 1.5 .3 .1 .4-1.6 .3 .1 .4 1.5 .4-1.5 .3 1.6 .4 0 .3-1.5 .4 1.6 1.1 0 .3-1.5 .4 0 .3 1.6 .8 0 .3-1.5 .7 0 .4 1.6 .4 0 .3 .1 1.1 0 .4-1.5 .3 1.6 .4 0 .3-1.6 .4 1.6 .4 0 .3 .1 .4-1.6 .3 0 .4 1.6 .4 0 .3-1.5 .4 .8 .7 0 .3 .1 1.5 0 .3 .1 1.5 0 .3 .1 1.5 0 .3 .1 1.5 0 .3 .1 1.5 0 .3 .1 1.8 0 .4 .1 1.4 0 .4 .1 1.4 0 .4 .1 .7 0 .4 .8 .3-1.6 .4 .1 .3 0 .4 1.6 .4-1.6 .3 0 .4 1.6 .3-1.5 .4 1.5 .3-1.5 .4 1.6 1.4 0 .4-1.5 .4 1.6 .3 0 .4-1.5 .3 0 .4 1.5 .4 .1 .3-1.6 .4 0 .3 1.6 .4 0 .4-1.5 .3 0 .4 1.6 .3 0 .4-1.6 .4 1.6 .3 0 .4-1.5 .3 1.6 .4 0 .4-1.6 .3 .1 .4 1.5 .3 0 .4-1.5 .3 1.6 .4-1.6 .4 0 .3 1.6 .4-1.5 .3 1.5 .4 .1 .4-1.6 .7 0 .3 .1 .4 1.5 .4-1.5 1 0 .4 1.6 .4-1.6 .3 .1 .4 1.5 .3-1.5 .4 1.6 1.1 0 .3-1.6 .4 .1 .3 1.5 .4-1.5 .4 0 .3 1.6 .4-1.6 .3 0 .4 .8 1.4 0 .4 .1 3.2 0 .4 .1 3.6 0 .3 .1 3.6 0 .4 .1 3.6 0 .3 .8 .4-1.5 .4 1.5 .3-1.5 .4 1.5 .3 .1 .8 0 .3-1.6 .4 0 .3 1.6 .4-1.6 .4 1.6 .3-1.6 .4 1.6 .3 0 .4-1.5 .4 0 .3 1.5 .7 0 .4 .1 .4-1.6 .3 1.6 .7 0 .4-1.6 .4 0 .3 1.6 .4-1.6 .3 1.6 .4-1.6 .3 1.6 .8 0 .3-1.5 .4 0" fill="none" stroke="#ff7f0e" stroke-width="2.90" stroke-linejoin="round" clip-path="url(#c6)"/>
<path d="M594.2 2005.8l1.1-177.1" fill="none" stroke="#ff7f0e" stroke-width="1.60" stroke-linejoin="round" clip-path="url(#c6)" stroke-dasharray="7.71 3.33"/>
<path d="M594.0 2061.5V1817.5" stroke="#ff0000" stroke-width="2.08" stroke-dasharray="7.71 3.33" fill="none"/>
<rect x="64.5" y="1817.5" width="1138.0" height="244.0" fill="none" stroke="#000" stroke-width="1.11" stroke-linejoin="miter"/>
<path d="M116.5 2061.5v5.2M260.5 2061.5v5.2M403.5 2061.5v5.2M547.5 2061.5v5.2M691.5 2061.5v5.2M834.5 2061.5v5.2M978.5 2061.5v5.2M1122.5 2061.5v5.2M64.5 2056.5h-5.2M64.5 2017.5h-5.2M64.5 1978.5h-5.2M64.5 1939.5h-5.2M64.5 1900.5h-5.2M64.5 1861.5h-5.2M64.5 1822.5h-5.2" stroke="#000" stroke-width="1.11" fill="none"/>
<text x="116.5" y="2081.8" text-anchor="middle" textLength="8.8" lengthAdjust="spacingAndGlyphs">0</text>
<text x="260.5" y="2081.8" text-anchor="middle" textLength="26.5" lengthAdjust="spacingAndGlyphs">200</text>
<text x="403.5" y="2081.8" text-anchor="middle" textLength="26.5" lengthAdjust="spacingAndGlyphs">400</text>
<text x="547.5" y="2081.8" text-anchor="middle" textLength="26.5" lengthAdjust="spacingAndGlyphs">600</text>
<text x="691.5" y="2081.8" text-anchor="middle" textLength="26.5" lengthAdjust="spacingAndGlyphs">800</text>
<text x="834.5" y="2081.8" text-anchor="middle" textLength="35.3" lengthAdjust="spacingAndGlyphs">1000</text>
<text x="978.5" y="2081.8" text-anchor="middle" textLength="35.3" lengthAdjust="spacingAndGlyphs">1200</text>
<text x="1122.5" y="2081.8" text-anchor="middle" textLength="35.3" lengthAdjust="spacingAndGlyphs">1400</text>
<text x="54.8" y="2062.2" text-anchor="end" textLength="44.2" lengthAdjust="spacingAndGlyphs">13800</text>
<text x="54.8" y="2023.2" text-anchor="end" textLength="44.2" lengthAdjust="spacingAndGlyphs">13820</text>
<text x="54.8" y="1984.2" text-anchor="end" textLength="44.2" lengthAdjust="spacingAndGlyphs">13840</text>
<text x="54.8" y="1945.2" text-anchor="end" textLength="44.2" lengthAdjust="spacingAndGlyphs">13860</text>
<text x="54.8" y="1906.2" text-anchor="end" textLength="44.2" lengthAdjust="spacingAndGlyphs">13880</text>
<text x="54.8" y="1867.2" text-anchor="end" textLength="44.2" lengthAdjust="spacingAndGlyphs">13900</text>
<text x="54.8" y="1828.2" text-anchor="end" textLength="44.2" lengthAdjust="spacingAndGlyphs">13920</text>
<text x="633.5" y="2101.8" text-anchor="middle" textLength="49.0" lengthAdjust="spacingAndGlyphs">minute</text>
<rect x="1023.1" y="1824.4" width="172.4" height="46.3" rx="2.8" ry="2.8" fill="#ffffff" fill-opacity="0.8" stroke="#cccccc" stroke-opacity="0.8" stroke-width="1.11"/>
<path d="M1028.7 1835.6h27.78" stroke="#1f77b4" stroke-width="2.08" stroke-dasharray="7.71 3.33" fill="none"/>
<path d="M1041.3 1836.0l1.3 1.6l1.3 -1.6z" fill="#1f77b4"/>
<text x="1072.2" y="1841.3" textLength="92.2" lengthAdjust="spacingAndGlyphs">Ws_E14_ma1</text>
<path d="M1028.7 1856.5h27.78" stroke="#ff7f0e" stroke-width="2.08" stroke-dasharray="7.71 3.33" fill="none"/>
<path d="M1041.3 1856.9l1.3 1.6l1.3 -1.6z" fill="#ff7f0e"/>
<text x="1072.2" y="1862.2" textLength="116.8" lengthAdjust="spacingAndGlyphs">Ws_E14_cum_ws</text>
<path d="M116.5 2113.5V2358.5M260.5 2113.5V2358.5M403.5 2113.5V2358.5M547.5 2113.5V2358.5M691.5 2113.5V2358.5M834.5 2113.5V2358.5M978.5 2113.5V2358.5M1122.5 2113.5V2358.5M64.5 2343.5H1202.5M64.5 2310.5H1202.5M64.5 2277.5H1202.5M64.5 2244.5H1202.5M64.5 2211.5H1202.5M64.5 2177.5H1202.5M64.5 2144.5H1202.5" stroke="#b0b0b0" stroke-width="1.11" fill="none"/>
<path d="M116.4 2209.5l.7-.1 .7 0 .8-.1 .7 0 .7-1 .7 .9 .7 0 .7-1 .8 .9 .7 0 .7-.1 .7 0 .7-1 1.5 0 .7-.1 .7 0 .7 .9 .8-1 .7 .9 .7 0 .7-.1 1.4 0 .8-.1 .7 0 .7-.1 1.4 0 .8-.1 1.4 0 .7-1 .7 0 .8 .8 .7 0 .7-1 1.4 0 .7 .9 .8-1 .7 .9 .7 0 .7-1 .7-.1 .8 .9 .7-.9 .7 .9 .7-1 .7 .9 .7 0 .8-.1 .7 0 .7-.1 1.4 0 .8-.1 1.4 0 .7-.1 .7 0 .8-.1 1.4 0 .7-.1 1.4 0 .8-.1 .7 0 .7-1 .7 .9 .7-.9 .8-.1 .7 .9 .7 0 .7-1 .7 .9 .7 0 .8-.1 .7 0 .7-.1 1.4 0 .8-.1 1.4 0 .7-.1 1.5 0 .7-.1 .7 0 .7-.1 1.4 0 .8-.1 1.4 0 .7-.1 .7 0 .8-1 .7 .9 .7 0 .7-1 .7 0 .7-.1 .8 .9 1.4 0 .7-.1 .7 0 .8-1 .7 0 .7 .9 .7-.1 1.5 0 .7-.1 .7-.9 .7 .9 .7-.1 .7 0 .8-.1 1.4 0 .7-.1 1.5 0 .7-.1 .7 0 .7-.1 1.5 0 .7-.1 1.4 0 .7-.1 1.5 0 .7-.1 .7-.9 .7-.1 .7 .9 .8-1 .7 .9 .7 0 .7-1 .7 .9 .7 0 .8-1 .7 0 .7-.1 .7 0 .7 .9 .8 0 .7-.1 1.4 0 .7-.1 1.5 0 .7-.1 .7 0 .7-.1 1.5 0 .7-.1 1.4 0 .7-.1 1.5 0 .7-.1 .7-.9 .7 .9 .8-1 .7 .9 .7-.1 .7 0 .7-.9 .7 .8 1.5 0 .7-.1 1.4 0 .8-.1 1.4 0 .7-.1 1.4 0 .8-.1 1.4 0 .7-.1 1.5 0 .7-.1 1.4 0 .7-.1 2.2 0 .7-.1 1.4 0 .8-.1 1.4 0 .7-.1 .7-.9 .8 .9 .7-.1 1.4 0 .7-.1 1.5 0 .7-1 1.4 0 .7 .9 .8-1 .7 .9 .7 0 .7-1 .7 .9 .8 0 .7-.1 2.1 0 .7-.1 1.5 0 .7-.1 1.4 0 .8-.1 2.1 0 .7-.1 1.5 0 .7-.1 1.4 0 .7-.1 2.2 0 .7-.1 1.5 0 .7-.1 .7 0 .7-.9 .7 .9 .7-1 .8 .9 .7-1 .7 .9 1.4 0 .8-1 .7 .9 1.4 0 .7-1 .8 .9 1.4 0 .7-.1 .7 0 .7-.9 .8-.1 .7 .9 .7-.9 .7-.1 .7 0 .8 .9 .7-.9 .7 .9 .7-.1 2.2 0 .7-.1 2.1 0 .8-.1 1.4 0 .7-.1 2.2 0 .7-.1 2.1 0 .8-.1 2.1 0 .7-.1 2.2 0 .7-.1 1.5 0 .7-.1 2.1 0 .7-.1 1.5 0 .7-1 2.2 0 .7 .9 .7-.1 .7-.9 .7 .9 .7 0 .8-1 .7 .9 .7-.9 .7 .9 .7-1 .8 0 .7 .9 .7 0 .7-1 .7 .9 1.5 0 .7-.1 2.1 0 .8-.1 2.1 0 .7-.1 2.2 0 .7-.1 2.2 0 .7-.1 2.9 0 .7-.1 2.1 0 .8-.1 2.1 0 .7-.1 2.9 0 .7-.1 2.9 0 .7-.1 .7 0 .7-.9 .8-.1 .7 0 .7 .9 .7-.9 .7 0 .8 .9 .7-1 .7 0 .7 .9 .7-.9 .8-.1 .7 .9 .7 0 .7-.9 .7 .9 .7-1 .8 0 .7 .9 .7-.9 .7 .9 .7 0 .8-1 .7 .9 2.9 0 .7-.1 2.8 0 .8-.1 3.6 0 .7-.1 2.8 0 .8-.1 3.6 0 .7-.1 3.6 0 .7-1 .7 .9 .7 0 .7-.9 .8 .9 .7-1 2.1 0 .8 .9 .7 0 .7-1 .7 .9 3.6 0 .7-.1 3.6 0 .7-.1 4.3 0 .8-.1 .7 0 .7-.9 .7 0 .7-.1 .8 1 .7-1 .7 .9 .7-.9 .7 0 .8 .9 .7-1 1.4 0 .7 .9 4.3 0 .8-.1 1.4 0 .7-.9 .7 0 .7-.1 .8 1 .7-1 .7 0 .7 .9 .7-.9 .8 .9 1.4 0 .7 .9 .4 1.7 .3 1.7 .4 1.7 .4 1.7 .3 1.7 .4 1.6 .3 1.7 .4 1.6 .3 1.7 .4 1.6 .4 1.6 .3 1.6 .4 1.6 .3 1.6 .4 1.6 .4 1.6 .3 1.6 .4 1.5 .3 1.6 .4 1.5 .4 1.5 .3 1.5 .4 1.5 .3 1.5 .4 1.4 .4 1.5 .3 1.5 .4 1.4 .3 1.5 .4 1.4 .4 1.5 .3 1.4 .4 1.4 .3 1.5 .4 1.4 .3 1.4 .4 1.4 .4 1.4 .3 1.4 .4 1.4 .3 1.4 .4 1.4 .4 1.3 .3 1.4 .4 1.3 .3 1.4 .4 1.3 .4 1.3 .3 1.3 .4 1.3 .3 1.2 .4 1.3 .4 1.3 .3 1.2 .4 1.2 .3 1.2 .4 1.2 .4 1.2 .3 1.1 .4 1.2 .3 1.1 .4 1.1 .4 1.1 .3 1.1 .4 1.1 .3 1 .4 1.1 .3 1.1 .4 1 .4 1.1 .3 1 .4 1 .3 1 .4 1.1 .4 1 .3 1 .4 .9 .3 1 .4 1 .4 .9 .3 1 .4 .9 .3 1 .4 .9 .4 .9 .3 .9 .4 .8 .3 .9 .4 .9 .4 .8 .3 .8 .4 .8 .3 .8 .4 .8 .3 .8 .4 .7 .4 .8 .3 .7 .4 .7 .3 .7 .4 .7 .4 .7 .3 .7 .4 .7 .3 .7 .4 .7 .4 .7 .3 .7 .4 .6 .3 .7 .4 .6 .4 .7 .3 .6 .4 .7 .3 .6 .4 .6 .4 .6 .3 .6 .4 .6 .3 .6 .4 .5 .3 .6 .4 .5 .4 .5 .3 .5 .4 .5 .3 .5 .4 .5 .4 .4 .3 .5 .4 .4 .3 .4 .4 .4 .4 .3 .3 .4 .4 .3 .3 .3 .4 .4 .4 .3 .3 .3 .4 .3 .3 .4 .4 .3 .4 .3 .3 .3 .4 .3 .3 .3 .4 .3 .3 .3 .4 .2 .4 .3 .3 .2 .4 .2 .3 .2 .4 .2 .4 .1 .3 .1 .4 .1 .3 .1 .4 .1 1.1 0 .3-.1 .4 0 .4-.1 .3 0 .4-.1 .3-.1 .4-.1 .4-.1 .3-.2 .4-.1 .3-.1 .4-.2 .3-.2 .4-.1 .4-.2 .3-.2 .4-.2 .3-.2 .4-.2 .4-.2 .3-.2 .4-.3 .3-.2 .4-.2 .4-.2 .3-.3 .4-.2 .3-.3 .4-.2 .4-.3 .3-.3 .4-.4 .3-.4 .4-.4 .4-.4 .3-.5 .4-.4 .3-.6 .4-.5 .4-.5 .3-.6 .4-.6 .3-.6 .4-.6 .3-.7 .4-.6 .4-.7 .3-.7 .4-.7 .3-.7 .4-.7 .4-.7 .3-.8 .4-.7 .3-.8 .4-.7 .4-.8 .3-.7 .4-.8 .3-.8 .4-.8 .4-.7 .3-.8 .4-.8 .3-.7 .4-.8 .4-.8 .3-.8 .4-.9 .3-.9 .4-.9 .3-.9 .4-.9 .4-1 .3-.9 .4-1 .3-1 .4-1 .4-1.1 .3-1 .4-1 .3-1.1 .4-1 .4-1.1 .3-1.1 .4-1.1 .3-1 .4-1.1 .4-1.1 .3-1.1 .4-1.2 .3-1.1 .4-1.2 .4-1.1 .3-1.2 .4-1.2 .3-1.2 .4-1.2 .3-1.2 .4-1.3 .4-1.2 .3-1.3 .4-1.3 .3-1.3 .4-1.3 .4-1.3 .3-1.3 .4-1.3 .3-1.4 .4-1.3 .4-1.4 .3-1.3 .2-.9 .4-.1 .4-.1 .3-.2 .4-.1 .3-.1 .4-.1 .3-.2 .4-.1 .4-.1 .3-.1 .4-.2 .3-.1 .4-.1 .4-.1 .3-.2 .4-.1 .3-.1 .4-.1 .4-.1 .3-.1 .4-.2 .3-.1 .4-.1 .4-.1 .3-.1 .4-.1 .3-.1 .4-.1 .4-.1 .3-.1 .4-.7 .3 1.1 .4-.1 .4-1.3 .3-.1 .4-.1 .3 1.1 .4-1.3 .3 1.2 .4-1.3 .4 1.1 .3-.1 .4-.1 .3-1.2 .4 1.1 .4-1.3 .3 1.1 .4 0 .3-.1 .4-.1 .4-.1 .3 0 .4-1.3 .3 0 .4-.1 .4 1.1 .3-1.2 .4 1.1 .3-1.3 .4 1.2 .4-.1 .3 0 .4-.1 .3-1.3 .4 1.2 .3-1.3 .4 0 .4-.1 .3 0 .4 1.1 .3-.1 .4 0 .4-1.3 .3 0 .4-.1 .3 1.2 .4-1.3 .4 0 .3-.1 .4 1.1 .3-1.2 .4-.1 .4 1.2 .3-.1 .4-.1 .3 0 .4-.1 .4-1.2 .3-.1 .4 0 .3-.1 .4 1.1 .3 0 .4-.1 .4-1.3 .3 1.2 .4-.1 .3-1.3 .4 1.1 .4-1.2 .3-.1 .4-.1 .3 0 .4-.1 .4 1.1 .3-1.3 .4-.1 .3 1.1 .4 0 .4-1.3 .3 1.1 .4-1.3 .3 1.1 .4-1.3 .4 1.1 .3-1.3 .4-.1 .3-.1 .4-.1 .3-.1 .4-.1 .4-.1 .3-.1 .4-.2 .3 1.1 .4-.1 .4-1.3 .3-.1 .4-.2 .3 1.1 .4-.1 .4-1.3 .3-.2 .4 1.1 .3-1.3 .4 1 .4-.1 .3-1.3 .4 1 .3-.1 .4-.2 .4-1.3 .3-.1 .4-.2 .3 1.1 .4-.2 .3-.1 .4-1.4 .4-.1 .3-.2 .4 1.1 .3-1.3 .4 1 .4-.2 .3-.1 .4-1.3 .3-.2 .4-.1 .4-.2 .3-.1 .4-.2 .3-.1 .4-.2 .4-.1 .3-.2 .4-.1 .3-.2 .4 1.1 .4-.2 .3-1.3 .4-.2 .3-.1 .4 1 .4-.1 .3-1.4 .4 1.1 .3-1.3 .4-.2 .3-.1 .4 1 .4-1.3 .3-.2 .4 1.1 .3-.1 .4-.2 .4-.1 .3-.1 .4-1.4 .3 1.1 .4-.1 .4-1.4 .3-.1 .4-.2 .3 1.1 .4-1.3 .4-.2 .3 1.1 .4-.2 .3-.1 .4-1.3 .4-.2 .3 1.1 .4-1.3 .3 1 .4-1.3 .3 1 .4-1.3 .4-.1 .3-.2 .4 1.1 .3-1.4 .4-.1 .4-.1 .3 1 .4-.1 .3-.2 .4-1.3 .4-.1 .3-.2 .4-.1 .3 1.1 .4-1.4 .4 1.1 .3-.1 .4-.2 .3-.1 .4-.1 .4-1.4 .3-.1 .4-.1 .3 .3 .4 1.5 .3-2.5 .4 1.8 .4-.9 .3 .1 .4-1 .3 .6 .4-.3 .4-.4 .3-1.7 .4 1.2 .3 1.8 .4-1.1 .4-.3 .3-.8 .4-1.2 .3 .2 .4 .3 .4 .4 .3 1.3 .4 .1 .3-3.3 .4 1.3 .4-.9 .3 .4 .4 1.4 .3 .2 .4-1.3 .3-.3 .4-.5 .4 .2 .3 .4 .4-1 .3 2.1 .4-.8 .4-.6 .3 .5 .4-1.9 .3 0 .4 1.6 .4-.3 .3-.4 .4-1 .3 1 .4-1.3 .4 2 .3-1.7 .4-1.2 .3 1.3 .4-1.1 .4-.3 .3 .9 .4-.8 .3 .2 .4 .8 .3-1.6 .4-.3 .4-.6 .3 .1 .4 .7 .3-.7 .4 1.1 .4-.3 .3-1.7 .4 1.6 .3-1.9 .4-1 .4 1.4 .3-1.1 .4-.3 .3 .7 .4-1.6 .4-.6 .3-1.5 .4-.5 .3 .9 .4 0 .4 .7 .3-1.1 .4-1.2 .3 .2 .4-1.3 .4 2 .3-1 .4 1.3 .3-2.8 .4 .8 .3-.4 .4 0 .4-1.8 .3-.4 .4 .9 .3-1.1 .4-.5 .4 .2 .3-.6 .4-1.3 .3-.1 .4 .9 .4-.7 .3-.4 .4 .9 .3-.6 .4-2.4 .4 .3 .3 .7 .4-1.1 .3-.6 .4-.1 .4 1.2 .3-.2 .4-.1 .3 .2 .4-2.4 .3-.1 .4 .4 .4 1 .3-1.5 .4-.4 .3-.3 .4-.5 .4 .8 .3-1.2 .4 1 .3-.1 .4-.5 .4-.6 .3-1.2 .4-.2 .3-.1 .4 .6 .4-.5 .3 .3 .4-1.2 .3 .3 .4 .5 .4 .9 .3-.9 .4-.2 .3-.9 .4-.8 .3-.7 .4 .9 .4-1.7 .3 .7 .4-.8 .3 1.4 .4-.4 .4-1.1 .3-2.1 .4 .6 .3 1 .4-.2 .4 .9 .3-1.1 .4-1.7 .3-.3 .4 .5 .4 .2 .3-1 .4-.3 .3 .4 .4-.5 .4-1.6 .3 1.4 .4-1.2 .3 1.3 .4-.8 .3-.8 .4 .7 .4-2.7 .3 2.7 .4-2.1 .3 .9 .4-.5 .4-.5 .3-.6 .4-.5 .3-.2 .4 1.2 .4-2 .3 1.2 .4-.4 .3 .1 .4-.1 .4-.4 .3-1.5 .4 .7 .3 0 .4-1.7 .4-2 .3 1.5 .4-.2 .3-1.4 .4-.9 .3 .1 .4 1.4 .4-1.7 .3 1 .4-1.7 .3 .8 .4-1.5 .4 .8 .3-.2 .4-.3 .3-1.6 .4-.2 .4 .7 .3-.8 .4-.1 .3-1.1 .4 .9 .4 0 .3 1 .4-2.9 .3-.7 .4-.8 .4 1.4 .3-.5 .4 1 .3 .2 .4-.3 .4-2.2 .3 1.6 .4-.6 .3-1.1 .4-.2 .3 1.2 .4-1.8 .4-1.1 .3 .8 .4-.6 .3 .7 .4-.5 .4-1.4 .3 1.1 .4 .5 .3-2.2 .4 .1 .4 .7 .3-1.4 .4 0 .3 1.1 .4-1.6 .4 1 .3-1.8 .4 .3 .3 .2 .4-.8 .4 1 .3-.8 .4 1.3 .3-2.4 .4 .6 .3 .2 .4-1.1 .4 2.2 .3-1.8 .4-1.7 .3 .9 .4-.1 .4-1 .3 1.4 .4-1.6 .3 1.7 .4-.7 .4-.3 .3-.2 .4-2.4 .3 1 .4 .3 .4 .7 .3-.3 .4-1 .3-.8 .4-.6 .4-.9 .3 .9 .4-1.2 .3 1.6 .4-.2 .3-1.2 .4-.4 .4-.9 .3 .6 .4-.7 .3 1.4 .4-.1 .4-1.7 .3 1 .4-.3 .3-.3 .4 .7 .4-2 .3-.4 .4 1.7 .3-.9 .4-.6 .4-1.4 .3 .2 .4 0 .3-.9 .4 1.9 .4-1.9 .3 .1 .4 .4 .3-.9 .4-.8 .3 1.4 .4 .2 .4-1.4 .3 .9 .4 .7 .3-2.3 .4 .1 .4 .7 .3-1.4 .4 .5 .3 .1 .4-1.3 .4-.4 .3 .9 .4-.9 .3 .9 .4-1.6 .4-.5 .3-.2 .4 1 .3-.8 .4-.4 .4 .6 .3 0 .4-.7 .3 .8 .4-.3 .3-2.5 .4 .8 .4-.3 .3 .7 .4-1.3 .3-.6 .4-.1 .4 1.9 .3-1.3 .4-1.1 .3 .2 .4 .3 .4 .5 .3-2.4 .4 1.8 .3-.2 .4-.4 .4-1.4 .3 1.1 .4-1.7 .3 1.4 .4-.2 .4-2.9 .3 4.9 .4-3.8 .3-.9 .4 1.8 .4-.5 .3 .4 .4-.9 .3-2.6 .4 3.1 .3-2 .4-1.1 .4 .4 .3-.6 .4-1.3 .3 2 .4-.6 .4-.8 .3 .6 .4-1.8 .3-.5 .4 .9 .4-.2 .3-.4 .4-.5 .3 1 .4-.1 .4-1.1 .3-1.2 .4 0 .3 .4 .4-.2 .4 .2 .3-1.2 .4 .4 .3 .3 .4-1.6 .3 2.7 .4-2.3 .4-1.6 .3 1.8 .4-.3 .3-.4 .4-1 .4 .7 .3-1.8 .4 1.9 .3 0 .4-.7 .4 .6 .3-1.3 .4-.6 .3-.1 .4 .6 .4-.3 .3-.6 .4 .4 .3-.6 .4-.2 .4 .7 .3 .1 .4 1.2 .3-1 .4-1.3 .3 1.1 .4-1.3 .4-.1 .3 1.1 .4-.1 .3-.1 .4 0 .4-1.3 .3-.1 .4-.1 .3-.1 .4 0 .4-.1 .3 1.1 .4-.1 .3-1.3 .4 1.2 .4-1.3 .3 1.1 .4-.1 .3-1.2 .4-.1 .4-.1 .3 1.2 .4-1.3 .3-.1 .4 0 .3-.1 .4 .5 .4-.9 .3 .8 .4-1 .3 0 .4 .8 .4-1 .3 .9 .4-.1 .3 0 .4-.1 .4 0 .3-1 .4-.1 .3 .9 .4-.1 .4-.9 .3-.1 .4 0 .3 .8 .4-1 .4 .9 .3-1 .4 0 .3 .9 .4-1 .3-.1 .4 0 .4-.1 .3 0 .4-.1 .3 .9 .4-.1 .4-.9 .3 .8 .4-.9 .3-.1 .4 0 .4 .9 .3-1 .4-.1 .3 .9 .4 0 .4-.1 .3 0 .4-.1 .7 0 .4-.1 .3-1 .4 .9 .3 0 .4-.1 .4-.9 .3 .9 .4-1 .3 0 .4 .8 .7 0 .4-1 .3 .9 .4-.1 .3-.9 .4-.1 .7 0 .4-.1 .3 0 .4 .9 .4-1 .3 0 .4-.1 .7 0 .4-.1 .7 0 .3 .8 .8 0 .3-.1 .7 0 .4-.1 .3-.9 .4-.1 .4 .9 .3-1 .7 0 .4-.1 .7 0 .4 .8 .3-.9 .4-.1 .7 0 .4-.1 .3 0 .4-.1 .4 .9 .3 0 .4-.1 .3-.9 .4 .9 .4-.1 .3-1 .4 .9 .3 0 .4-1 .3 0 .4 .9 .4-.1 .3 0 .4-.1 .3 0 .4-.1 .4 0 .3-1 .4 .9 .3 0 .4-1 .4 0 .3-.1 .4 0 .3-.1 .4 .9 .4 0 .3-1 .4 0 .3 .8 .8 0 .3-.1 .4 0 .3-.1 .4 0 .3-1 .4 0 .4-.1 .3 .9 .4-1 .3 0 .4 .9 .4-.1 .3-.9 .4 .9 .3-1 .4 .9 .4-.1 .3-.9 .4-.1 .3 .9 .4 0 .4-1 .3-.1 .4 .9 .3-.9 .4-.1 .4 .9 .3-1 .4 .9 .3 0 .4-1 .3 .9 .4 0 .4-.1 .3-.9 .4-.1 .3 .9 .4 0 .4-.1 .3-.9 .4-.1 .3 .9 .4 0 .4-1 .3 .9 .4 0 .3-1 .4 .9 .4-.9 .3-.1 .4 0 .3 .9 .4 0 .4-.1 .7 0 .3-.1 .8 0 .3-.1 .7 0 .4-.1 .3 0 .4-1 1.1 0 .3 .8 .4-.9 .4 .9 .3-1 .7 0 .4-.1 .4 .9 .3-.9 .4-.1 .3 0 .4 .9 .4 0 .3-1 .4 0 .3 .9 .4-1 .4 .9 .3-.9 .4 .9 .3-.1 1.1 0 .4-.1 .7 0 .3-.1 1.1 0 .4-.1 .7 0 .4-.1 1 0 .4-.1 .7 0 .4-.1 .3 0 .4-.9 .4 .9 .3-.1 .4-.9 .3 0 .4-.1 .7 0 .4-.1 .3 .9 1.1 0 .4-.1 .3-.9 .4 0 .3 .9 .4-1 .4 .9 .3 0 .4-.1 .7 0 .4-1 1 0 .4 .9 .4-.1 1 0 .4-.1 1.1 0 .3-.1 .7 0 .4-.1 1.1 0 .3-.1 1.1 0 .4-.1 .3-.9 .4 0 .4 .9 .3-.1 .4 0 .3-.9 .4 .9 .4-1 .3 .9 .4-.9 .3-.1 .4 0 .3 .9 .4 0 .4-.9 .3 .9 .4-1 .7 0 .4-.1 .3 0 .4 .9 .7 0 .4-.1 .3 0 .4-.9 .3 .9 .4-1 .4 0 .3 .9 .4-1 .7 0 .4 .9 .3-.9 .4-.1 .3 .9 1.1 0 .4-.1 1.4 0 .4-1 .3 .9 .4-.9 .3 .9 .4-1 .4 .9 .3-.9 .4-.1 .3 .9 1.1 0 .4-1 1.1 0 .3-.1 .4 1 .3-.1 .4-.9 .4 0 .3-.1 .4 .9 .7 0 .3-.9 .4-.1 1.1 0 .3 .9 .4-1 .4 .9 .7 0 .3-1 .4 .9 1.4 0 .4-.1 1.4 0 .4-.1 1.4 0 .4-.1 1.4 0 .4-.1 1.4 0 .4-.1 1.1 0 .3-1 .4 .9 .3-.9 .4 .9 .4-.9 .3 .9 .4-.1 .3-.9 .4 0 .4 .9 .3-1 .4 .9 .3-.9 .4 .9 .7 0 .4-.1 .3 0 .4-.9 .3 .9 .4 0 .4-1 .3 0 .4 .9 .3-.9 .4 .9 .4 0 .3-1 .4 0 .3 .9 .8 0 .3-.1 .4-.9 .3 .9 .4 0 .4-1 .7 0 .3 .9 1.1 0 .4-.1 .3-.9 .4 .9 .3 0 .4-1 .4 1 .3-.1 1.5 0 .3-.1 1.8 0 .4-.1 1.8 0 .3-.1 1.8 0 .4-.1 1.4 0 .4-1 .3 .9 .4-.9 .4 0 .3 .9 1.1 0 .4-.1 .3-.9 .4 .9 .3 0 .4-1 .4 1 .3-1 .7 0 .4 .9 .4 0 .3-1 .4 .9 1 0 .4-.9 .4 .9 .3-1 .4 .9 .3-.9 .8 0 .3-.1 .4 1 .3-.1 2.2 0 .4-.1 1.8 0 .3-.1 2.2 0 .3-.1 2.2 0 .3-1 .4 0 .4 .9 .3 0 .4-.9 .3-.1 .8 0 .3 .9 .4 0 .3-.9 .4 0 .4-.1 .3 1 .4-.1 .3-.9 .4 .9 .3-.9 .4 0 .4-.1 .3 1 .4-.1 .3 0 .4-.9 .4 .9 .3 0 .4-1 1.4 0 .4 .9 .3-.9 .4-.1 .4 0 .3 .9 .4-.9 .3 .9 .4-.9 .4-.1 .3 1 .4-.1 .3-.9 .4 .9 .3-.9 .4 0 .4-.1 .3 1 .4-.1 .7 0 .4-.9 .3 .9 .4-1 .7 0 .4 .9 .3-.9 .4 .9 1.1 0 .3-.1 2.2 0 .3-.1 1.8 0 .4-.1 2.1 0 .4-.1 2.2 0 .3-.1 1.8 0 .4-.1 1.1 0 .3-.9 .4 .9 .3-1 .4 .9 .3 0 .4-.9 .4 .9 .3 0 .4-1 .3 .9 .8 0 .3-.9 .4 .9 .3-1 .4 0 .4 .9 .3-.9 .7 0 .4 .9 .4-1 .3 .9 .4-.9 .3 0 .4 .9 .4 0 .3-1 .4 .9 .3-.9 .4 .9 .3-.9 .4 .9 .4-.1 .3 0 .4-.9 .3 .9 .4 0 .4-1 .3 .9 .7 0 .4-.9 .4 0 .3 .9 .4-.1 1.1 0 .3-.9 .4-.1 .3 0 .4 .9 1.1 0 .3-1 .4 .9 .3-.9 .4 0 .4 .9 .7 0 .3-.1 1.8 0 .4-.1 1.8 0 .4-.1 2.1 0 .4-.1 1.8 0 .3-.1 1.8 0 .4-.1 1.8 0 .3-.1 2.2 0 .4-.1 1 0 .4-1 .4 1 .3-.1 .4-.9 .3 .9 .4-.9 .3 .9 .4-1 .4 1 .3-1 .4 0 .3 .9 .4 0 .4-.9 .3-.1 .4 1 .3-1 .4 .9 .4-.9 .3 0 .4 .9 .3 0 .4-1 .4 .9 .7 0 .3-.9 .4 0 .4 .9 .3 0 .4-1 .3 .9 .4-.9 1.1 0 .3 .9 .4 0 .3-.1 .8 0 .3-.9 .4 0 .3 .9 .8 0 .3-1 .4 0 .3 .9 .4-.9 .4 .9 .3 0 .4-1 .3 1 .4-1 .4 .9 .3 0 .4-.9 .7 0 .3 .9 .4-1 .4 1 .3 0 .4-1 .3 .9 .4-.9 .7 0 .4 .9 1.4 0 .4-.1 3.6 0 .3-.1 4.3 0 .4-.1 4.3 0 .4-.1 2.8 0 .4-.9 .4 .9 .7 0 .3-1 .4 1 .4-.1 .3 0 .4-.9 .3 0 .4 .9 .4 0 .3-.9 .4 .9 .3-.9 .4 .9 .4 0 .3-.9 .4 0 .3-.1 .4 1 .4 0 .3-1 .4 0 .3 .9 1.1 0 .4-.9 .3 .9 .4-.9 .3 .9 1.1 0 .4-.9 .3 .9 .4 0" fill="none" stroke="#1f77b4" stroke-width="2.90" stroke-linejoin="round" clip-path="url(#c7)" />
<path d="M116.4 2211l364.3 0" fill="none" stroke="#ff7f0e" stroke-width="2.90" stroke-linejoin="round" clip-path="url(#c7)" />
<path d="M579.7 2211l11 0 3.5-.2 2.2-2.1 2.2-1.4 2.1-.5 1.5-.5 2.1 .5 2.2-.5 543.9 0" fill="none" stroke="#ff7f0e" stroke-width="2.90" stroke-linejoin="round" clip-path="url(#c7)" />
<path d="M594.0 2358.5V2113.5" stroke="#ff0000" stroke-width="2.08" stroke-dasharray="7.71 3.33" fill="none"/>
<rect x="64.5" y="2113.5" width="1138.0" height="245.0" fill="none" stroke="#000" stroke-width="1.11" stroke-linejoin="miter"/>
<path d="M116.5 2358.5v5.2M260.5 2358.5v5.2M403.5 2358.5v5.2M547.5 2358.5v5.2M691.5 2358.5v5.2M834.5 2358.5v5.2M978.5 2358.5v5.2M1122.5 2358.5v5.2M64.5 2343.5h-5.2M64.5 2310.5h-5.2M64.5 2277.5h-5.2M64.5 2244.5h-5.2M64.5 2211.5h-5.2M64.5 2177.5h-5.2M64.5 2144.5h-5.2" stroke="#000" stroke-width="1.11" fill="none"/>
<text x="116.5" y="2378.8" text-anchor="middle" textLength="8.8" lengthAdjust="spacingAndGlyphs">0</text>
<text x="260.5" y="2378.8" text-anchor="middle" textLength="26.5" lengthAdjust="spacingAndGlyphs">200</text>
<text x="403.5" y="2378.8" text-anchor="middle" textLength="26.5" lengthAdjust="spacingAndGlyphs">400</text>
<text x="547.5" y="2378.8" text-anchor="middle" textLength="26.5" lengthAdjust="spacingAndGlyphs">600</text>
<text x="691.5" y="2378.8" text-anchor="middle" textLength="26.5" lengthAdjust="spacingAndGlyphs">800</text>
<text x="834.5" y="2378.8" text-anchor="middle" textLength="35.3" lengthAdjust="spacingAndGlyphs">1000</text>
<text x="978.5" y="2378.8" text-anchor="middle" textLength="35.3" lengthAdjust="spacingAndGlyphs">1200</text>
<text x="1122.5" y="2378.8" text-anchor="middle" textLength="35.3" lengthAdjust="spacingAndGlyphs">1400</text>
<text x="54.8" y="2349.2" text-anchor="end" textLength="31.5" lengthAdjust="spacingAndGlyphs">-100</text>
<text x="54.8" y="2316.2" text-anchor="end" textLength="22.7" lengthAdjust="spacingAndGlyphs">-75</text>
<text x="54.8" y="2283.2" text-anchor="end" textLength="22.7" lengthAdjust="spacingAndGlyphs">-50</text>
<text x="54.8" y="2250.2" text-anchor="end" textLength="22.7" lengthAdjust="spacingAndGlyphs">-25</text>
<text x="54.8" y="2217.2" text-anchor="end" textLength="8.8" lengthAdjust="spacingAndGlyphs">0</text>
<text x="54.8" y="2183.2" text-anchor="end" textLength="17.7" lengthAdjust="spacingAndGlyphs">25</text>
<text x="54.8" y="2150.2" text-anchor="end" textLength="17.7" lengthAdjust="spacingAndGlyphs">50</text>
<text x="633.5" y="2398.8" text-anchor="middle" textLength="49.0" lengthAdjust="spacingAndGlyphs">minute</text>
<rect x="71.4" y="2120.4" width="189.5" height="46.3" rx="2.8" ry="2.8" fill="#ffffff" fill-opacity="0.8" stroke="#cccccc" stroke-opacity="0.8" stroke-width="1.11"/>
<path d="M77.0 2131.6h27.78" stroke="#1f77b4" stroke-width="2.08" stroke-dasharray="7.71 3.33" fill="none"/>
<path d="M89.6 2132.0l1.3 1.6l1.3 -1.6z" fill="#1f77b4"/>
<text x="120.5" y="2137.3" textLength="112.2" lengthAdjust="spacingAndGlyphs">Ws_E14_cum_et</text>
<path d="M77.0 2152.5h27.78" stroke="#ff7f0e" stroke-width="2.08" stroke-dasharray="7.71 3.33" fill="none"/>
<path d="M89.6 2152.9l1.3 1.6l1.3 -1.6z" fill="#ff7f0e"/>
<text x="120.5" y="2158.2" textLength="133.9" lengthAdjust="spacingAndGlyphs">Ws_E14_cum_drain</text>
</g>
</svg>
</body></html>
